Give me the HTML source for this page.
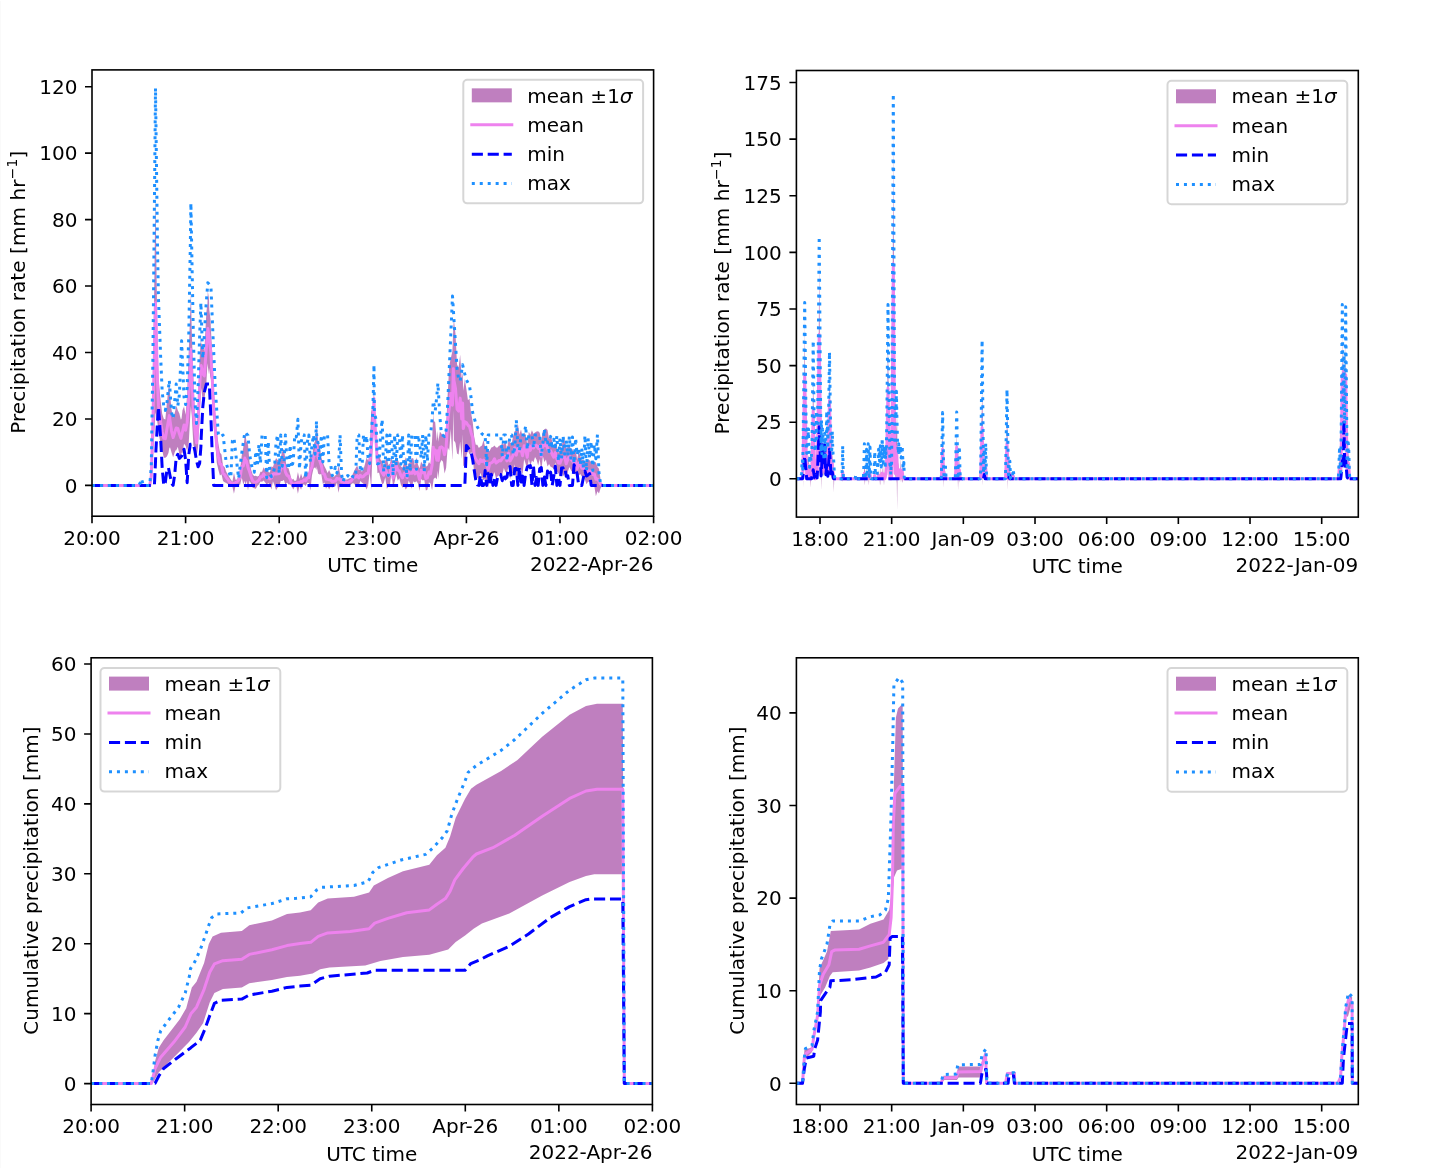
<!DOCTYPE html>
<html lang="en"><head><meta charset="utf-8"><title>Precipitation ensemble statistics</title>
<style>html,body{margin:0;padding:0;background:#fff}svg{display:block;will-change:transform}</style></head>
<body>
<svg width="1430" height="1168" viewBox="0 0 1430 1168" font-family="'DejaVu Sans','Liberation Sans',sans-serif" font-size="20" fill="#000">
<rect width="1430" height="1168" fill="#fff"/>
<rect x="0" y="1" width="1" height="1167" fill="#fafafa"/>
<clipPath id="c1"><rect x="92" y="69.9" width="561.6" height="446.3"/></clipPath>
<g clip-path="url(#c1)" fill="none" stroke-linejoin="round">
<polygon points="92,485.4 93.56,485.4 95.12,485.4 96.68,485.4 98.24,485.4 99.8,485.4 101.36,485.4 102.92,485.4 104.48,485.4 106.04,485.4 107.6,485.4 109.16,485.4 110.72,485.4 112.28,485.4 113.84,485.4 115.4,485.4 116.96,485.4 118.52,485.4 120.08,485.4 121.64,485.4 123.2,485.4 124.76,485.4 126.32,485.4 127.88,485.4 129.44,485.4 131,485.4 132.56,485.4 134.12,485.4 135.68,485.4 137.24,485.4 138.8,485.4 140.36,485.4 141.5,485.4 141.92,485.4 143.48,485.4 145.04,485.4 146.6,485.4 148.16,485.4 149.72,485.4 151.28,470.52 152.84,387.59 154.4,274.89 155.5,193.02 155.96,231.74 157.52,340.01 158.5,379.08 159.08,384.86 160.64,400.41 162.2,413.63 163.76,418.82 165.32,419.56 166.88,402.68 168.44,388.22 169.3,383.01 170,393.5 171.56,409.73 173.12,417.81 174.68,412.91 176.2,406.83 176.24,405.19 177.8,410.14 179.36,413.62 180.92,419.85 181.6,418.34 182.48,410.27 184.04,406.43 185.6,414.69 187.16,394.54 188.72,351.8 190.28,310.65 190.9,292.01 191.84,332.84 193.4,379.23 194.96,412.48 196.52,428.84 198.08,402.02 199.64,358.45 200.9,338.11 201.2,343.31 202.76,345.82 204.32,351.46 205.88,321.6 206.3,312.65 207.44,303.42 207.8,290.92 209,298.87 209.3,310.03 210.56,319.43 210.9,328.38 212.12,351.54 213.68,385.5 215.24,412.84 216.8,431.36 218.36,443.43 219.92,452.41 221.48,454.55 223.04,465.66 224.6,466.95 226.16,471.61 227.72,474.56 229.28,477.02 230.84,479.48 232.4,481.83 233.96,472.85 235.52,479.63 237.08,479.42 238.64,475 240.2,469.03 241.76,455.21 243.32,447.5 244.88,435.21 245.2,432.72 246.44,441.22 248,444.58 249.56,462.54 251.12,469.78 252.68,474.38 254.24,475.92 255.8,475.82 257.36,476.58 258.92,475.69 260.48,471.73 262.04,471.87 263.6,467.3 265.16,470.01 266.72,470.72 268.28,472.07 269.84,472.51 271.4,466.55 272.96,467.02 274.52,462 276.08,457.97 277.64,459.94 279.2,460.52 280.76,456.98 282.32,451.27 283.88,448.67 285.44,459.44 287,468.1 288.56,468.31 290.12,473.74 291.68,480.05 293.24,478.67 294.8,480.9 296.36,480.33 297.92,471.92 299.48,478.95 301.04,473.47 302.6,478.2 304.16,474.86 305.72,475.5 307.28,472.46 308.84,472.39 310.4,450.05 311.96,458.69 313.52,445.1 315.08,441.1 316.5,428.59 316.64,423.52 318.2,441.58 319.76,446.84 321.32,457.09 322.88,462.48 324.44,466.24 326,469.19 327.56,472.89 329.12,470.03 330.68,473.4 332.24,476.03 333.8,477.06 335.36,475.34 336.92,474.15 338.48,465.47 340.04,473.17 341.6,478.22 343.16,478.43 344.72,479.81 346.28,479.54 347.84,479.31 349.4,478.37 350.96,477.86 352.52,474.42 354.08,470.93 355.64,468.03 357.2,465.59 358.76,469.99 360.32,469.56 361.88,471.63 363.44,469.38 365,463.96 366.56,457.62 368.12,460.65 369.68,454.89 371.24,407.98 372.8,416.4 374,385.17 374.36,403.39 375.92,430.29 377.48,454.89 379.04,453.91 380.6,459.75 382.16,461.31 383.72,467.23 385.28,460.14 386.84,457.78 388.4,465.23 389.96,463.62 391.52,456.77 393.08,468.76 394.64,462.42 396.2,456.63 397.76,459.5 399.32,463.54 400.88,466.14 402.44,467.85 404,462.63 405.56,457.1 407.12,467.27 408.68,463.05 410.24,462.61 411.8,457.89 413.36,458.61 414.92,465.41 416.48,457.33 418.04,464.77 419.6,468.49 421.16,461.51 422.72,464.8 424.28,462.55 425.84,466.55 427.4,466.08 428.96,461.91 430.52,464.25 432.08,439.99 433.3,413.08 433.64,420.77 435.2,422.34 436.76,441.09 437.9,430.64 438.32,441.77 439.88,431.5 441.44,433.66 443,434.54 444.56,435.71 446.12,427.33 447.68,394.39 449.24,365.85 450.8,358.25 452.36,351.22 452.5,348.55 453.3,327.29 453.92,320.27 455.48,333.8 457.04,364.46 458.6,367.7 460.16,354.74 461.72,379.1 462.6,371.8 463.28,390.87 464.84,378.98 466.4,389.22 467.96,400.33 469.52,398.57 471.08,413.02 472.64,421.13 474.2,436.88 475.76,444.83 477.32,444.83 478.88,448.1 480.44,446.56 482,445.44 483.56,439.9 485.12,447.04 486.68,445.15 488.24,451.8 489.8,450.5 491.36,447.41 492.92,446.89 494.48,445.48 496.04,447.5 497.6,447.46 499.16,445.48 500.72,445.97 502.28,442.42 503.84,444.85 505.4,440.59 506.96,448.77 508.52,440.22 510.08,442.59 511.64,443.57 513.2,435.9 514.76,431.05 516.32,430.71 517.88,423.6 519.44,434.53 521,429.62 522.56,437.12 524.12,432.44 525.68,434.9 527.24,444.02 528.8,431.78 530.36,434.63 531.92,430.2 533.48,433.71 535.04,432.56 536.6,431.44 538.16,431.29 539.72,432.72 541.28,440.7 542.84,431.11 544.4,429.35 545.96,428.47 547.52,429.93 549.08,439.13 550.64,434.74 552.2,441.45 553.76,445.89 555.32,442.72 556.88,446.89 558.44,452.84 560,449.4 561.56,447.52 563.12,438.03 564.68,440.28 566.24,449.01 567.8,446.69 569.36,445.39 570.92,448.76 572.48,449.18 574.04,452.84 575.6,448.56 577.16,459.41 578.72,451.6 580.28,455.72 581.84,459.97 583.4,459.87 584.96,462.32 586.52,460.82 588.08,459.5 589.64,460.32 591.2,462.14 592.76,464.57 594.32,462.04 595.88,462.18 597.44,466.79 599,468.86 600.56,479.53 602.12,485.4 603.68,485.4 605.24,485.4 606.8,485.4 608.36,485.4 609.92,485.4 611.48,485.4 613.04,485.4 614.6,485.4 616.16,485.4 617.72,485.4 619.28,485.4 620.84,485.4 622.4,485.4 623.96,485.4 625.52,485.4 627.08,485.4 628.64,485.4 630.2,485.4 631.76,485.4 633.32,485.4 634.88,485.4 636.44,485.4 638,485.4 639.56,485.4 641.12,485.4 642.68,485.4 644.24,485.4 645.8,485.4 647.36,485.4 648.92,485.4 650.48,485.4 652.04,485.4 653.6,485.4 653.6,485.4 652.04,485.4 650.48,485.4 648.92,485.4 647.36,485.4 645.8,485.4 644.24,485.4 642.68,485.4 641.12,485.4 639.56,485.4 638,485.4 636.44,485.4 634.88,485.4 633.32,485.4 631.76,485.4 630.2,485.4 628.64,485.4 627.08,485.4 625.52,485.4 623.96,485.4 622.4,485.4 620.84,485.4 619.28,485.4 617.72,485.4 616.16,485.4 614.6,485.4 613.04,485.4 611.48,485.4 609.92,485.4 608.36,485.4 606.8,485.4 605.24,485.4 603.68,485.4 602.12,485.4 600.56,488.27 599,493.61 597.44,491.2 595.88,496.29 594.32,485.99 592.76,484.5 591.2,481.49 589.64,482.1 588.08,481.84 586.52,484.23 584.96,479.67 583.4,475.94 581.84,476.41 580.28,473.92 578.72,475.56 577.16,478.43 575.6,473.6 574.04,474.36 572.48,472.61 570.92,470.2 569.36,467.01 567.8,472.09 566.24,478.67 564.68,473.71 563.12,476.16 561.56,469.83 560,477.04 558.44,473.31 556.88,471.2 555.32,462.46 553.76,468.6 552.2,467.41 550.64,466.69 549.08,464.01 547.52,466.49 545.96,459.39 544.4,462.05 542.84,456.03 541.28,471.68 539.72,459.11 538.16,465.4 536.6,459.86 535.04,456.93 533.48,462.36 531.92,460.44 530.36,466.1 528.8,459.03 527.24,470.53 525.68,464.04 524.12,458.92 522.56,474.55 521,469.68 519.44,467.34 517.88,470.13 516.32,479.59 514.76,464.26 513.2,473.66 511.64,472.97 510.08,479.2 508.52,466.27 506.96,473.01 505.4,472.08 503.84,468.08 502.28,474.43 500.72,475.76 499.16,475.3 497.6,476.28 496.04,478.65 494.48,471.95 492.92,476.48 491.36,478.29 489.8,476.39 488.24,487.24 486.68,484.56 485.12,478.62 483.56,480.22 482,477.58 480.44,472.74 478.88,479.41 477.32,477.96 475.76,473.3 474.2,474.6 472.64,453.74 471.08,452.3 469.52,454.48 467.96,450.15 466.4,455.88 464.84,464.48 463.28,466.31 462.6,434.2 461.72,459.01 460.16,441.53 458.6,454.45 457.04,453.54 455.48,442.83 453.92,440.41 453.3,410.38 452.5,459 452.36,459.08 450.8,428.88 449.24,450.58 447.68,447.21 446.12,468.1 444.56,473.6 443,461.79 441.44,460.08 439.88,463.15 438.32,479.1 437.9,470.64 436.76,479.19 435.2,477.44 433.64,479.01 433.3,481.51 432.08,490.2 430.52,483.43 428.96,482.15 427.4,489.73 425.84,490.38 424.28,480.07 422.72,480.62 421.16,478.97 419.6,490.92 418.04,483.52 416.48,481.31 414.92,482.4 413.36,481.15 411.8,488.72 410.24,484.09 408.68,480.53 407.12,487.83 405.56,489.39 404,484.93 402.44,487.86 400.88,484.8 399.32,478.31 397.76,480.69 396.2,474.22 394.64,481.91 393.08,487.48 391.52,471.93 389.96,484.89 388.4,486.83 386.84,488.72 385.28,477.13 383.72,483.32 382.16,484.25 380.6,478.93 379.04,472.4 377.48,473.14 375.92,448.68 374.36,421.81 374,411.69 372.8,441.18 371.24,489.72 369.68,472.32 368.12,485.82 366.56,489.39 365,485.74 363.44,483.84 361.88,482.41 360.32,480.99 358.76,486.01 357.2,485.76 355.64,486.07 354.08,483.41 352.52,483.34 350.96,484.46 349.4,484.67 347.84,486.43 346.28,484.7 344.72,486.15 343.16,485.86 341.6,485.29 340.04,484.5 338.48,492.71 336.92,482.39 335.36,486.54 333.8,485.51 332.24,487.74 330.68,486.52 329.12,489.39 327.56,485.91 326,488.72 324.44,482.41 322.88,483.92 321.32,474.11 319.76,474.55 318.2,473.63 316.64,466.37 316.5,469.94 315.08,467.18 313.52,468.43 311.96,475.6 310.4,490.38 308.84,482.94 307.28,482.69 305.72,486.04 304.16,484.54 302.6,484.6 301.04,489.72 299.48,485.95 297.92,493.71 296.36,486.04 294.8,486.38 293.24,489.39 291.68,486.3 290.12,484.57 288.56,484.39 287,482.43 285.44,484.65 283.88,479.99 282.32,481.12 280.76,481.12 279.2,486.42 277.64,487.54 276.08,490.14 274.52,485.51 272.96,481.32 271.4,489.39 269.84,485.03 268.28,483.12 266.72,484.75 265.16,482.61 263.6,480.49 262.04,481.64 260.48,481.53 258.92,484.6 257.36,485.99 255.8,488.72 254.24,488.18 252.68,487.67 251.12,483.8 249.56,480.87 248,490.38 246.44,480.87 245.2,486.16 244.88,480.87 243.32,484.46 241.76,477.48 240.2,484.58 238.64,484.98 237.08,484.39 235.52,485.7 233.96,493.71 232.4,486.51 230.84,485.99 229.28,486.43 227.72,483.89 226.16,483.11 224.6,482.18 223.04,480.93 221.48,474.23 219.92,475.48 218.36,469.66 216.8,463.02 215.24,441.8 213.68,427.79 212.12,400.99 210.9,376.62 210.56,379.85 209.3,368.04 209,374.15 207.8,366.23 207.44,363.3 206.3,384.38 205.88,386.75 204.32,400.43 202.76,401.81 201.2,387.74 200.9,393.93 199.64,412.95 198.08,446.42 196.52,456.97 194.96,447.92 193.4,445.58 191.84,416.62 190.9,406.35 190.28,415.17 188.72,443.13 187.16,451.07 185.6,445.8 184.04,443.74 182.48,453.19 181.6,452.62 180.92,456.9 179.36,454.08 177.8,446.65 176.24,450.7 176.2,449.31 174.68,452.62 173.12,457.36 171.56,452.44 170,447.33 169.3,448.25 168.44,452.97 166.88,456.54 165.32,457.69 163.76,457.78 162.2,450.02 160.64,444.09 159.08,435.45 158.5,432.24 157.52,423.56 155.96,414.34 155.5,412.3 154.4,432.77 152.84,460.95 151.28,481.68 149.72,485.4 148.16,485.4 146.6,485.4 145.04,485.4 143.48,485.4 141.92,485.4 141.5,485.4 140.36,485.4 138.8,485.4 137.24,485.4 135.68,485.4 134.12,485.4 132.56,485.4 131,485.4 129.44,485.4 127.88,485.4 126.32,485.4 124.76,485.4 123.2,485.4 121.64,485.4 120.08,485.4 118.52,485.4 116.96,485.4 115.4,485.4 113.84,485.4 112.28,485.4 110.72,485.4 109.16,485.4 107.6,485.4 106.04,485.4 104.48,485.4 102.92,485.4 101.36,485.4 99.8,485.4 98.24,485.4 96.68,485.4 95.12,485.4 93.56,485.4 92,485.4" fill="#800080" fill-opacity="0.5" stroke="none"/>
<polyline points="92,485.4 93.56,485.4 95.12,485.4 96.68,485.4 98.24,485.4 99.8,485.4 101.36,485.4 102.92,485.4 104.48,485.4 106.04,485.4 107.6,485.4 109.16,485.4 110.72,485.4 112.28,485.4 113.84,485.4 115.4,485.4 116.96,485.4 118.52,485.4 120.08,485.4 121.64,485.4 123.2,485.4 124.76,485.4 126.32,485.4 127.88,485.4 129.44,485.4 131,485.4 132.56,485.4 134.12,485.4 135.68,485.4 137.24,485.4 138.8,485.4 140.36,485.4 141.5,485.4 141.92,485.4 143.48,485.4 145.04,485.4 146.6,485.4 148.16,485.4 149.72,485.4 151.28,476.1 152.84,424.27 154.4,353.83 155.5,302.66 155.96,323.04 157.52,381.78 158.5,405.66 159.08,410.16 160.64,422.25 162.2,431.82 163.76,438.3 165.32,438.62 166.88,429.61 168.44,420.6 169.3,415.63 170,420.42 171.56,431.09 173.12,437.59 174.68,432.77 176.2,428.07 176.24,427.94 177.8,428.39 179.36,433.85 180.92,438.37 181.6,435.48 182.48,431.73 184.04,425.08 185.6,430.25 187.16,422.8 188.72,397.46 190.28,362.91 190.9,349.18 191.84,374.73 193.4,412.4 194.96,430.2 196.52,442.91 198.08,424.22 199.64,385.7 200.9,366.02 201.2,365.52 202.76,373.82 204.32,375.94 205.88,354.17 206.3,348.51 207.44,333.36 207.8,328.58 209,336.51 209.3,339.03 210.56,349.64 210.9,352.5 212.12,376.26 213.68,406.65 215.24,427.32 216.8,447.19 218.36,456.54 219.92,463.94 221.48,464.39 223.04,473.3 224.6,474.56 226.16,477.36 227.72,479.22 229.28,481.72 230.84,482.74 232.4,484.17 233.96,483.28 235.52,482.67 237.08,481.9 238.64,479.99 240.2,476.8 241.76,466.35 243.32,465.98 244.88,458.04 245.2,459.44 246.44,461.04 248,467.48 249.56,471.71 251.12,476.79 252.68,481.03 254.24,482.05 255.8,482.27 257.36,481.29 258.92,480.14 260.48,476.63 262.04,476.75 263.6,473.89 265.16,476.31 266.72,477.74 268.28,477.6 269.84,478.77 271.4,477.97 272.96,474.17 274.52,473.76 276.08,474.06 277.64,473.74 279.2,473.47 280.76,469.05 282.32,466.19 283.88,464.33 285.44,472.05 287,475.26 288.56,476.35 290.12,479.16 291.68,483.17 293.24,484.03 294.8,483.64 296.36,483.18 297.92,482.81 299.48,482.45 301.04,481.6 302.6,481.4 304.16,479.7 305.72,480.77 307.28,477.57 308.84,477.67 310.4,470.22 311.96,467.14 313.52,456.76 315.08,454.14 316.5,449.26 316.64,444.95 318.2,457.6 319.76,460.69 321.32,465.6 322.88,473.2 324.44,474.32 326,478.96 327.56,479.4 329.12,479.71 330.68,479.96 332.24,481.89 333.8,481.29 335.36,480.94 336.92,478.27 338.48,479.09 340.04,478.83 341.6,481.75 343.16,482.15 344.72,482.98 346.28,482.12 347.84,482.87 349.4,481.52 350.96,481.16 352.52,478.88 354.08,477.17 355.64,477.05 357.2,475.68 358.76,478 360.32,475.27 361.88,477.02 363.44,476.61 365,474.85 366.56,473.5 368.12,473.23 369.68,463.6 371.24,448.85 372.8,428.79 374,398.43 374.36,412.6 375.92,439.48 377.48,464.01 379.04,463.15 380.6,469.34 382.16,472.78 383.72,475.27 385.28,468.63 386.84,473.25 388.4,476.03 389.96,474.25 391.52,464.35 393.08,478.12 394.64,472.17 396.2,465.43 397.76,470.1 399.32,470.93 400.88,475.47 402.44,477.86 404,473.78 405.56,473.25 407.12,477.55 408.68,471.79 410.24,473.35 411.8,473.31 413.36,469.88 414.92,473.9 416.48,469.32 418.04,474.15 419.6,479.71 421.16,470.24 422.72,472.71 424.28,471.31 425.84,478.47 427.4,477.9 428.96,472.03 430.52,473.84 432.08,465.09 433.3,447.29 433.64,449.89 435.2,449.89 436.76,460.14 437.9,450.64 438.32,460.43 439.88,447.32 441.44,446.87 443,448.17 444.56,454.66 446.12,447.72 447.68,420.8 449.24,408.22 450.8,393.57 452.36,405.15 452.5,403.78 453.3,368.83 453.92,380.34 455.48,388.31 457.04,409 458.6,411.08 460.16,398.13 461.72,419.05 462.6,403 463.28,428.59 464.84,421.73 466.4,422.55 467.96,425.24 469.52,426.53 471.08,432.66 472.64,437.43 474.2,455.74 475.76,459.07 477.32,461.4 478.88,463.76 480.44,459.65 482,461.51 483.56,460.06 485.12,462.83 486.68,464.85 488.24,469.52 489.8,463.44 491.36,462.85 492.92,461.69 494.48,458.71 496.04,463.07 497.6,461.87 499.16,460.39 500.72,460.87 502.28,458.43 503.84,456.47 505.4,456.34 506.96,460.89 508.52,453.25 510.08,460.9 511.64,458.27 513.2,454.78 514.76,447.65 516.32,455.15 517.88,446.86 519.44,450.94 521,449.65 522.56,455.83 524.12,445.68 525.68,449.47 527.24,457.27 528.8,445.4 530.36,450.37 531.92,445.32 533.48,448.03 535.04,444.75 536.6,445.65 538.16,448.35 539.72,445.91 541.28,456.19 542.84,443.57 544.4,445.7 545.96,443.93 547.52,448.21 549.08,451.57 550.64,450.71 552.2,454.43 553.76,457.25 555.32,452.59 556.88,459.05 558.44,463.08 560,463.22 561.56,458.68 563.12,457.09 564.68,456.99 566.24,463.84 567.8,459.39 569.36,456.2 570.92,459.48 572.48,460.89 574.04,463.6 575.6,461.08 577.16,468.92 578.72,463.58 580.28,464.82 581.84,468.19 583.4,467.91 584.96,471 586.52,472.53 588.08,470.67 589.64,471.21 591.2,471.81 592.76,474.53 594.32,474.02 595.88,479.23 597.44,479 599,481.23 600.56,483.9 602.12,485.4 603.68,485.4 605.24,485.4 606.8,485.4 608.36,485.4 609.92,485.4 611.48,485.4 613.04,485.4 614.6,485.4 616.16,485.4 617.72,485.4 619.28,485.4 620.84,485.4 622.4,485.4 623.96,485.4 625.52,485.4 627.08,485.4 628.64,485.4 630.2,485.4 631.76,485.4 633.32,485.4 634.88,485.4 636.44,485.4 638,485.4 639.56,485.4 641.12,485.4 642.68,485.4 644.24,485.4 645.8,485.4 647.36,485.4 648.92,485.4 650.48,485.4 652.04,485.4 653.6,485.4" stroke="#ee82ee" stroke-width="3" stroke-linecap="square"/>
<polyline points="92,485.4 93.56,485.4 95.12,485.4 96.68,485.4 98.24,485.4 99.8,485.4 101.36,485.4 102.92,485.4 104.48,485.4 106.04,485.4 107.6,485.4 109.16,485.4 110.72,485.4 112.28,485.4 113.84,485.4 115.4,485.4 116.96,485.4 118.52,485.4 120.08,485.4 121.64,485.4 123.2,485.4 124.76,485.4 126.32,485.4 127.88,485.4 129.44,485.4 131,485.4 132.56,485.4 134.12,485.4 135.68,485.4 137.24,485.4 138.8,485.4 140.36,485.4 141.5,485.4 141.92,485.4 143.48,485.4 145.04,485.4 146.6,485.4 148.16,485.4 149.72,485.4 151.28,485.4 152.84,485.4 154.4,485.4 155.5,461.79 155.96,449.73 157.52,420.99 158.5,406.99 159.08,415.28 160.64,438.25 162.2,468.15 163.76,485.4 165.32,482.56 166.88,470.43 168.44,467.66 169.3,471.94 170,475.43 171.56,483.21 173.12,485.4 174.68,474.86 176.2,457.49 176.24,457.23 177.8,454.3 179.36,458.45 180.92,456.93 181.6,456.03 182.48,454.02 184.04,449.22 185.6,459.84 187.16,482.74 188.72,455.17 190.28,444.2 190.9,444.2 191.84,444.2 193.4,444.2 194.96,451.22 196.52,460.81 198.08,466.79 199.64,463.33 200.9,446.74 201.2,437.68 202.76,407.34 204.32,392.29 205.88,385.81 206.3,384.06 207.44,384.06 207.8,384.06 209,384.06 209.3,384.06 210.56,409.92 210.9,416.9 212.12,450.85 213.68,485.4 215.24,485.4 216.8,485.4 218.36,485.4 219.92,485.4 221.48,485.4 223.04,485.4 224.6,485.4 226.16,485.4 227.72,485.4 229.28,485.4 230.84,485.4 232.4,485.4 233.96,485.4 235.52,485.4 237.08,485.4 238.64,485.4 240.2,485.4 241.76,485.4 243.32,485.4 244.88,485.4 245.2,485.4 246.44,485.4 248,485.4 249.56,485.4 251.12,485.4 252.68,485.4 254.24,485.4 255.8,485.4 257.36,485.4 258.92,485.4 260.48,485.4 262.04,485.4 263.6,485.4 265.16,485.4 266.72,485.4 268.28,485.4 269.84,485.4 271.4,485.4 272.96,485.4 274.52,485.4 276.08,485.4 277.64,485.4 279.2,485.4 280.76,485.4 282.32,485.4 283.88,485.4 285.44,485.4 287,485.4 288.56,485.4 290.12,485.4 291.68,485.4 293.24,485.4 294.8,485.4 296.36,485.4 297.92,485.4 299.48,485.4 301.04,485.4 302.6,485.4 304.16,485.4 305.72,485.4 307.28,485.4 308.84,485.4 310.4,485.4 311.96,485.4 313.52,485.4 315.08,485.4 316.5,485.4 316.64,485.4 318.2,485.4 319.76,485.4 321.32,485.4 322.88,485.4 324.44,485.4 326,485.4 327.56,485.4 329.12,485.4 330.68,485.4 332.24,485.4 333.8,485.4 335.36,485.4 336.92,485.4 338.48,485.4 340.04,485.4 341.6,485.4 343.16,485.4 344.72,485.4 346.28,485.4 347.84,485.4 349.4,485.4 350.96,485.4 352.52,485.4 354.08,485.4 355.64,485.4 357.2,485.4 358.76,485.4 360.32,485.4 361.88,485.4 363.44,485.4 365,485.4 366.56,485.4 368.12,485.4 369.68,485.4 371.24,485.4 372.8,485.4 374,485.4 374.36,485.4 375.92,485.4 377.48,485.4 379.04,485.4 380.6,485.4 382.16,485.4 383.72,485.4 385.28,485.4 386.84,485.4 388.4,485.4 389.96,485.4 391.52,485.4 393.08,485.4 394.64,485.4 396.2,485.4 397.76,485.4 399.32,485.4 400.88,485.4 402.44,485.4 404,485.4 405.56,485.4 407.12,485.4 408.68,485.4 410.24,485.4 411.8,485.4 413.36,485.4 414.92,485.4 416.48,485.4 418.04,485.4 419.6,485.4 421.16,485.4 422.72,485.4 424.28,485.4 425.84,485.4 427.4,485.4 428.96,485.4 430.52,485.4 432.08,485.4 433.3,485.4 433.64,485.4 435.2,485.4 436.76,485.4 437.9,485.4 438.32,485.4 439.88,485.4 441.44,485.4 443,485.4 444.56,485.4 446.12,485.4 447.68,485.4 449.24,485.4 450.8,485.4 452.36,485.4 452.5,485.4 453.3,485.4 453.92,485.4 455.48,485.4 457.04,485.4 458.6,485.4 460.16,485.4 461.72,485.4 462.6,485.4 463.28,485.4 464.84,485.4 466.4,445.53 467.96,447.52 469.52,449.72 471.08,452.31 472.64,459.34 474.2,470.06 475.76,480 477.32,484.84 478.88,485.4 480.44,475.36 482,485.4 483.56,485.4 485.12,470.59 486.68,485.4 488.24,473.5 489.8,485.4 491.36,474.25 492.92,485.4 494.48,478.1 496.04,485.4 497.6,477.32 499.16,474.35 500.72,474.56 502.28,480.75 503.84,474.01 505.4,478.84 506.96,477.14 508.52,467.57 510.08,466.65 511.64,485.4 513.2,485.4 514.76,468.52 516.32,468.43 517.88,485.4 519.44,467.3 521,485.4 522.56,475.94 524.12,485.4 525.68,472.99 527.24,467.21 528.8,466.02 530.36,465.62 531.92,485.4 533.48,465.92 535.04,485.4 536.6,477.44 538.16,485.4 539.72,468.71 541.28,467.49 542.84,485.4 544.4,476.92 545.96,485.4 547.52,471.02 549.08,476.42 550.64,472.13 552.2,485.4 553.76,476.45 555.32,466.27 556.88,485.4 558.44,477.61 560,485.4 561.56,467.89 563.12,467.94 564.68,466.69 566.24,476.25 567.8,475.71 569.36,485.4 570.92,485.4 572.48,485.4 574.04,464.87 575.6,469.3 577.16,474.01 578.72,485.4 580.28,485.4 581.84,485.4 583.4,477.73 584.96,471.02 586.52,476.04 588.08,475 589.64,473.55 591.2,485.4 592.76,485.4 594.32,485.4 595.88,485.4 597.44,485.4 599,485.4 600.56,485.4 602.12,485.4 603.68,485.4 605.24,485.4 606.8,485.4 608.36,485.4 609.92,485.4 611.48,485.4 613.04,485.4 614.6,485.4 616.16,485.4 617.72,485.4 619.28,485.4 620.84,485.4 622.4,485.4 623.96,485.4 625.52,485.4 627.08,485.4 628.64,485.4 630.2,485.4 631.76,485.4 633.32,485.4 634.88,485.4 636.44,485.4 638,485.4 639.56,485.4 641.12,485.4 642.68,485.4 644.24,485.4 645.8,485.4 647.36,485.4 648.92,485.4 650.48,485.4 652.04,485.4 653.6,485.4" stroke="#0000ff" stroke-width="3" stroke-dasharray="11.1 4.8"/>
<polyline points="92,485.4 93.56,485.4 95.12,485.4 96.68,485.4 98.24,485.4 99.8,485.4 101.36,485.4 102.92,485.4 104.48,485.4 106.04,485.4 107.6,485.4 109.16,485.4 110.72,485.4 112.28,485.4 113.84,485.4 115.4,485.4 116.96,485.4 118.52,485.4 120.08,485.4 121.64,485.4 123.2,485.4 124.76,485.4 126.32,485.4 127.88,485.4 129.44,485.4 131,485.4 132.56,485.4 134.12,485.4 135.68,485.4 137.24,485.4 138.8,485.4 140.36,482.54 141.5,478.75 141.92,480.4 143.48,485.4 145.04,485.4 146.6,485.4 148.16,485.4 149.72,485.4 151.28,466.79 152.84,363.13 154.4,204.4 155.5,88.03 155.96,124.46 157.52,248.03 158.5,299.43 159.08,314.96 160.64,356.71 162.2,391.66 163.76,406.1 165.32,410.42 166.88,403.71 168.44,388.48 169.3,380.08 170,390.03 171.56,412.22 173.12,418.64 174.68,401.13 176.2,384.06 176.24,384.61 177.8,406.02 179.36,394.89 180.92,357.27 181.6,340.87 182.48,361.15 184.04,397.1 185.6,404.5 187.16,387.29 188.72,337.71 190.28,248.05 190.9,202.99 191.84,255.04 193.4,335.89 194.96,400.68 196.52,423.55 198.08,388.26 199.64,335.71 200.9,302.66 201.2,311.68 202.76,358.58 204.32,335.09 205.88,307.79 206.3,302.31 207.44,287.43 207.8,282.73 209,284.01 209.3,284.34 210.56,285.69 210.9,286.05 212.12,315 213.68,351.25 215.24,386.5 216.8,411.46 218.36,434.36 219.92,437.03 221.48,436.02 223.04,435 224.6,448.1 226.16,462.82 227.72,468.35 229.28,472.98 230.84,477.62 232.4,440.57 233.96,437.89 235.52,451.39 237.08,465.25 238.64,478.42 240.2,465.47 241.76,453.44 243.32,442.39 244.88,432 245.2,432.36 246.44,433.78 248,435.56 249.56,453.7 251.12,463.47 252.68,469.95 254.24,472.19 255.8,451.11 257.36,466.5 258.92,444.38 260.48,463.38 262.04,434.9 263.6,434.9 265.16,434.9 266.72,477.74 268.28,441.49 269.84,473.49 271.4,476.58 272.96,474.17 274.52,468.08 276.08,441.96 277.64,434.9 279.2,473.47 280.76,434.9 282.32,466.19 283.88,464.33 285.44,434.9 287,462.67 288.56,469.49 290.12,445.05 291.68,467.88 293.24,461.27 294.8,434.9 296.36,436.84 297.92,419.28 299.48,469.11 301.04,443.16 302.6,434.9 304.16,434.9 305.72,478.01 307.28,442.38 308.84,434.9 310.4,461.97 311.96,445.44 313.52,434.9 315.08,454.14 316.5,420.94 316.64,434.9 318.2,443.98 319.76,460.69 321.32,434.9 322.88,461.98 324.44,434.9 326,434.9 327.56,434.9 329.12,463.34 330.68,464.16 332.24,475.6 333.8,473.54 335.36,467.17 336.92,473.11 338.48,466.88 340.04,434.9 341.6,474.85 343.16,481.86 344.72,475.48 346.28,476.52 347.84,475.6 349.4,476.64 350.96,479.03 352.52,476.46 354.08,477.17 355.64,477.05 357.2,434.9 358.76,434.9 360.32,469.15 361.88,472.11 363.44,434.9 365,443.29 366.56,435.56 368.12,458.31 369.68,463.6 371.24,434.9 372.8,412.3 374,364.79 374.36,412.6 375.92,418.95 377.48,464.01 379.04,463.15 380.6,434.9 382.16,419.28 383.72,471.71 385.28,461.29 386.84,434.9 388.4,475.38 389.96,434.9 391.52,437.07 393.08,475.6 394.64,434.9 396.2,465.43 397.76,434.9 399.32,434.9 400.88,464.13 402.44,434.9 404,469.06 405.56,462.17 407.12,477.52 408.68,434.9 410.24,471.22 411.8,434.9 413.36,434.9 414.92,434.9 416.48,469.32 418.04,434.9 419.6,443.49 421.16,458.07 422.72,434.9 424.28,471.31 425.84,434.9 427.4,461.33 428.96,434.9 430.52,434.9 432.08,419.34 433.3,401.01 433.64,402.75 435.2,410.76 436.76,396.96 437.9,383.07 438.32,390.24 439.88,416.9 441.44,434.22 443,435.35 444.56,436.47 446.12,430.44 447.68,403.89 449.24,369.33 450.8,334.43 452.36,299.18 452.5,296.02 453.3,308.78 453.92,318.66 455.48,343.54 457.04,368.42 458.6,378.68 460.16,381.32 461.72,370.75 462.6,364.79 463.28,367.65 464.84,374.21 466.4,379.82 467.96,382.71 469.52,385.61 471.08,397.73 472.64,412.53 474.2,417.95 475.76,423.37 477.32,426.98 478.88,429.32 480.44,431.66 482,434 483.56,434.9 485.12,434.9 486.68,464.85 488.24,434.9 489.8,434.9 491.36,434.9 492.92,434.9 494.48,434.9 496.04,434.9 497.6,434.9 499.16,434.9 500.72,434.9 502.28,456.24 503.84,434.9 505.4,434.9 506.96,460.89 508.52,447.5 510.08,434.9 511.64,434.9 513.2,454.78 514.76,447.65 516.32,419.95 517.88,446.86 519.44,450.94 521,434.9 522.56,434.9 524.12,434.9 525.68,425.59 527.24,449.74 528.8,434.9 530.36,434.9 531.92,434.9 533.48,448.03 535.04,434.9 536.6,434.9 538.16,434.9 539.72,434.9 541.28,456.19 542.84,443.57 544.4,428.92 545.96,443.93 547.52,441.91 549.08,451.57 550.64,436.37 552.2,448.8 553.76,439.2 555.32,446.78 556.88,436.08 558.44,461.15 560,438.38 561.56,458.68 563.12,435.74 564.68,454 566.24,440.05 567.8,455.9 569.36,436.05 570.92,459.48 572.48,437.05 574.04,463.6 575.6,438.18 577.16,454.91 578.72,448.09 580.28,464.82 581.84,448.31 583.4,467.91 584.96,435.48 586.52,470.56 588.08,438.41 589.64,458.08 591.2,441.43 592.76,470.42 594.32,444.41 595.88,458.82 597.44,434.57 599,473.11 600.56,483.9 602.12,485.4 603.68,485.4 605.24,485.4 606.8,485.4 608.36,485.4 609.92,485.4 611.48,485.4 613.04,485.4 614.6,485.4 616.16,485.4 617.72,485.4 619.28,485.4 620.84,485.4 622.4,485.4 623.96,485.4 625.52,485.4 627.08,485.4 628.64,485.4 630.2,485.4 631.76,485.4 633.32,485.4 634.88,485.4 636.44,485.4 638,485.4 639.56,485.4 641.12,485.4 642.68,485.4 644.24,485.4 645.8,485.4 647.36,485.4 648.92,485.4 650.48,485.4 652.04,485.4 653.6,485.4" stroke="#1e90ff" stroke-width="3" stroke-dasharray="3 4.95"/>
</g>
<path d="M92 516.2v7M185.6 516.2v7M279.2 516.2v7M372.8 516.2v7M466.4 516.2v7M560 516.2v7M653.6 516.2v7M92 485.4h-7M92 418.95h-7M92 352.5h-7M92 286.05h-7M92 219.6h-7M92 153.15h-7M92 86.7h-7" stroke="#000" stroke-width="1.6" fill="none"/>
<rect x="92" y="69.9" width="561.6" height="446.3" fill="none" stroke="#000" stroke-width="1.6"/>
<text x="92" y="544.8" text-anchor="middle">20:00</text>
<text x="185.6" y="544.8" text-anchor="middle">21:00</text>
<text x="279.2" y="544.8" text-anchor="middle">22:00</text>
<text x="372.8" y="544.8" text-anchor="middle">23:00</text>
<text x="466.4" y="544.8" text-anchor="middle">Apr-26</text>
<text x="560" y="544.8" text-anchor="middle">01:00</text>
<text x="653.6" y="544.8" text-anchor="middle">02:00</text>
<text x="77.4" y="492.7" text-anchor="end">0</text>
<text x="77.4" y="426.25" text-anchor="end">20</text>
<text x="77.4" y="359.8" text-anchor="end">40</text>
<text x="77.4" y="293.35" text-anchor="end">60</text>
<text x="77.4" y="226.9" text-anchor="end">80</text>
<text x="77.4" y="160.45" text-anchor="end">100</text>
<text x="77.4" y="94" text-anchor="end">120</text>
<text x="372.8" y="572.3" text-anchor="middle">UTC time</text>
<text x="653.6" y="570.6" text-anchor="end">2022-Apr-26</text>
<text transform="translate(24.95 292.25) rotate(-90)" text-anchor="middle" letter-spacing="0.085">Precipitation rate [mm hr<tspan font-size="14" dy="-7.6">−1</tspan><tspan dy="7.6">]</tspan></text>
<rect x="463.3" y="79.75" width="179.8" height="123.6" rx="4" ry="4" fill="#fff" fill-opacity="0.8" stroke="#ccc" stroke-opacity="0.8" stroke-width="2"/>
<rect x="471.8" y="88.35" width="40" height="14" fill="#800080" fill-opacity="0.5"/>
<line x1="471.8" x2="511.8" y1="124.75" y2="124.75" stroke="#ee82ee" stroke-width="3" stroke-linecap="square"/>
<line x1="471.8" x2="511.8" y1="154.15" y2="154.15" stroke="#0000ff" stroke-width="3" stroke-dasharray="11.1 4.8"/>
<line x1="471.8" x2="511.8" y1="183.55" y2="183.55" stroke="#1e90ff" stroke-width="3" stroke-dasharray="3 4.95"/>
<text x="527.3" y="102.5">mean ±1<tspan font-style="italic">σ</tspan></text>
<text x="527.3" y="131.63">mean</text>
<text x="527.3" y="160.76">min</text>
<text x="527.3" y="189.89">max</text>
<clipPath id="c2"><rect x="796.4" y="70.5" width="561.9" height="446.6"/></clipPath>
<g clip-path="url(#c2)" fill="none" stroke-linejoin="round">
<polygon points="796.4,478.8 796.8,478.8 797.2,478.8 797.59,478.8 797.99,478.8 798.39,478.8 798.79,478.8 799.19,478.8 799.59,478.8 799.98,478.8 800.38,478.8 800.78,478.8 801.18,478.8 801.58,478.8 801.97,478.8 802.37,478.8 802.77,474.08 803.17,442.2 803.57,379.11 803.97,388.64 804.36,362.81 804.7,316.78 804.76,339 805.16,374.79 805.56,387.05 805.96,426.84 806.35,453.33 806.75,478.8 807.15,478.8 807.55,473.9 807.95,465.98 808.34,456.19 808.5,456.12 808.74,455.06 809.14,467.65 809.54,475.75 809.94,478.8 810.34,469.74 810.73,478.8 811.13,478.8 811.53,478.8 811.93,457.16 812.33,438.22 812.72,408.53 813.12,379.22 813.2,386.85 813.52,393 813.92,424.57 814.32,449.34 814.72,473.37 815.11,478.8 815.51,470.87 815.91,460.28 816.3,445.08 816.31,450.62 816.71,460.19 817.1,472.74 817.5,447.29 817.9,402.3 818.3,376.96 818.7,342.63 819.1,283.58 819.2,260.67 819.49,292.82 819.89,338.95 820.29,384.06 820.69,427.23 821.09,451.61 821.48,469.43 821.88,457.97 822.28,446.56 822.6,441.9 822.68,442.42 823.08,452.24 823.48,461.29 823.87,464.56 824.27,452.03 824.6,444.77 824.67,443.71 825.07,459.05 825.47,469.69 825.86,465.28 826.26,453.18 826.66,431.02 826.7,437.38 827.06,447.71 827.46,460.43 827.86,469.43 828.25,445.23 828.65,419.52 829.05,398.67 829.45,378.68 829.5,370.08 829.85,386.36 830.24,416.2 830.64,437.61 831.04,463.94 831.44,471.06 831.84,458.88 832.24,455.63 832.3,446.74 832.63,461.22 833.03,466.61 833.43,477.21 833.83,465.21 834.23,478.8 834.62,478.8 835.02,478.8 835.42,478.8 835.82,478.8 836.22,478.8 836.61,478.8 837.01,478.8 837.41,478.8 837.81,478.8 838.21,478.8 838.61,478.8 839,478.8 839.4,478.8 839.8,478.8 840.2,478.8 840.6,478.8 840.99,478.8 841.39,478.8 841.79,478.8 842.19,475 842.59,465 842.7,461.9 842.99,470.82 843.38,478.44 843.78,478.8 844.18,478.8 844.58,478.8 844.98,478.8 845.37,478.8 845.77,478.8 846.17,478.8 846.57,478.8 846.97,478.8 847.37,478.8 847.76,478.8 848.16,478.8 848.56,478.8 848.96,478.8 849.36,478.8 849.75,478.8 850.15,478.8 850.55,478.8 850.95,478.8 851.35,478.8 851.75,478.8 852.14,478.8 852.54,478.8 852.94,478.8 853.34,478.8 853.74,478.8 854.13,478.8 854.53,478.8 854.93,478.8 855.33,478.17 855.73,476.97 856.12,477.05 856.52,478.28 856.92,478.8 857.32,478.8 857.72,478.8 858.12,478.8 858.51,478.8 858.91,478.8 859.31,478.8 859.71,478.8 860.11,478.8 860.5,478.8 860.9,478.8 861.3,478.8 861.7,478.8 862.1,478.8 862.5,478.8 862.89,478.8 863.29,478.8 863.69,475.9 864.09,469.65 864.4,466.82 864.49,466.3 864.88,466.72 865.28,478.55 865.68,478.8 866.08,475.44 866.48,468.15 866.6,469.04 866.88,471.65 867.27,477.32 867.67,473.48 868.07,466 868.2,467.47 868.47,471.12 868.87,470.17 869.26,478.06 869.66,473.66 870,467.6 870.06,470.32 870.46,475.05 870.86,478.8 871.26,478.8 871.65,478.8 872.05,478.8 872.45,478.8 872.85,478.8 873.25,478.8 873.64,478.8 874.04,477.29 874.44,473.82 874.7,471.13 874.84,473.01 875.24,475.67 875.64,478.8 876.03,478.8 876.43,478.8 876.83,478.8 877.23,478.8 877.63,478.8 878.02,475.63 878.42,471.97 878.6,469.82 878.82,472.69 879.22,475.82 879.62,478.55 880.02,468.44 880.4,467.41 880.41,471.18 880.81,474.41 881.21,478.8 881.61,474.68 882.01,469.39 882.2,467.28 882.4,468.29 882.8,475.08 883.2,478.8 883.6,473.39 884,462.95 884.39,473.13 884.79,478.64 885.19,475.42 885.59,468.51 885.8,468.82 885.99,470.02 886.39,462.58 886.78,433.19 887.18,393.91 887.58,367.75 887.98,329.42 888,348.02 888.38,368.32 888.77,398.91 889.17,432.26 889.57,461.04 889.97,478.8 890.37,478.8 890.77,478.8 891.16,478.8 891.56,478.8 891.96,427.15 892.36,349.41 892.76,260.45 893.15,189.97 893.3,119.17 893.55,200.6 893.95,260.51 894.35,369.65 894.75,443.5 895.15,469.89 895.54,451.37 895.94,441.76 896.34,425.41 896.4,410.61 896.74,430.31 897.14,414.97 897.53,465.96 897.93,473.25 898.33,464.7 898.6,463.11 898.73,463.37 899.13,470.97 899.53,478.28 899.92,471.32 900.32,460.52 900.4,456.94 900.72,467.29 901.12,475.66 901.52,474.46 901.91,465.32 902.2,458.93 902.31,461.19 902.71,470.18 903.11,478.8 903.51,478.8 903.9,478.8 904.3,478.8 904.7,478.8 905.1,478.8 905.5,478.8 905.9,478.8 906.29,478.8 906.69,478.8 907.09,478.8 907.49,478.8 907.89,478.8 908.28,478.8 908.68,478.8 909.08,478.8 909.48,478.8 909.88,478.8 910.28,478.8 910.67,478.8 911.07,478.8 911.47,478.8 911.87,478.8 912.27,478.8 912.66,478.8 913.06,478.8 913.46,478.8 913.86,478.8 914.26,478.8 914.66,478.8 915.05,478.8 915.45,478.8 915.85,478.8 916.25,478.8 916.65,478.8 917.04,478.8 917.44,478.8 917.84,478.8 918.24,478.8 918.64,478.8 919.04,478.8 919.43,478.8 919.83,478.8 920.23,478.8 920.63,478.8 921.03,478.8 921.42,478.8 921.82,478.8 922.22,478.8 922.62,478.8 923.02,478.8 923.42,478.8 923.81,478.8 924.21,478.8 924.61,478.8 925.01,478.8 925.41,478.8 925.8,478.8 926.2,478.8 926.6,478.8 927,478.8 927.4,478.8 927.8,478.8 928.19,478.8 928.59,478.8 928.99,478.8 929.39,478.8 929.79,478.8 930.18,478.8 930.58,478.8 930.98,478.8 931.38,478.8 931.78,478.8 932.17,478.8 932.57,478.8 932.97,478.8 933.37,478.8 933.77,478.8 934.17,478.8 934.56,478.8 934.96,478.8 935.36,478.8 935.76,478.8 936.16,478.8 936.55,478.8 936.95,478.8 937.35,478.8 937.75,478.8 938.15,478.8 938.55,478.8 938.94,478.8 939.34,478.8 939.74,478.8 940.14,478.8 940.54,478.8 940.93,478.8 941.33,477.63 941.73,463.89 942.13,445.89 942.53,429.17 942.6,432.65 942.93,445.01 943.32,443.47 943.72,472.92 944.12,478.8 944.52,477.53 944.92,472.05 945.31,471.05 945.71,475.65 946.11,478.8 946.51,478.8 946.91,478.8 947.31,478.8 947.7,478.8 948.1,478.8 948.5,478.8 948.9,478.8 949.3,478.8 949.69,478.8 950.09,478.8 950.49,478.8 950.89,478.8 951.29,478.8 951.68,478.8 952.08,478.8 952.48,478.8 952.88,478.8 953.28,478.8 953.68,478.8 954.07,478.8 954.47,478.8 954.87,478.8 955.27,478.8 955.67,467.57 956.06,455.98 956.46,440.24 956.7,434.23 956.86,440.68 957.26,451.7 957.66,465.81 958.06,467.48 958.45,477.59 958.85,470.22 959.25,458.3 959.3,456.84 959.65,466.67 960.05,475.29 960.44,478.8 960.84,478.8 961.24,478.8 961.64,478.8 962.04,478.8 962.44,478.8 962.83,478.8 963.23,478.8 963.63,478.8 964.03,478.8 964.43,478.8 964.82,478.8 965.22,478.8 965.62,478.8 966.02,478.8 966.42,478.8 966.82,478.8 967.21,478.8 967.61,478.8 968.01,478.8 968.41,478.8 968.81,478.8 969.2,478.8 969.6,478.8 970,478.8 970.4,478.8 970.8,478.8 971.2,478.8 971.59,478.8 971.99,478.8 972.39,478.8 972.79,478.8 973.19,478.8 973.58,478.8 973.98,478.8 974.38,478.8 974.78,478.8 975.18,478.8 975.58,478.8 975.97,478.8 976.37,478.8 976.77,478.8 977.17,478.8 977.57,478.8 977.96,478.8 978.36,478.8 978.76,478.8 979.16,478.8 979.56,478.8 979.95,478.8 980.35,478.8 980.75,469.79 981.15,445.07 981.55,417.1 981.95,404.59 982.1,390.05 982.34,398.93 982.74,413.58 983.14,454.85 983.54,475.63 983.94,467.63 984.33,459.96 984.73,469.86 985.13,471.83 985.53,461.45 985.7,455.47 985.93,463.38 986.33,474.97 986.72,478.8 987.12,478.8 987.52,478.8 987.92,478.8 988.32,478.8 988.71,478.8 989.11,478.8 989.51,478.8 989.91,478.8 990.31,478.8 990.71,478.8 991.1,478.8 991.5,478.8 991.9,478.8 992.3,478.8 992.7,478.8 993.09,478.8 993.49,478.8 993.89,478.8 994.29,478.8 994.69,478.8 995.09,478.8 995.48,478.8 995.88,478.8 996.28,478.8 996.68,478.8 997.08,478.8 997.47,478.8 997.87,478.8 998.27,478.8 998.67,478.8 999.07,478.8 999.46,478.8 999.86,478.8 1000.26,478.8 1000.66,478.8 1001.06,478.8 1001.46,478.8 1001.85,478.8 1002.25,478.8 1002.65,478.8 1003.05,478.8 1003.45,478.8 1003.84,478.8 1004.24,478.8 1004.64,478.8 1005.04,478.8 1005.44,478.8 1005.84,464.18 1006.23,451.07 1006.63,431.11 1007,417.57 1007.03,419.75 1007.43,416.75 1007.83,454.71 1008.22,467.57 1008.62,478.56 1009.02,473.02 1009.42,467.06 1009.82,466.33 1010.22,473.89 1010.61,478.8 1011.01,478.8 1011.41,478.8 1011.81,478.8 1012.21,478.8 1012.6,477.25 1013,474.19 1013.4,473.89 1013.8,476.93 1014.2,478.8 1014.6,478.8 1014.99,478.8 1015.39,478.8 1015.79,478.8 1016.19,478.8 1016.59,478.8 1016.98,478.8 1017.38,478.8 1017.78,478.8 1018.18,478.8 1018.58,478.8 1018.98,478.8 1019.37,478.8 1019.77,478.8 1020.17,478.8 1020.57,478.8 1020.97,478.8 1021.36,478.8 1021.76,478.8 1022.16,478.8 1022.56,478.8 1022.96,478.8 1023.36,478.8 1023.75,478.8 1024.15,478.8 1024.55,478.8 1024.95,478.8 1025.35,478.8 1025.74,478.8 1026.14,478.8 1026.54,478.8 1026.94,478.8 1027.34,478.8 1027.73,478.8 1028.13,478.8 1028.53,478.8 1028.93,478.8 1029.33,478.8 1029.73,478.8 1030.12,478.8 1030.52,478.8 1030.92,478.8 1031.32,478.8 1031.72,478.8 1032.11,478.8 1032.51,478.8 1032.91,478.8 1033.31,478.8 1033.71,478.8 1034.11,478.8 1034.5,478.8 1034.9,478.8 1035.3,478.8 1035.7,478.8 1036.1,478.8 1036.49,478.8 1036.89,478.8 1037.29,478.8 1037.69,478.8 1038.09,478.8 1038.49,478.8 1038.88,478.8 1039.28,478.8 1039.68,478.8 1040.08,478.8 1040.48,478.8 1040.87,478.8 1041.27,478.8 1041.67,478.8 1042.07,478.8 1042.47,478.8 1042.87,478.8 1043.26,478.8 1043.66,478.8 1044.06,478.8 1044.46,478.8 1044.86,478.8 1045.25,478.8 1045.65,478.8 1046.05,478.8 1046.45,478.8 1046.85,478.8 1047.24,478.8 1047.64,478.8 1048.04,478.8 1048.44,478.8 1048.84,478.8 1049.24,478.8 1049.63,478.8 1050.03,478.8 1050.43,478.8 1050.83,478.8 1051.23,478.8 1051.62,478.8 1052.02,478.8 1052.42,478.8 1052.82,478.8 1053.22,478.8 1053.62,478.8 1054.01,478.8 1054.41,478.8 1054.81,478.8 1055.21,478.8 1055.61,478.8 1056,478.8 1056.4,478.8 1056.8,478.8 1057.2,478.8 1057.6,478.8 1058,478.8 1058.39,478.8 1058.79,478.8 1059.19,478.8 1059.59,478.8 1059.99,478.8 1060.38,478.8 1060.78,478.8 1061.18,478.8 1061.58,478.8 1061.98,478.8 1062.38,478.8 1062.77,478.8 1063.17,478.8 1063.57,478.8 1063.97,478.8 1064.37,478.8 1064.76,478.8 1065.16,478.8 1065.56,478.8 1065.96,478.8 1066.36,478.8 1066.76,478.8 1067.15,478.8 1067.55,478.8 1067.95,478.8 1068.35,478.8 1068.75,478.8 1069.14,478.8 1069.54,478.8 1069.94,478.8 1070.34,478.8 1070.74,478.8 1071.14,478.8 1071.53,478.8 1071.93,478.8 1072.33,478.8 1072.73,478.8 1073.13,478.8 1073.52,478.8 1073.92,478.8 1074.32,478.8 1074.72,478.8 1075.12,478.8 1075.51,478.8 1075.91,478.8 1076.31,478.8 1076.71,478.8 1077.11,478.8 1077.51,478.8 1077.9,478.8 1078.3,478.8 1078.7,478.8 1079.1,478.8 1079.5,478.8 1079.89,478.8 1080.29,478.8 1080.69,478.8 1081.09,478.8 1081.49,478.8 1081.89,478.8 1082.28,478.8 1082.68,478.8 1083.08,478.8 1083.48,478.8 1083.88,478.8 1084.27,478.8 1084.67,478.8 1085.07,478.8 1085.47,478.8 1085.87,478.8 1086.27,478.8 1086.66,478.8 1087.06,478.8 1087.46,478.8 1087.86,478.8 1088.26,478.8 1088.65,478.8 1089.05,478.8 1089.45,478.8 1089.85,478.8 1090.25,478.8 1090.65,478.8 1091.04,478.8 1091.44,478.8 1091.84,478.8 1092.24,478.8 1092.64,478.8 1093.03,478.8 1093.43,478.8 1093.83,478.8 1094.23,478.8 1094.63,478.8 1095.03,478.8 1095.42,478.8 1095.82,478.8 1096.22,478.8 1096.62,478.8 1097.02,478.8 1097.41,478.8 1097.81,478.8 1098.21,478.8 1098.61,478.8 1099.01,478.8 1099.4,478.8 1099.8,478.8 1100.2,478.8 1100.6,478.8 1101,478.8 1101.4,478.8 1101.79,478.8 1102.19,478.8 1102.59,478.8 1102.99,478.8 1103.39,478.8 1103.78,478.8 1104.18,478.8 1104.58,478.8 1104.98,478.8 1105.38,478.8 1105.78,478.8 1106.17,478.8 1106.57,478.8 1106.97,478.8 1107.37,478.8 1107.77,478.8 1108.16,478.8 1108.56,478.8 1108.96,478.8 1109.36,478.8 1109.76,478.8 1110.16,478.8 1110.55,478.8 1110.95,478.8 1111.35,478.8 1111.75,478.8 1112.15,478.8 1112.54,478.8 1112.94,478.8 1113.34,478.8 1113.74,478.8 1114.14,478.8 1114.54,478.8 1114.93,478.8 1115.33,478.8 1115.73,478.8 1116.13,478.8 1116.53,478.8 1116.92,478.8 1117.32,478.8 1117.72,478.8 1118.12,478.8 1118.52,478.8 1118.92,478.8 1119.31,478.8 1119.71,478.8 1120.11,478.8 1120.51,478.8 1120.91,478.8 1121.3,478.8 1121.7,478.8 1122.1,478.8 1122.5,478.8 1122.9,478.8 1123.29,478.8 1123.69,478.8 1124.09,478.8 1124.49,478.8 1124.89,478.8 1125.29,478.8 1125.68,478.8 1126.08,478.8 1126.48,478.8 1126.88,478.8 1127.28,478.8 1127.67,478.8 1128.07,478.8 1128.47,478.8 1128.87,478.8 1129.27,478.8 1129.67,478.8 1130.06,478.8 1130.46,478.8 1130.86,478.8 1131.26,478.8 1131.66,478.8 1132.05,478.8 1132.45,478.8 1132.85,478.8 1133.25,478.8 1133.65,478.8 1134.05,478.8 1134.44,478.8 1134.84,478.8 1135.24,478.8 1135.64,478.8 1136.04,478.8 1136.43,478.8 1136.83,478.8 1137.23,478.8 1137.63,478.8 1138.03,478.8 1138.43,478.8 1138.82,478.8 1139.22,478.8 1139.62,478.8 1140.02,478.8 1140.42,478.8 1140.81,478.8 1141.21,478.8 1141.61,478.8 1142.01,478.8 1142.41,478.8 1142.8,478.8 1143.2,478.8 1143.6,478.8 1144,478.8 1144.4,478.8 1144.8,478.8 1145.19,478.8 1145.59,478.8 1145.99,478.8 1146.39,478.8 1146.79,478.8 1147.18,478.8 1147.58,478.8 1147.98,478.8 1148.38,478.8 1148.78,478.8 1149.18,478.8 1149.57,478.8 1149.97,478.8 1150.37,478.8 1150.77,478.8 1151.17,478.8 1151.56,478.8 1151.96,478.8 1152.36,478.8 1152.76,478.8 1153.16,478.8 1153.56,478.8 1153.95,478.8 1154.35,478.8 1154.75,478.8 1155.15,478.8 1155.55,478.8 1155.94,478.8 1156.34,478.8 1156.74,478.8 1157.14,478.8 1157.54,478.8 1157.94,478.8 1158.33,478.8 1158.73,478.8 1159.13,478.8 1159.53,478.8 1159.93,478.8 1160.32,478.8 1160.72,478.8 1161.12,478.8 1161.52,478.8 1161.92,478.8 1162.32,478.8 1162.71,478.8 1163.11,478.8 1163.51,478.8 1163.91,478.8 1164.31,478.8 1164.7,478.8 1165.1,478.8 1165.5,478.8 1165.9,478.8 1166.3,478.8 1166.7,478.8 1167.09,478.8 1167.49,478.8 1167.89,478.8 1168.29,478.8 1168.69,478.8 1169.08,478.8 1169.48,478.8 1169.88,478.8 1170.28,478.8 1170.68,478.8 1171.07,478.8 1171.47,478.8 1171.87,478.8 1172.27,478.8 1172.67,478.8 1173.07,478.8 1173.46,478.8 1173.86,478.8 1174.26,478.8 1174.66,478.8 1175.06,478.8 1175.45,478.8 1175.85,478.8 1176.25,478.8 1176.65,478.8 1177.05,478.8 1177.45,478.8 1177.84,478.8 1178.24,478.8 1178.64,478.8 1179.04,478.8 1179.44,478.8 1179.83,478.8 1180.23,478.8 1180.63,478.8 1181.03,478.8 1181.43,478.8 1181.83,478.8 1182.22,478.8 1182.62,478.8 1183.02,478.8 1183.42,478.8 1183.82,478.8 1184.21,478.8 1184.61,478.8 1185.01,478.8 1185.41,478.8 1185.81,478.8 1186.21,478.8 1186.6,478.8 1187,478.8 1187.4,478.8 1187.8,478.8 1188.2,478.8 1188.59,478.8 1188.99,478.8 1189.39,478.8 1189.79,478.8 1190.19,478.8 1190.58,478.8 1190.98,478.8 1191.38,478.8 1191.78,478.8 1192.18,478.8 1192.58,478.8 1192.97,478.8 1193.37,478.8 1193.77,478.8 1194.17,478.8 1194.57,478.8 1194.96,478.8 1195.36,478.8 1195.76,478.8 1196.16,478.8 1196.56,478.8 1196.96,478.8 1197.35,478.8 1197.75,478.8 1198.15,478.8 1198.55,478.8 1198.95,478.8 1199.34,478.8 1199.74,478.8 1200.14,478.8 1200.54,478.8 1200.94,478.8 1201.34,478.8 1201.73,478.8 1202.13,478.8 1202.53,478.8 1202.93,478.8 1203.33,478.8 1203.72,478.8 1204.12,478.8 1204.52,478.8 1204.92,478.8 1205.32,478.8 1205.72,478.8 1206.11,478.8 1206.51,478.8 1206.91,478.8 1207.31,478.8 1207.71,478.8 1208.1,478.8 1208.5,478.8 1208.9,478.8 1209.3,478.8 1209.7,478.8 1210.1,478.8 1210.49,478.8 1210.89,478.8 1211.29,478.8 1211.69,478.8 1212.09,478.8 1212.48,478.8 1212.88,478.8 1213.28,478.8 1213.68,478.8 1214.08,478.8 1214.47,478.8 1214.87,478.8 1215.27,478.8 1215.67,478.8 1216.07,478.8 1216.47,478.8 1216.86,478.8 1217.26,478.8 1217.66,478.8 1218.06,478.8 1218.46,478.8 1218.85,478.8 1219.25,478.8 1219.65,478.8 1220.05,478.8 1220.45,478.8 1220.85,478.8 1221.24,478.8 1221.64,478.8 1222.04,478.8 1222.44,478.8 1222.84,478.8 1223.23,478.8 1223.63,478.8 1224.03,478.8 1224.43,478.8 1224.83,478.8 1225.23,478.8 1225.62,478.8 1226.02,478.8 1226.42,478.8 1226.82,478.8 1227.22,478.8 1227.61,478.8 1228.01,478.8 1228.41,478.8 1228.81,478.8 1229.21,478.8 1229.61,478.8 1230,478.8 1230.4,478.8 1230.8,478.8 1231.2,478.8 1231.6,478.8 1231.99,478.8 1232.39,478.8 1232.79,478.8 1233.19,478.8 1233.59,478.8 1233.99,478.8 1234.38,478.8 1234.78,478.8 1235.18,478.8 1235.58,478.8 1235.98,478.8 1236.37,478.8 1236.77,478.8 1237.17,478.8 1237.57,478.8 1237.97,478.8 1238.36,478.8 1238.76,478.8 1239.16,478.8 1239.56,478.8 1239.96,478.8 1240.36,478.8 1240.75,478.8 1241.15,478.8 1241.55,478.8 1241.95,478.8 1242.35,478.8 1242.74,478.8 1243.14,478.8 1243.54,478.8 1243.94,478.8 1244.34,478.8 1244.74,478.8 1245.13,478.8 1245.53,478.8 1245.93,478.8 1246.33,478.8 1246.73,478.8 1247.12,478.8 1247.52,478.8 1247.92,478.8 1248.32,478.8 1248.72,478.8 1249.12,478.8 1249.51,478.8 1249.91,478.8 1250.31,478.8 1250.71,478.8 1251.11,478.8 1251.5,478.8 1251.9,478.8 1252.3,478.8 1252.7,478.8 1253.1,478.8 1253.5,478.8 1253.89,478.8 1254.29,478.8 1254.69,478.8 1255.09,478.8 1255.49,478.8 1255.88,478.8 1256.28,478.8 1256.68,478.8 1257.08,478.8 1257.48,478.8 1257.88,478.8 1258.27,478.8 1258.67,478.8 1259.07,478.8 1259.47,478.8 1259.87,478.8 1260.26,478.8 1260.66,478.8 1261.06,478.8 1261.46,478.8 1261.86,478.8 1262.26,478.8 1262.65,478.8 1263.05,478.8 1263.45,478.8 1263.85,478.8 1264.25,478.8 1264.64,478.8 1265.04,478.8 1265.44,478.8 1265.84,478.8 1266.24,478.8 1266.63,478.8 1267.03,478.8 1267.43,478.8 1267.83,478.8 1268.23,478.8 1268.63,478.8 1269.02,478.8 1269.42,478.8 1269.82,478.8 1270.22,478.8 1270.62,478.8 1271.01,478.8 1271.41,478.8 1271.81,478.8 1272.21,478.8 1272.61,478.8 1273.01,478.8 1273.4,478.8 1273.8,478.8 1274.2,478.8 1274.6,478.8 1275,478.8 1275.39,478.8 1275.79,478.8 1276.19,478.8 1276.59,478.8 1276.99,478.8 1277.39,478.8 1277.78,478.8 1278.18,478.8 1278.58,478.8 1278.98,478.8 1279.38,478.8 1279.77,478.8 1280.17,478.8 1280.57,478.8 1280.97,478.8 1281.37,478.8 1281.77,478.8 1282.16,478.8 1282.56,478.8 1282.96,478.8 1283.36,478.8 1283.76,478.8 1284.15,478.8 1284.55,478.8 1284.95,478.8 1285.35,478.8 1285.75,478.8 1286.14,478.8 1286.54,478.8 1286.94,478.8 1287.34,478.8 1287.74,478.8 1288.14,478.8 1288.53,478.8 1288.93,478.8 1289.33,478.8 1289.73,478.8 1290.13,478.8 1290.52,478.8 1290.92,478.8 1291.32,478.8 1291.72,478.8 1292.12,478.8 1292.52,478.8 1292.91,478.8 1293.31,478.8 1293.71,478.8 1294.11,478.8 1294.51,478.8 1294.9,478.8 1295.3,478.8 1295.7,478.8 1296.1,478.8 1296.5,478.8 1296.9,478.8 1297.29,478.8 1297.69,478.8 1298.09,478.8 1298.49,478.8 1298.89,478.8 1299.28,478.8 1299.68,478.8 1300.08,478.8 1300.48,478.8 1300.88,478.8 1301.28,478.8 1301.67,478.8 1302.07,478.8 1302.47,478.8 1302.87,478.8 1303.27,478.8 1303.66,478.8 1304.06,478.8 1304.46,478.8 1304.86,478.8 1305.26,478.8 1305.66,478.8 1306.05,478.8 1306.45,478.8 1306.85,478.8 1307.25,478.8 1307.65,478.8 1308.04,478.8 1308.44,478.8 1308.84,478.8 1309.24,478.8 1309.64,478.8 1310.03,478.8 1310.43,478.8 1310.83,478.8 1311.23,478.8 1311.63,478.8 1312.03,478.8 1312.42,478.8 1312.82,478.8 1313.22,478.8 1313.62,478.8 1314.02,478.8 1314.41,478.8 1314.81,478.8 1315.21,478.8 1315.61,478.8 1316.01,478.8 1316.41,478.8 1316.8,478.8 1317.2,478.8 1317.6,478.8 1318,478.8 1318.4,478.8 1318.79,478.8 1319.19,478.8 1319.59,478.8 1319.99,478.8 1320.39,478.8 1320.79,478.8 1321.18,478.8 1321.58,478.8 1321.98,478.8 1322.38,478.8 1322.78,478.8 1323.17,478.8 1323.57,478.8 1323.97,478.8 1324.37,478.8 1324.77,478.8 1325.17,478.8 1325.56,478.8 1325.96,478.8 1326.36,478.8 1326.76,478.8 1327.16,478.8 1327.55,478.8 1327.95,478.8 1328.35,478.8 1328.75,478.8 1329.15,478.8 1329.55,478.8 1329.94,478.8 1330.34,478.8 1330.74,478.8 1331.14,478.8 1331.54,478.8 1331.93,478.8 1332.33,478.8 1332.73,478.8 1333.13,478.8 1333.53,478.8 1333.92,478.8 1334.32,478.8 1334.72,478.8 1335.12,478.8 1335.52,478.8 1335.92,478.8 1336.31,478.8 1336.71,478.8 1337.11,478.8 1337.51,478.8 1337.91,478.8 1338.3,478.8 1338.7,473.76 1339.1,464.48 1339.5,456.9 1339.9,462 1340.3,467.59 1340.69,476.34 1341.09,451.28 1341.49,412.91 1341.89,368.8 1342.29,338.67 1342.3,332.81 1342.68,373.72 1343.08,413.35 1343.48,397.85 1343.88,344.88 1343.9,354.13 1344.28,400.46 1344.68,436.59 1345.07,402.54 1345.47,367.06 1345.7,349.79 1345.87,345.79 1346.27,394.33 1346.67,429.74 1347.06,465.19 1347.46,473.1 1347.86,463.94 1348.26,449.92 1348.66,455.32 1349.06,466.35 1349.45,474.7 1349.85,478.8 1350.25,478.8 1350.65,478.8 1351.05,478.8 1351.44,478.8 1351.84,478.8 1352.24,478.8 1352.64,478.8 1353.04,478.8 1353.44,478.8 1353.83,478.8 1354.23,478.8 1354.63,478.8 1355.03,478.8 1355.43,478.8 1355.82,478.8 1356.22,478.8 1356.62,478.8 1357.02,478.8 1357.42,478.8 1357.82,478.8 1358.21,478.8 1358.3,478.8 1358.3,478.8 1358.21,478.8 1357.82,478.8 1357.42,478.8 1357.02,478.8 1356.62,478.8 1356.22,478.8 1355.82,478.8 1355.43,478.8 1355.03,478.8 1354.63,478.8 1354.23,478.8 1353.83,478.8 1353.44,478.8 1353.04,478.8 1352.64,478.8 1352.24,478.8 1351.84,478.8 1351.44,478.8 1351.05,478.8 1350.65,478.8 1350.25,478.8 1349.85,478.8 1349.45,478.37 1349.06,474.94 1348.66,473.9 1348.26,475.68 1347.86,473.74 1347.46,476.65 1347.06,472.97 1346.67,454.24 1346.27,434.1 1345.87,427.08 1345.7,399.47 1345.47,414.14 1345.07,434.22 1344.68,454.34 1344.28,422.35 1343.9,386.07 1343.88,399.66 1343.48,433.65 1343.08,444.25 1342.68,428.32 1342.3,416.45 1342.29,411.98 1341.89,437.41 1341.49,448.85 1341.09,466.04 1340.69,478.76 1340.3,478.69 1339.9,475.22 1339.5,475.79 1339.1,477.26 1338.7,477.04 1338.3,478.8 1337.91,478.8 1337.51,478.8 1337.11,478.8 1336.71,478.8 1336.31,478.8 1335.92,478.8 1335.52,478.8 1335.12,478.8 1334.72,478.8 1334.32,478.8 1333.92,478.8 1333.53,478.8 1333.13,478.8 1332.73,478.8 1332.33,478.8 1331.93,478.8 1331.54,478.8 1331.14,478.8 1330.74,478.8 1330.34,478.8 1329.94,478.8 1329.55,478.8 1329.15,478.8 1328.75,478.8 1328.35,478.8 1327.95,478.8 1327.55,478.8 1327.16,478.8 1326.76,478.8 1326.36,478.8 1325.96,478.8 1325.56,478.8 1325.17,478.8 1324.77,478.8 1324.37,478.8 1323.97,478.8 1323.57,478.8 1323.17,478.8 1322.78,478.8 1322.38,478.8 1321.98,478.8 1321.58,478.8 1321.18,478.8 1320.79,478.8 1320.39,478.8 1319.99,478.8 1319.59,478.8 1319.19,478.8 1318.79,478.8 1318.4,478.8 1318,478.8 1317.6,478.8 1317.2,478.8 1316.8,478.8 1316.41,478.8 1316.01,478.8 1315.61,478.8 1315.21,478.8 1314.81,478.8 1314.41,478.8 1314.02,478.8 1313.62,478.8 1313.22,478.8 1312.82,478.8 1312.42,478.8 1312.03,478.8 1311.63,478.8 1311.23,478.8 1310.83,478.8 1310.43,478.8 1310.03,478.8 1309.64,478.8 1309.24,478.8 1308.84,478.8 1308.44,478.8 1308.04,478.8 1307.65,478.8 1307.25,478.8 1306.85,478.8 1306.45,478.8 1306.05,478.8 1305.66,478.8 1305.26,478.8 1304.86,478.8 1304.46,478.8 1304.06,478.8 1303.66,478.8 1303.27,478.8 1302.87,478.8 1302.47,478.8 1302.07,478.8 1301.67,478.8 1301.28,478.8 1300.88,478.8 1300.48,478.8 1300.08,478.8 1299.68,478.8 1299.28,478.8 1298.89,478.8 1298.49,478.8 1298.09,478.8 1297.69,478.8 1297.29,478.8 1296.9,478.8 1296.5,478.8 1296.1,478.8 1295.7,478.8 1295.3,478.8 1294.9,478.8 1294.51,478.8 1294.11,478.8 1293.71,478.8 1293.31,478.8 1292.91,478.8 1292.52,478.8 1292.12,478.8 1291.72,478.8 1291.32,478.8 1290.92,478.8 1290.52,478.8 1290.13,478.8 1289.73,478.8 1289.33,478.8 1288.93,478.8 1288.53,478.8 1288.14,478.8 1287.74,478.8 1287.34,478.8 1286.94,478.8 1286.54,478.8 1286.14,478.8 1285.75,478.8 1285.35,478.8 1284.95,478.8 1284.55,478.8 1284.15,478.8 1283.76,478.8 1283.36,478.8 1282.96,478.8 1282.56,478.8 1282.16,478.8 1281.77,478.8 1281.37,478.8 1280.97,478.8 1280.57,478.8 1280.17,478.8 1279.77,478.8 1279.38,478.8 1278.98,478.8 1278.58,478.8 1278.18,478.8 1277.78,478.8 1277.39,478.8 1276.99,478.8 1276.59,478.8 1276.19,478.8 1275.79,478.8 1275.39,478.8 1275,478.8 1274.6,478.8 1274.2,478.8 1273.8,478.8 1273.4,478.8 1273.01,478.8 1272.61,478.8 1272.21,478.8 1271.81,478.8 1271.41,478.8 1271.01,478.8 1270.62,478.8 1270.22,478.8 1269.82,478.8 1269.42,478.8 1269.02,478.8 1268.63,478.8 1268.23,478.8 1267.83,478.8 1267.43,478.8 1267.03,478.8 1266.63,478.8 1266.24,478.8 1265.84,478.8 1265.44,478.8 1265.04,478.8 1264.64,478.8 1264.25,478.8 1263.85,478.8 1263.45,478.8 1263.05,478.8 1262.65,478.8 1262.26,478.8 1261.86,478.8 1261.46,478.8 1261.06,478.8 1260.66,478.8 1260.26,478.8 1259.87,478.8 1259.47,478.8 1259.07,478.8 1258.67,478.8 1258.27,478.8 1257.88,478.8 1257.48,478.8 1257.08,478.8 1256.68,478.8 1256.28,478.8 1255.88,478.8 1255.49,478.8 1255.09,478.8 1254.69,478.8 1254.29,478.8 1253.89,478.8 1253.5,478.8 1253.1,478.8 1252.7,478.8 1252.3,478.8 1251.9,478.8 1251.5,478.8 1251.11,478.8 1250.71,478.8 1250.31,478.8 1249.91,478.8 1249.51,478.8 1249.12,478.8 1248.72,478.8 1248.32,478.8 1247.92,478.8 1247.52,478.8 1247.12,478.8 1246.73,478.8 1246.33,478.8 1245.93,478.8 1245.53,478.8 1245.13,478.8 1244.74,478.8 1244.34,478.8 1243.94,478.8 1243.54,478.8 1243.14,478.8 1242.74,478.8 1242.35,478.8 1241.95,478.8 1241.55,478.8 1241.15,478.8 1240.75,478.8 1240.36,478.8 1239.96,478.8 1239.56,478.8 1239.16,478.8 1238.76,478.8 1238.36,478.8 1237.97,478.8 1237.57,478.8 1237.17,478.8 1236.77,478.8 1236.37,478.8 1235.98,478.8 1235.58,478.8 1235.18,478.8 1234.78,478.8 1234.38,478.8 1233.99,478.8 1233.59,478.8 1233.19,478.8 1232.79,478.8 1232.39,478.8 1231.99,478.8 1231.6,478.8 1231.2,478.8 1230.8,478.8 1230.4,478.8 1230,478.8 1229.61,478.8 1229.21,478.8 1228.81,478.8 1228.41,478.8 1228.01,478.8 1227.61,478.8 1227.22,478.8 1226.82,478.8 1226.42,478.8 1226.02,478.8 1225.62,478.8 1225.23,478.8 1224.83,478.8 1224.43,478.8 1224.03,478.8 1223.63,478.8 1223.23,478.8 1222.84,478.8 1222.44,478.8 1222.04,478.8 1221.64,478.8 1221.24,478.8 1220.85,478.8 1220.45,478.8 1220.05,478.8 1219.65,478.8 1219.25,478.8 1218.85,478.8 1218.46,478.8 1218.06,478.8 1217.66,478.8 1217.26,478.8 1216.86,478.8 1216.47,478.8 1216.07,478.8 1215.67,478.8 1215.27,478.8 1214.87,478.8 1214.47,478.8 1214.08,478.8 1213.68,478.8 1213.28,478.8 1212.88,478.8 1212.48,478.8 1212.09,478.8 1211.69,478.8 1211.29,478.8 1210.89,478.8 1210.49,478.8 1210.1,478.8 1209.7,478.8 1209.3,478.8 1208.9,478.8 1208.5,478.8 1208.1,478.8 1207.71,478.8 1207.31,478.8 1206.91,478.8 1206.51,478.8 1206.11,478.8 1205.72,478.8 1205.32,478.8 1204.92,478.8 1204.52,478.8 1204.12,478.8 1203.72,478.8 1203.33,478.8 1202.93,478.8 1202.53,478.8 1202.13,478.8 1201.73,478.8 1201.34,478.8 1200.94,478.8 1200.54,478.8 1200.14,478.8 1199.74,478.8 1199.34,478.8 1198.95,478.8 1198.55,478.8 1198.15,478.8 1197.75,478.8 1197.35,478.8 1196.96,478.8 1196.56,478.8 1196.16,478.8 1195.76,478.8 1195.36,478.8 1194.96,478.8 1194.57,478.8 1194.17,478.8 1193.77,478.8 1193.37,478.8 1192.97,478.8 1192.58,478.8 1192.18,478.8 1191.78,478.8 1191.38,478.8 1190.98,478.8 1190.58,478.8 1190.19,478.8 1189.79,478.8 1189.39,478.8 1188.99,478.8 1188.59,478.8 1188.2,478.8 1187.8,478.8 1187.4,478.8 1187,478.8 1186.6,478.8 1186.21,478.8 1185.81,478.8 1185.41,478.8 1185.01,478.8 1184.61,478.8 1184.21,478.8 1183.82,478.8 1183.42,478.8 1183.02,478.8 1182.62,478.8 1182.22,478.8 1181.83,478.8 1181.43,478.8 1181.03,478.8 1180.63,478.8 1180.23,478.8 1179.83,478.8 1179.44,478.8 1179.04,478.8 1178.64,478.8 1178.24,478.8 1177.84,478.8 1177.45,478.8 1177.05,478.8 1176.65,478.8 1176.25,478.8 1175.85,478.8 1175.45,478.8 1175.06,478.8 1174.66,478.8 1174.26,478.8 1173.86,478.8 1173.46,478.8 1173.07,478.8 1172.67,478.8 1172.27,478.8 1171.87,478.8 1171.47,478.8 1171.07,478.8 1170.68,478.8 1170.28,478.8 1169.88,478.8 1169.48,478.8 1169.08,478.8 1168.69,478.8 1168.29,478.8 1167.89,478.8 1167.49,478.8 1167.09,478.8 1166.7,478.8 1166.3,478.8 1165.9,478.8 1165.5,478.8 1165.1,478.8 1164.7,478.8 1164.31,478.8 1163.91,478.8 1163.51,478.8 1163.11,478.8 1162.71,478.8 1162.32,478.8 1161.92,478.8 1161.52,478.8 1161.12,478.8 1160.72,478.8 1160.32,478.8 1159.93,478.8 1159.53,478.8 1159.13,478.8 1158.73,478.8 1158.33,478.8 1157.94,478.8 1157.54,478.8 1157.14,478.8 1156.74,478.8 1156.34,478.8 1155.94,478.8 1155.55,478.8 1155.15,478.8 1154.75,478.8 1154.35,478.8 1153.95,478.8 1153.56,478.8 1153.16,478.8 1152.76,478.8 1152.36,478.8 1151.96,478.8 1151.56,478.8 1151.17,478.8 1150.77,478.8 1150.37,478.8 1149.97,478.8 1149.57,478.8 1149.18,478.8 1148.78,478.8 1148.38,478.8 1147.98,478.8 1147.58,478.8 1147.18,478.8 1146.79,478.8 1146.39,478.8 1145.99,478.8 1145.59,478.8 1145.19,478.8 1144.8,478.8 1144.4,478.8 1144,478.8 1143.6,478.8 1143.2,478.8 1142.8,478.8 1142.41,478.8 1142.01,478.8 1141.61,478.8 1141.21,478.8 1140.81,478.8 1140.42,478.8 1140.02,478.8 1139.62,478.8 1139.22,478.8 1138.82,478.8 1138.43,478.8 1138.03,478.8 1137.63,478.8 1137.23,478.8 1136.83,478.8 1136.43,478.8 1136.04,478.8 1135.64,478.8 1135.24,478.8 1134.84,478.8 1134.44,478.8 1134.05,478.8 1133.65,478.8 1133.25,478.8 1132.85,478.8 1132.45,478.8 1132.05,478.8 1131.66,478.8 1131.26,478.8 1130.86,478.8 1130.46,478.8 1130.06,478.8 1129.67,478.8 1129.27,478.8 1128.87,478.8 1128.47,478.8 1128.07,478.8 1127.67,478.8 1127.28,478.8 1126.88,478.8 1126.48,478.8 1126.08,478.8 1125.68,478.8 1125.29,478.8 1124.89,478.8 1124.49,478.8 1124.09,478.8 1123.69,478.8 1123.29,478.8 1122.9,478.8 1122.5,478.8 1122.1,478.8 1121.7,478.8 1121.3,478.8 1120.91,478.8 1120.51,478.8 1120.11,478.8 1119.71,478.8 1119.31,478.8 1118.92,478.8 1118.52,478.8 1118.12,478.8 1117.72,478.8 1117.32,478.8 1116.92,478.8 1116.53,478.8 1116.13,478.8 1115.73,478.8 1115.33,478.8 1114.93,478.8 1114.54,478.8 1114.14,478.8 1113.74,478.8 1113.34,478.8 1112.94,478.8 1112.54,478.8 1112.15,478.8 1111.75,478.8 1111.35,478.8 1110.95,478.8 1110.55,478.8 1110.16,478.8 1109.76,478.8 1109.36,478.8 1108.96,478.8 1108.56,478.8 1108.16,478.8 1107.77,478.8 1107.37,478.8 1106.97,478.8 1106.57,478.8 1106.17,478.8 1105.78,478.8 1105.38,478.8 1104.98,478.8 1104.58,478.8 1104.18,478.8 1103.78,478.8 1103.39,478.8 1102.99,478.8 1102.59,478.8 1102.19,478.8 1101.79,478.8 1101.4,478.8 1101,478.8 1100.6,478.8 1100.2,478.8 1099.8,478.8 1099.4,478.8 1099.01,478.8 1098.61,478.8 1098.21,478.8 1097.81,478.8 1097.41,478.8 1097.02,478.8 1096.62,478.8 1096.22,478.8 1095.82,478.8 1095.42,478.8 1095.03,478.8 1094.63,478.8 1094.23,478.8 1093.83,478.8 1093.43,478.8 1093.03,478.8 1092.64,478.8 1092.24,478.8 1091.84,478.8 1091.44,478.8 1091.04,478.8 1090.65,478.8 1090.25,478.8 1089.85,478.8 1089.45,478.8 1089.05,478.8 1088.65,478.8 1088.26,478.8 1087.86,478.8 1087.46,478.8 1087.06,478.8 1086.66,478.8 1086.27,478.8 1085.87,478.8 1085.47,478.8 1085.07,478.8 1084.67,478.8 1084.27,478.8 1083.88,478.8 1083.48,478.8 1083.08,478.8 1082.68,478.8 1082.28,478.8 1081.89,478.8 1081.49,478.8 1081.09,478.8 1080.69,478.8 1080.29,478.8 1079.89,478.8 1079.5,478.8 1079.1,478.8 1078.7,478.8 1078.3,478.8 1077.9,478.8 1077.51,478.8 1077.11,478.8 1076.71,478.8 1076.31,478.8 1075.91,478.8 1075.51,478.8 1075.12,478.8 1074.72,478.8 1074.32,478.8 1073.92,478.8 1073.52,478.8 1073.13,478.8 1072.73,478.8 1072.33,478.8 1071.93,478.8 1071.53,478.8 1071.14,478.8 1070.74,478.8 1070.34,478.8 1069.94,478.8 1069.54,478.8 1069.14,478.8 1068.75,478.8 1068.35,478.8 1067.95,478.8 1067.55,478.8 1067.15,478.8 1066.76,478.8 1066.36,478.8 1065.96,478.8 1065.56,478.8 1065.16,478.8 1064.76,478.8 1064.37,478.8 1063.97,478.8 1063.57,478.8 1063.17,478.8 1062.77,478.8 1062.38,478.8 1061.98,478.8 1061.58,478.8 1061.18,478.8 1060.78,478.8 1060.38,478.8 1059.99,478.8 1059.59,478.8 1059.19,478.8 1058.79,478.8 1058.39,478.8 1058,478.8 1057.6,478.8 1057.2,478.8 1056.8,478.8 1056.4,478.8 1056,478.8 1055.61,478.8 1055.21,478.8 1054.81,478.8 1054.41,478.8 1054.01,478.8 1053.62,478.8 1053.22,478.8 1052.82,478.8 1052.42,478.8 1052.02,478.8 1051.62,478.8 1051.23,478.8 1050.83,478.8 1050.43,478.8 1050.03,478.8 1049.63,478.8 1049.24,478.8 1048.84,478.8 1048.44,478.8 1048.04,478.8 1047.64,478.8 1047.24,478.8 1046.85,478.8 1046.45,478.8 1046.05,478.8 1045.65,478.8 1045.25,478.8 1044.86,478.8 1044.46,478.8 1044.06,478.8 1043.66,478.8 1043.26,478.8 1042.87,478.8 1042.47,478.8 1042.07,478.8 1041.67,478.8 1041.27,478.8 1040.87,478.8 1040.48,478.8 1040.08,478.8 1039.68,478.8 1039.28,478.8 1038.88,478.8 1038.49,478.8 1038.09,478.8 1037.69,478.8 1037.29,478.8 1036.89,478.8 1036.49,478.8 1036.1,478.8 1035.7,478.8 1035.3,478.8 1034.9,478.8 1034.5,478.8 1034.11,478.8 1033.71,478.8 1033.31,478.8 1032.91,478.8 1032.51,478.8 1032.11,478.8 1031.72,478.8 1031.32,478.8 1030.92,478.8 1030.52,478.8 1030.12,478.8 1029.73,478.8 1029.33,478.8 1028.93,478.8 1028.53,478.8 1028.13,478.8 1027.73,478.8 1027.34,478.8 1026.94,478.8 1026.54,478.8 1026.14,478.8 1025.74,478.8 1025.35,478.8 1024.95,478.8 1024.55,478.8 1024.15,478.8 1023.75,478.8 1023.36,478.8 1022.96,478.8 1022.56,478.8 1022.16,478.8 1021.76,478.8 1021.36,478.8 1020.97,478.8 1020.57,478.8 1020.17,478.8 1019.77,478.8 1019.37,478.8 1018.98,478.8 1018.58,478.8 1018.18,478.8 1017.78,478.8 1017.38,478.8 1016.98,478.8 1016.59,478.8 1016.19,478.8 1015.79,478.8 1015.39,478.8 1014.99,478.8 1014.6,478.8 1014.2,478.8 1013.8,478.97 1013.4,478.61 1013,478.31 1012.6,478.65 1012.21,478.8 1011.81,478.8 1011.41,478.8 1011.01,478.8 1010.61,478.8 1010.22,478.55 1009.82,480.67 1009.42,479.4 1009.02,478.87 1008.62,478.77 1008.22,476.75 1007.83,471.13 1007.43,490.12 1007.03,468.16 1007,468.92 1006.63,472.92 1006.23,471.93 1005.84,477.3 1005.44,478.8 1005.04,478.8 1004.64,478.8 1004.24,478.8 1003.84,478.8 1003.45,478.8 1003.05,478.8 1002.65,478.8 1002.25,478.8 1001.85,478.8 1001.46,478.8 1001.06,478.8 1000.66,478.8 1000.26,478.8 999.86,478.8 999.46,478.8 999.07,478.8 998.67,478.8 998.27,478.8 997.87,478.8 997.47,478.8 997.08,478.8 996.68,478.8 996.28,478.8 995.88,478.8 995.48,478.8 995.09,478.8 994.69,478.8 994.29,478.8 993.89,478.8 993.49,478.8 993.09,478.8 992.7,478.8 992.3,478.8 991.9,478.8 991.5,478.8 991.1,478.8 990.71,478.8 990.31,478.8 989.91,478.8 989.51,478.8 989.11,478.8 988.71,478.8 988.32,478.8 987.92,478.8 987.52,478.8 987.12,478.8 986.72,478.8 986.33,477.82 985.93,478.09 985.7,479.49 985.53,478.31 985.13,479.26 984.73,477.27 984.33,475.84 983.94,477.51 983.54,477.9 983.14,471.5 982.74,485.59 982.34,473.07 982.1,465.64 981.95,461.3 981.55,475.96 981.15,475.16 980.75,477.62 980.35,478.8 979.95,478.8 979.56,478.8 979.16,478.8 978.76,478.8 978.36,478.8 977.96,478.8 977.57,478.8 977.17,478.8 976.77,478.8 976.37,478.8 975.97,478.8 975.58,478.8 975.18,478.8 974.78,478.8 974.38,478.8 973.98,478.8 973.58,478.8 973.19,478.8 972.79,478.8 972.39,478.8 971.99,478.8 971.59,478.8 971.2,478.8 970.8,478.8 970.4,478.8 970,478.8 969.6,478.8 969.2,478.8 968.81,478.8 968.41,478.8 968.01,478.8 967.61,478.8 967.21,478.8 966.82,478.8 966.42,478.8 966.02,478.8 965.62,478.8 965.22,478.8 964.82,478.8 964.43,478.8 964.03,478.8 963.63,478.8 963.23,478.8 962.83,478.8 962.44,478.8 962.04,478.8 961.64,478.8 961.24,478.8 960.84,478.8 960.44,478.8 960.05,479.29 959.65,479.86 959.3,482.65 959.25,482.19 958.85,478.32 958.45,479 958.06,490.12 957.66,475.21 957.26,469.81 956.86,461.31 956.7,459.97 956.46,465.66 956.06,469.43 955.67,476.86 955.27,478.8 954.87,478.8 954.47,478.8 954.07,478.8 953.68,478.8 953.28,478.8 952.88,478.8 952.48,478.8 952.08,478.8 951.68,478.8 951.29,478.8 950.89,478.8 950.49,478.8 950.09,478.8 949.69,478.8 949.3,478.8 948.9,478.8 948.5,478.8 948.1,478.8 947.7,478.8 947.31,478.8 946.91,478.8 946.51,478.8 946.11,478.8 945.71,478.66 945.31,478.74 944.92,479.67 944.52,478.71 944.12,478.8 943.72,476.53 943.32,487.86 942.93,468.66 942.6,466.07 942.53,472.72 942.13,474.11 941.73,474.24 941.33,478.61 940.93,478.8 940.54,478.8 940.14,478.8 939.74,478.8 939.34,478.8 938.94,478.8 938.55,478.8 938.15,478.8 937.75,478.8 937.35,478.8 936.95,478.8 936.55,478.8 936.16,478.8 935.76,478.8 935.36,478.8 934.96,478.8 934.56,478.8 934.17,478.8 933.77,478.8 933.37,478.8 932.97,478.8 932.57,478.8 932.17,478.8 931.78,478.8 931.38,478.8 930.98,478.8 930.58,478.8 930.18,478.8 929.79,478.8 929.39,478.8 928.99,478.8 928.59,478.8 928.19,478.8 927.8,478.8 927.4,478.8 927,478.8 926.6,478.8 926.2,478.8 925.8,478.8 925.41,478.8 925.01,478.8 924.61,478.8 924.21,478.8 923.81,478.8 923.42,478.8 923.02,478.8 922.62,478.8 922.22,478.8 921.82,478.8 921.42,478.8 921.03,478.8 920.63,478.8 920.23,478.8 919.83,478.8 919.43,478.8 919.04,478.8 918.64,478.8 918.24,478.8 917.84,478.8 917.44,478.8 917.04,478.8 916.65,478.8 916.25,478.8 915.85,478.8 915.45,478.8 915.05,478.8 914.66,478.8 914.26,478.8 913.86,478.8 913.46,478.8 913.06,478.8 912.66,478.8 912.27,478.8 911.87,478.8 911.47,478.8 911.07,478.8 910.67,478.8 910.28,478.8 909.88,478.8 909.48,478.8 909.08,478.8 908.68,478.8 908.28,478.8 907.89,478.8 907.49,478.8 907.09,478.8 906.69,478.8 906.29,478.8 905.9,478.8 905.5,478.8 905.1,478.8 904.7,478.8 904.3,478.8 903.9,478.8 903.51,478.8 903.11,478.8 902.71,480.55 902.31,482.5 902.2,482.82 901.91,481.53 901.52,479.26 901.12,478.32 900.72,478.64 900.4,482.54 900.32,480.58 899.92,477.83 899.53,478.72 899.13,479.18 898.73,478.73 898.6,476.37 898.33,480.22 897.93,479.72 897.53,476 897.14,510.5 896.74,478.25 896.4,483.58 896.34,471.32 895.94,471.88 895.54,479.18 895.15,477.14 894.75,473.76 894.35,440.04 893.95,441.62 893.55,393.96 893.3,408.15 893.15,377.7 892.76,412.09 892.36,430.7 891.96,460.53 891.56,478.8 891.16,478.8 890.77,478.8 890.37,478.8 889.97,478.8 889.57,473.41 889.17,461.93 888.77,455.02 888.38,446.36 888,428.41 887.98,449.02 887.58,450.95 887.18,465.05 886.78,466.04 886.39,475.9 885.99,478.64 885.8,477.46 885.59,480.41 885.19,478.53 884.79,478.84 884.39,479.82 884,485.59 883.6,479.68 883.2,478.8 882.8,479.68 882.4,480.82 882.2,478.99 882.01,479.58 881.61,479.95 881.21,478.8 880.81,479.88 880.41,479.71 880.4,483.4 880.02,485.59 879.62,478.88 879.22,479.67 878.82,479.78 878.6,480.99 878.42,480.2 878.02,479.56 877.63,478.8 877.23,478.8 876.83,478.8 876.43,478.8 876.03,478.8 875.64,478.8 875.24,479.72 874.84,478.99 874.7,479.68 874.44,479.19 874.04,479.12 873.64,478.8 873.25,478.8 872.85,478.8 872.45,478.8 872.05,478.8 871.65,478.8 871.26,478.8 870.86,478.8 870.46,478.7 870.06,478.9 870,480.94 869.66,478.74 869.26,478.86 868.87,485.59 868.47,478.98 868.2,478.81 868.07,482.12 867.67,480.3 867.27,478.81 866.88,480.06 866.6,479.5 866.48,481.75 866.08,478.99 865.68,478.8 865.28,478.8 864.88,485.59 864.49,481.11 864.4,479.46 864.09,480.53 863.69,479.31 863.29,478.8 862.89,478.8 862.5,478.8 862.1,478.8 861.7,478.8 861.3,478.8 860.9,478.8 860.5,478.8 860.11,478.8 859.71,478.8 859.31,478.8 858.91,478.8 858.51,478.8 858.12,478.8 857.72,478.8 857.32,478.8 856.92,478.8 856.52,478.81 856.12,478.91 855.73,478.84 855.33,478.78 854.93,478.8 854.53,478.8 854.13,478.8 853.74,478.8 853.34,478.8 852.94,478.8 852.54,478.8 852.14,478.8 851.75,478.8 851.35,478.8 850.95,478.8 850.55,478.8 850.15,478.8 849.75,478.8 849.36,478.8 848.96,478.8 848.56,478.8 848.16,478.8 847.76,478.8 847.37,478.8 846.97,478.8 846.57,478.8 846.17,478.8 845.77,478.8 845.37,478.8 844.98,478.8 844.58,478.8 844.18,478.8 843.78,478.8 843.38,478.77 842.99,478.82 842.7,482.11 842.59,481.15 842.19,478.92 841.79,478.8 841.39,478.8 840.99,478.8 840.6,478.8 840.2,478.8 839.8,478.8 839.4,478.8 839,478.8 838.61,478.8 838.21,478.8 837.81,478.8 837.41,478.8 837.01,478.8 836.61,478.8 836.22,478.8 835.82,478.8 835.42,478.8 835.02,478.8 834.62,478.8 834.23,478.8 833.83,492.39 833.43,478.54 833.03,478.58 832.63,473.4 832.3,479.16 832.24,471.85 831.84,479.17 831.44,477.55 831.04,471.02 830.64,462.53 830.24,449.11 829.85,445.01 829.5,430.81 829.45,426.56 829.05,441.4 828.65,455.37 828.25,464.49 827.86,474.24 827.46,477.24 827.06,471.85 826.7,465.87 826.66,474.04 826.26,470 825.86,476.02 825.47,475.45 825.07,470.99 824.67,471.24 824.6,467.54 824.27,472.74 823.87,475.3 823.48,476.13 823.08,469.65 822.68,463.93 822.6,461.35 822.28,469.11 821.88,473.23 821.48,477.3 821.09,490.12 820.69,456.8 820.29,442.26 819.89,429.68 819.49,418.11 819.2,408.42 819.1,399.93 818.7,398.59 818.3,421.96 817.9,454.32 817.5,467.03 817.1,477.62 816.71,476.03 816.31,471.1 816.3,476.29 815.91,475.22 815.51,479.12 815.11,478.8 814.72,477.43 814.32,467.5 813.92,458.3 813.52,455.9 813.2,434.87 813.12,449.29 812.72,453.96 812.33,457.38 811.93,472.41 811.53,478.8 811.13,478.8 810.73,478.8 810.34,487.86 809.94,478.8 809.54,478.22 809.14,477.27 808.74,480.8 808.5,474.31 808.34,477.85 807.95,476.9 807.55,478.03 807.15,478.8 806.75,478.8 806.35,467.81 805.96,453.67 805.56,451.8 805.16,422.39 804.76,416.51 804.7,432.48 804.36,421.87 803.97,436.66 803.57,487.86 803.17,466.43 802.77,476.23 802.37,478.8 801.97,478.8 801.58,478.8 801.18,478.8 800.78,478.8 800.38,478.8 799.98,478.8 799.59,478.8 799.19,478.8 798.79,478.8 798.39,478.8 797.99,478.8 797.59,478.8 797.2,478.8 796.8,478.8 796.4,478.8" fill="#800080" fill-opacity="0.5" stroke="none"/>
<polyline points="796.4,478.8 796.8,478.8 797.2,478.8 797.59,478.8 797.99,478.8 798.39,478.8 798.79,478.8 799.19,478.8 799.59,478.8 799.98,478.8 800.38,478.8 800.78,478.8 801.18,478.8 801.58,478.8 801.97,478.8 802.37,478.8 802.77,475.15 803.17,454.32 803.57,433.49 803.97,412.65 804.36,392.34 804.7,374.63 804.76,377.75 805.16,398.59 805.56,419.42 805.96,440.26 806.35,460.57 806.75,478.8 807.15,478.8 807.55,475.97 807.95,471.44 808.34,467.02 808.5,465.21 808.74,467.93 809.14,472.46 809.54,476.99 809.94,478.8 810.34,478.8 810.73,478.8 811.13,478.8 811.53,478.8 811.93,464.79 812.33,447.8 812.72,431.24 813.12,414.26 813.2,410.86 813.52,424.45 813.92,441.43 814.32,458.42 814.72,475.4 815.11,478.8 815.51,475 815.91,467.75 816.3,460.68 816.31,460.86 816.71,468.11 817.1,475.18 817.5,457.16 817.9,428.31 818.3,399.46 818.7,370.61 819.1,341.76 819.2,334.54 819.49,355.46 819.89,384.31 820.29,413.16 820.69,442.01 821.09,470.87 821.48,473.36 821.88,465.6 822.28,457.84 822.6,451.62 822.68,453.18 823.08,460.94 823.48,468.71 823.87,469.93 824.27,462.38 824.6,456.15 824.67,457.48 825.07,465.02 825.47,472.57 825.86,470.65 826.26,461.59 826.66,452.53 826.7,451.62 827.06,459.78 827.46,468.84 827.86,471.84 828.25,454.86 828.65,437.45 829.05,420.03 829.45,402.62 829.5,400.44 829.85,415.68 830.24,432.66 830.64,450.07 831.04,467.48 831.44,474.31 831.84,469.02 832.24,463.74 832.3,462.95 832.63,467.31 833.03,472.59 833.43,477.88 833.83,478.8 834.23,478.8 834.62,478.8 835.02,478.8 835.42,478.8 835.82,478.8 836.22,478.8 836.61,478.8 837.01,478.8 837.41,478.8 837.81,478.8 838.21,478.8 838.61,478.8 839,478.8 839.4,478.8 839.8,478.8 840.2,478.8 840.6,478.8 840.99,478.8 841.39,478.8 841.79,478.8 842.19,476.96 842.59,473.07 842.7,472.01 842.99,474.82 843.38,478.61 843.78,478.8 844.18,478.8 844.58,478.8 844.98,478.8 845.37,478.8 845.77,478.8 846.17,478.8 846.57,478.8 846.97,478.8 847.37,478.8 847.76,478.8 848.16,478.8 848.56,478.8 848.96,478.8 849.36,478.8 849.75,478.8 850.15,478.8 850.55,478.8 850.95,478.8 851.35,478.8 851.75,478.8 852.14,478.8 852.54,478.8 852.94,478.8 853.34,478.8 853.74,478.8 854.13,478.8 854.53,478.8 854.93,478.8 855.33,478.47 855.73,477.91 856.12,477.98 856.52,478.55 856.92,478.8 857.32,478.8 857.72,478.8 858.12,478.8 858.51,478.8 858.91,478.8 859.31,478.8 859.71,478.8 860.11,478.8 860.5,478.8 860.9,478.8 861.3,478.8 861.7,478.8 862.1,478.8 862.5,478.8 862.89,478.8 863.29,478.8 863.69,477.6 864.09,475.09 864.4,473.14 864.49,473.7 864.88,476.16 865.28,478.67 865.68,478.8 866.08,477.21 866.48,474.95 866.6,474.27 866.88,475.86 867.27,478.06 867.67,476.89 868.07,474.06 868.2,473.14 868.47,475.05 868.87,477.88 869.26,478.46 869.66,476.2 870,474.27 870.06,474.61 870.46,476.88 870.86,478.8 871.26,478.8 871.65,478.8 872.05,478.8 872.45,478.8 872.85,478.8 873.25,478.8 873.64,478.8 874.04,478.21 874.44,476.51 874.7,475.4 874.84,476 875.24,477.7 875.64,478.8 876.03,478.8 876.43,478.8 876.83,478.8 877.23,478.8 877.63,478.8 878.02,477.59 878.42,476.08 878.6,475.4 878.82,476.23 879.22,477.74 879.62,478.72 880.02,477.02 880.4,475.4 880.41,475.45 880.81,477.14 881.21,478.8 881.61,477.31 882.01,474.48 882.2,473.14 882.4,474.55 882.8,477.38 883.2,478.8 883.6,476.54 884,474.27 884.39,476.48 884.79,478.74 885.19,476.98 885.59,474.46 885.8,473.14 885.99,474.33 886.39,469.24 886.78,449.61 887.18,429.48 887.58,409.35 887.98,389.22 888,388.22 888.38,407.34 888.77,426.97 889.17,447.1 889.57,467.23 889.97,478.8 890.37,478.8 890.77,478.8 891.16,478.8 891.56,478.8 891.96,443.84 892.36,390.06 892.76,336.27 893.15,283.83 893.3,263.66 893.55,297.28 893.95,351.06 894.35,404.85 894.75,458.63 895.15,473.52 895.54,465.27 895.94,456.82 896.34,448.36 896.4,447.1 896.74,454.28 897.14,462.74 897.53,470.98 897.93,476.49 898.33,472.46 898.6,469.74 898.73,471.05 899.13,475.08 899.53,478.5 899.92,474.57 900.32,470.55 900.4,469.74 900.72,472.96 901.12,476.99 901.52,476.86 901.91,473.43 902.2,470.87 902.31,471.84 902.71,475.37 903.11,478.8 903.51,478.8 903.9,478.8 904.3,478.8 904.7,478.8 905.1,478.8 905.5,478.8 905.9,478.8 906.29,478.8 906.69,478.8 907.09,478.8 907.49,478.8 907.89,478.8 908.28,478.8 908.68,478.8 909.08,478.8 909.48,478.8 909.88,478.8 910.28,478.8 910.67,478.8 911.07,478.8 911.47,478.8 911.87,478.8 912.27,478.8 912.66,478.8 913.06,478.8 913.46,478.8 913.86,478.8 914.26,478.8 914.66,478.8 915.05,478.8 915.45,478.8 915.85,478.8 916.25,478.8 916.65,478.8 917.04,478.8 917.44,478.8 917.84,478.8 918.24,478.8 918.64,478.8 919.04,478.8 919.43,478.8 919.83,478.8 920.23,478.8 920.63,478.8 921.03,478.8 921.42,478.8 921.82,478.8 922.22,478.8 922.62,478.8 923.02,478.8 923.42,478.8 923.81,478.8 924.21,478.8 924.61,478.8 925.01,478.8 925.41,478.8 925.8,478.8 926.2,478.8 926.6,478.8 927,478.8 927.4,478.8 927.8,478.8 928.19,478.8 928.59,478.8 928.99,478.8 929.39,478.8 929.79,478.8 930.18,478.8 930.58,478.8 930.98,478.8 931.38,478.8 931.78,478.8 932.17,478.8 932.57,478.8 932.97,478.8 933.37,478.8 933.77,478.8 934.17,478.8 934.56,478.8 934.96,478.8 935.36,478.8 935.76,478.8 936.16,478.8 936.55,478.8 936.95,478.8 937.35,478.8 937.75,478.8 938.15,478.8 938.55,478.8 938.94,478.8 939.34,478.8 939.74,478.8 940.14,478.8 940.54,478.8 940.93,478.8 941.33,478.12 941.73,469.06 942.13,460 942.53,450.95 942.6,449.36 942.93,456.83 943.32,465.67 943.72,474.72 944.12,478.8 944.52,478.12 944.92,475.86 945.31,474.89 945.71,477.16 946.11,478.8 946.51,478.8 946.91,478.8 947.31,478.8 947.7,478.8 948.1,478.8 948.5,478.8 948.9,478.8 949.3,478.8 949.69,478.8 950.09,478.8 950.49,478.8 950.89,478.8 951.29,478.8 951.68,478.8 952.08,478.8 952.48,478.8 952.88,478.8 953.28,478.8 953.68,478.8 954.07,478.8 954.47,478.8 954.87,478.8 955.27,478.8 955.67,472.22 956.06,462.7 956.46,452.95 956.7,447.1 956.86,451 957.26,460.75 957.66,470.51 958.06,478.8 958.45,478.3 958.85,474.27 959.25,470.24 959.3,469.74 959.65,473.26 960.05,477.29 960.44,478.8 960.84,478.8 961.24,478.8 961.64,478.8 962.04,478.8 962.44,478.8 962.83,478.8 963.23,478.8 963.63,478.8 964.03,478.8 964.43,478.8 964.82,478.8 965.22,478.8 965.62,478.8 966.02,478.8 966.42,478.8 966.82,478.8 967.21,478.8 967.61,478.8 968.01,478.8 968.41,478.8 968.81,478.8 969.2,478.8 969.6,478.8 970,478.8 970.4,478.8 970.8,478.8 971.2,478.8 971.59,478.8 971.99,478.8 972.39,478.8 972.79,478.8 973.19,478.8 973.58,478.8 973.98,478.8 974.38,478.8 974.78,478.8 975.18,478.8 975.58,478.8 975.97,478.8 976.37,478.8 976.77,478.8 977.17,478.8 977.57,478.8 977.96,478.8 978.36,478.8 978.76,478.8 979.16,478.8 979.56,478.8 979.95,478.8 980.35,478.8 980.75,473.7 981.15,460.12 981.55,446.53 981.95,432.94 982.1,427.85 982.34,436 982.74,449.59 983.14,463.17 983.54,476.76 983.94,472.57 984.33,467.9 984.73,473.56 985.13,475.54 985.53,469.88 985.7,467.48 985.93,470.73 986.33,476.39 986.72,478.8 987.12,478.8 987.52,478.8 987.92,478.8 988.32,478.8 988.71,478.8 989.11,478.8 989.51,478.8 989.91,478.8 990.31,478.8 990.71,478.8 991.1,478.8 991.5,478.8 991.9,478.8 992.3,478.8 992.7,478.8 993.09,478.8 993.49,478.8 993.89,478.8 994.29,478.8 994.69,478.8 995.09,478.8 995.48,478.8 995.88,478.8 996.28,478.8 996.68,478.8 997.08,478.8 997.47,478.8 997.87,478.8 998.27,478.8 998.67,478.8 999.07,478.8 999.46,478.8 999.86,478.8 1000.26,478.8 1000.66,478.8 1001.06,478.8 1001.46,478.8 1001.85,478.8 1002.25,478.8 1002.65,478.8 1003.05,478.8 1003.45,478.8 1003.84,478.8 1004.24,478.8 1004.64,478.8 1005.04,478.8 1005.44,478.8 1005.84,470.74 1006.23,461.5 1006.63,452.02 1007,443.25 1007.03,443.96 1007.43,453.44 1007.83,462.92 1008.22,472.16 1008.62,478.66 1009.02,475.95 1009.42,473.23 1009.82,473.5 1010.22,476.22 1010.61,478.8 1011.01,478.8 1011.41,478.8 1011.81,478.8 1012.21,478.8 1012.6,477.95 1013,476.25 1013.4,476.25 1013.8,477.95 1014.2,478.8 1014.6,478.8 1014.99,478.8 1015.39,478.8 1015.79,478.8 1016.19,478.8 1016.59,478.8 1016.98,478.8 1017.38,478.8 1017.78,478.8 1018.18,478.8 1018.58,478.8 1018.98,478.8 1019.37,478.8 1019.77,478.8 1020.17,478.8 1020.57,478.8 1020.97,478.8 1021.36,478.8 1021.76,478.8 1022.16,478.8 1022.56,478.8 1022.96,478.8 1023.36,478.8 1023.75,478.8 1024.15,478.8 1024.55,478.8 1024.95,478.8 1025.35,478.8 1025.74,478.8 1026.14,478.8 1026.54,478.8 1026.94,478.8 1027.34,478.8 1027.73,478.8 1028.13,478.8 1028.53,478.8 1028.93,478.8 1029.33,478.8 1029.73,478.8 1030.12,478.8 1030.52,478.8 1030.92,478.8 1031.32,478.8 1031.72,478.8 1032.11,478.8 1032.51,478.8 1032.91,478.8 1033.31,478.8 1033.71,478.8 1034.11,478.8 1034.5,478.8 1034.9,478.8 1035.3,478.8 1035.7,478.8 1036.1,478.8 1036.49,478.8 1036.89,478.8 1037.29,478.8 1037.69,478.8 1038.09,478.8 1038.49,478.8 1038.88,478.8 1039.28,478.8 1039.68,478.8 1040.08,478.8 1040.48,478.8 1040.87,478.8 1041.27,478.8 1041.67,478.8 1042.07,478.8 1042.47,478.8 1042.87,478.8 1043.26,478.8 1043.66,478.8 1044.06,478.8 1044.46,478.8 1044.86,478.8 1045.25,478.8 1045.65,478.8 1046.05,478.8 1046.45,478.8 1046.85,478.8 1047.24,478.8 1047.64,478.8 1048.04,478.8 1048.44,478.8 1048.84,478.8 1049.24,478.8 1049.63,478.8 1050.03,478.8 1050.43,478.8 1050.83,478.8 1051.23,478.8 1051.62,478.8 1052.02,478.8 1052.42,478.8 1052.82,478.8 1053.22,478.8 1053.62,478.8 1054.01,478.8 1054.41,478.8 1054.81,478.8 1055.21,478.8 1055.61,478.8 1056,478.8 1056.4,478.8 1056.8,478.8 1057.2,478.8 1057.6,478.8 1058,478.8 1058.39,478.8 1058.79,478.8 1059.19,478.8 1059.59,478.8 1059.99,478.8 1060.38,478.8 1060.78,478.8 1061.18,478.8 1061.58,478.8 1061.98,478.8 1062.38,478.8 1062.77,478.8 1063.17,478.8 1063.57,478.8 1063.97,478.8 1064.37,478.8 1064.76,478.8 1065.16,478.8 1065.56,478.8 1065.96,478.8 1066.36,478.8 1066.76,478.8 1067.15,478.8 1067.55,478.8 1067.95,478.8 1068.35,478.8 1068.75,478.8 1069.14,478.8 1069.54,478.8 1069.94,478.8 1070.34,478.8 1070.74,478.8 1071.14,478.8 1071.53,478.8 1071.93,478.8 1072.33,478.8 1072.73,478.8 1073.13,478.8 1073.52,478.8 1073.92,478.8 1074.32,478.8 1074.72,478.8 1075.12,478.8 1075.51,478.8 1075.91,478.8 1076.31,478.8 1076.71,478.8 1077.11,478.8 1077.51,478.8 1077.9,478.8 1078.3,478.8 1078.7,478.8 1079.1,478.8 1079.5,478.8 1079.89,478.8 1080.29,478.8 1080.69,478.8 1081.09,478.8 1081.49,478.8 1081.89,478.8 1082.28,478.8 1082.68,478.8 1083.08,478.8 1083.48,478.8 1083.88,478.8 1084.27,478.8 1084.67,478.8 1085.07,478.8 1085.47,478.8 1085.87,478.8 1086.27,478.8 1086.66,478.8 1087.06,478.8 1087.46,478.8 1087.86,478.8 1088.26,478.8 1088.65,478.8 1089.05,478.8 1089.45,478.8 1089.85,478.8 1090.25,478.8 1090.65,478.8 1091.04,478.8 1091.44,478.8 1091.84,478.8 1092.24,478.8 1092.64,478.8 1093.03,478.8 1093.43,478.8 1093.83,478.8 1094.23,478.8 1094.63,478.8 1095.03,478.8 1095.42,478.8 1095.82,478.8 1096.22,478.8 1096.62,478.8 1097.02,478.8 1097.41,478.8 1097.81,478.8 1098.21,478.8 1098.61,478.8 1099.01,478.8 1099.4,478.8 1099.8,478.8 1100.2,478.8 1100.6,478.8 1101,478.8 1101.4,478.8 1101.79,478.8 1102.19,478.8 1102.59,478.8 1102.99,478.8 1103.39,478.8 1103.78,478.8 1104.18,478.8 1104.58,478.8 1104.98,478.8 1105.38,478.8 1105.78,478.8 1106.17,478.8 1106.57,478.8 1106.97,478.8 1107.37,478.8 1107.77,478.8 1108.16,478.8 1108.56,478.8 1108.96,478.8 1109.36,478.8 1109.76,478.8 1110.16,478.8 1110.55,478.8 1110.95,478.8 1111.35,478.8 1111.75,478.8 1112.15,478.8 1112.54,478.8 1112.94,478.8 1113.34,478.8 1113.74,478.8 1114.14,478.8 1114.54,478.8 1114.93,478.8 1115.33,478.8 1115.73,478.8 1116.13,478.8 1116.53,478.8 1116.92,478.8 1117.32,478.8 1117.72,478.8 1118.12,478.8 1118.52,478.8 1118.92,478.8 1119.31,478.8 1119.71,478.8 1120.11,478.8 1120.51,478.8 1120.91,478.8 1121.3,478.8 1121.7,478.8 1122.1,478.8 1122.5,478.8 1122.9,478.8 1123.29,478.8 1123.69,478.8 1124.09,478.8 1124.49,478.8 1124.89,478.8 1125.29,478.8 1125.68,478.8 1126.08,478.8 1126.48,478.8 1126.88,478.8 1127.28,478.8 1127.67,478.8 1128.07,478.8 1128.47,478.8 1128.87,478.8 1129.27,478.8 1129.67,478.8 1130.06,478.8 1130.46,478.8 1130.86,478.8 1131.26,478.8 1131.66,478.8 1132.05,478.8 1132.45,478.8 1132.85,478.8 1133.25,478.8 1133.65,478.8 1134.05,478.8 1134.44,478.8 1134.84,478.8 1135.24,478.8 1135.64,478.8 1136.04,478.8 1136.43,478.8 1136.83,478.8 1137.23,478.8 1137.63,478.8 1138.03,478.8 1138.43,478.8 1138.82,478.8 1139.22,478.8 1139.62,478.8 1140.02,478.8 1140.42,478.8 1140.81,478.8 1141.21,478.8 1141.61,478.8 1142.01,478.8 1142.41,478.8 1142.8,478.8 1143.2,478.8 1143.6,478.8 1144,478.8 1144.4,478.8 1144.8,478.8 1145.19,478.8 1145.59,478.8 1145.99,478.8 1146.39,478.8 1146.79,478.8 1147.18,478.8 1147.58,478.8 1147.98,478.8 1148.38,478.8 1148.78,478.8 1149.18,478.8 1149.57,478.8 1149.97,478.8 1150.37,478.8 1150.77,478.8 1151.17,478.8 1151.56,478.8 1151.96,478.8 1152.36,478.8 1152.76,478.8 1153.16,478.8 1153.56,478.8 1153.95,478.8 1154.35,478.8 1154.75,478.8 1155.15,478.8 1155.55,478.8 1155.94,478.8 1156.34,478.8 1156.74,478.8 1157.14,478.8 1157.54,478.8 1157.94,478.8 1158.33,478.8 1158.73,478.8 1159.13,478.8 1159.53,478.8 1159.93,478.8 1160.32,478.8 1160.72,478.8 1161.12,478.8 1161.52,478.8 1161.92,478.8 1162.32,478.8 1162.71,478.8 1163.11,478.8 1163.51,478.8 1163.91,478.8 1164.31,478.8 1164.7,478.8 1165.1,478.8 1165.5,478.8 1165.9,478.8 1166.3,478.8 1166.7,478.8 1167.09,478.8 1167.49,478.8 1167.89,478.8 1168.29,478.8 1168.69,478.8 1169.08,478.8 1169.48,478.8 1169.88,478.8 1170.28,478.8 1170.68,478.8 1171.07,478.8 1171.47,478.8 1171.87,478.8 1172.27,478.8 1172.67,478.8 1173.07,478.8 1173.46,478.8 1173.86,478.8 1174.26,478.8 1174.66,478.8 1175.06,478.8 1175.45,478.8 1175.85,478.8 1176.25,478.8 1176.65,478.8 1177.05,478.8 1177.45,478.8 1177.84,478.8 1178.24,478.8 1178.64,478.8 1179.04,478.8 1179.44,478.8 1179.83,478.8 1180.23,478.8 1180.63,478.8 1181.03,478.8 1181.43,478.8 1181.83,478.8 1182.22,478.8 1182.62,478.8 1183.02,478.8 1183.42,478.8 1183.82,478.8 1184.21,478.8 1184.61,478.8 1185.01,478.8 1185.41,478.8 1185.81,478.8 1186.21,478.8 1186.6,478.8 1187,478.8 1187.4,478.8 1187.8,478.8 1188.2,478.8 1188.59,478.8 1188.99,478.8 1189.39,478.8 1189.79,478.8 1190.19,478.8 1190.58,478.8 1190.98,478.8 1191.38,478.8 1191.78,478.8 1192.18,478.8 1192.58,478.8 1192.97,478.8 1193.37,478.8 1193.77,478.8 1194.17,478.8 1194.57,478.8 1194.96,478.8 1195.36,478.8 1195.76,478.8 1196.16,478.8 1196.56,478.8 1196.96,478.8 1197.35,478.8 1197.75,478.8 1198.15,478.8 1198.55,478.8 1198.95,478.8 1199.34,478.8 1199.74,478.8 1200.14,478.8 1200.54,478.8 1200.94,478.8 1201.34,478.8 1201.73,478.8 1202.13,478.8 1202.53,478.8 1202.93,478.8 1203.33,478.8 1203.72,478.8 1204.12,478.8 1204.52,478.8 1204.92,478.8 1205.32,478.8 1205.72,478.8 1206.11,478.8 1206.51,478.8 1206.91,478.8 1207.31,478.8 1207.71,478.8 1208.1,478.8 1208.5,478.8 1208.9,478.8 1209.3,478.8 1209.7,478.8 1210.1,478.8 1210.49,478.8 1210.89,478.8 1211.29,478.8 1211.69,478.8 1212.09,478.8 1212.48,478.8 1212.88,478.8 1213.28,478.8 1213.68,478.8 1214.08,478.8 1214.47,478.8 1214.87,478.8 1215.27,478.8 1215.67,478.8 1216.07,478.8 1216.47,478.8 1216.86,478.8 1217.26,478.8 1217.66,478.8 1218.06,478.8 1218.46,478.8 1218.85,478.8 1219.25,478.8 1219.65,478.8 1220.05,478.8 1220.45,478.8 1220.85,478.8 1221.24,478.8 1221.64,478.8 1222.04,478.8 1222.44,478.8 1222.84,478.8 1223.23,478.8 1223.63,478.8 1224.03,478.8 1224.43,478.8 1224.83,478.8 1225.23,478.8 1225.62,478.8 1226.02,478.8 1226.42,478.8 1226.82,478.8 1227.22,478.8 1227.61,478.8 1228.01,478.8 1228.41,478.8 1228.81,478.8 1229.21,478.8 1229.61,478.8 1230,478.8 1230.4,478.8 1230.8,478.8 1231.2,478.8 1231.6,478.8 1231.99,478.8 1232.39,478.8 1232.79,478.8 1233.19,478.8 1233.59,478.8 1233.99,478.8 1234.38,478.8 1234.78,478.8 1235.18,478.8 1235.58,478.8 1235.98,478.8 1236.37,478.8 1236.77,478.8 1237.17,478.8 1237.57,478.8 1237.97,478.8 1238.36,478.8 1238.76,478.8 1239.16,478.8 1239.56,478.8 1239.96,478.8 1240.36,478.8 1240.75,478.8 1241.15,478.8 1241.55,478.8 1241.95,478.8 1242.35,478.8 1242.74,478.8 1243.14,478.8 1243.54,478.8 1243.94,478.8 1244.34,478.8 1244.74,478.8 1245.13,478.8 1245.53,478.8 1245.93,478.8 1246.33,478.8 1246.73,478.8 1247.12,478.8 1247.52,478.8 1247.92,478.8 1248.32,478.8 1248.72,478.8 1249.12,478.8 1249.51,478.8 1249.91,478.8 1250.31,478.8 1250.71,478.8 1251.11,478.8 1251.5,478.8 1251.9,478.8 1252.3,478.8 1252.7,478.8 1253.1,478.8 1253.5,478.8 1253.89,478.8 1254.29,478.8 1254.69,478.8 1255.09,478.8 1255.49,478.8 1255.88,478.8 1256.28,478.8 1256.68,478.8 1257.08,478.8 1257.48,478.8 1257.88,478.8 1258.27,478.8 1258.67,478.8 1259.07,478.8 1259.47,478.8 1259.87,478.8 1260.26,478.8 1260.66,478.8 1261.06,478.8 1261.46,478.8 1261.86,478.8 1262.26,478.8 1262.65,478.8 1263.05,478.8 1263.45,478.8 1263.85,478.8 1264.25,478.8 1264.64,478.8 1265.04,478.8 1265.44,478.8 1265.84,478.8 1266.24,478.8 1266.63,478.8 1267.03,478.8 1267.43,478.8 1267.83,478.8 1268.23,478.8 1268.63,478.8 1269.02,478.8 1269.42,478.8 1269.82,478.8 1270.22,478.8 1270.62,478.8 1271.01,478.8 1271.41,478.8 1271.81,478.8 1272.21,478.8 1272.61,478.8 1273.01,478.8 1273.4,478.8 1273.8,478.8 1274.2,478.8 1274.6,478.8 1275,478.8 1275.39,478.8 1275.79,478.8 1276.19,478.8 1276.59,478.8 1276.99,478.8 1277.39,478.8 1277.78,478.8 1278.18,478.8 1278.58,478.8 1278.98,478.8 1279.38,478.8 1279.77,478.8 1280.17,478.8 1280.57,478.8 1280.97,478.8 1281.37,478.8 1281.77,478.8 1282.16,478.8 1282.56,478.8 1282.96,478.8 1283.36,478.8 1283.76,478.8 1284.15,478.8 1284.55,478.8 1284.95,478.8 1285.35,478.8 1285.75,478.8 1286.14,478.8 1286.54,478.8 1286.94,478.8 1287.34,478.8 1287.74,478.8 1288.14,478.8 1288.53,478.8 1288.93,478.8 1289.33,478.8 1289.73,478.8 1290.13,478.8 1290.52,478.8 1290.92,478.8 1291.32,478.8 1291.72,478.8 1292.12,478.8 1292.52,478.8 1292.91,478.8 1293.31,478.8 1293.71,478.8 1294.11,478.8 1294.51,478.8 1294.9,478.8 1295.3,478.8 1295.7,478.8 1296.1,478.8 1296.5,478.8 1296.9,478.8 1297.29,478.8 1297.69,478.8 1298.09,478.8 1298.49,478.8 1298.89,478.8 1299.28,478.8 1299.68,478.8 1300.08,478.8 1300.48,478.8 1300.88,478.8 1301.28,478.8 1301.67,478.8 1302.07,478.8 1302.47,478.8 1302.87,478.8 1303.27,478.8 1303.66,478.8 1304.06,478.8 1304.46,478.8 1304.86,478.8 1305.26,478.8 1305.66,478.8 1306.05,478.8 1306.45,478.8 1306.85,478.8 1307.25,478.8 1307.65,478.8 1308.04,478.8 1308.44,478.8 1308.84,478.8 1309.24,478.8 1309.64,478.8 1310.03,478.8 1310.43,478.8 1310.83,478.8 1311.23,478.8 1311.63,478.8 1312.03,478.8 1312.42,478.8 1312.82,478.8 1313.22,478.8 1313.62,478.8 1314.02,478.8 1314.41,478.8 1314.81,478.8 1315.21,478.8 1315.61,478.8 1316.01,478.8 1316.41,478.8 1316.8,478.8 1317.2,478.8 1317.6,478.8 1318,478.8 1318.4,478.8 1318.79,478.8 1319.19,478.8 1319.59,478.8 1319.99,478.8 1320.39,478.8 1320.79,478.8 1321.18,478.8 1321.58,478.8 1321.98,478.8 1322.38,478.8 1322.78,478.8 1323.17,478.8 1323.57,478.8 1323.97,478.8 1324.37,478.8 1324.77,478.8 1325.17,478.8 1325.56,478.8 1325.96,478.8 1326.36,478.8 1326.76,478.8 1327.16,478.8 1327.55,478.8 1327.95,478.8 1328.35,478.8 1328.75,478.8 1329.15,478.8 1329.55,478.8 1329.94,478.8 1330.34,478.8 1330.74,478.8 1331.14,478.8 1331.54,478.8 1331.93,478.8 1332.33,478.8 1332.73,478.8 1333.13,478.8 1333.53,478.8 1333.92,478.8 1334.32,478.8 1334.72,478.8 1335.12,478.8 1335.52,478.8 1335.92,478.8 1336.31,478.8 1336.71,478.8 1337.11,478.8 1337.51,478.8 1337.91,478.8 1338.3,478.8 1338.7,475.4 1339.1,470.87 1339.5,466.34 1339.9,468.61 1340.3,473.14 1340.69,477.55 1341.09,458.66 1341.49,430.88 1341.89,403.1 1342.29,375.32 1342.3,374.63 1342.68,401.02 1343.08,428.8 1343.48,415.75 1343.88,372.27 1343.9,370.1 1344.28,411.41 1344.68,445.47 1345.07,418.38 1345.47,390.6 1345.7,374.63 1345.87,386.43 1346.27,414.21 1346.67,441.99 1347.06,469.08 1347.46,474.87 1347.86,468.84 1348.26,462.8 1348.66,464.61 1349.06,470.65 1349.45,476.54 1349.85,478.8 1350.25,478.8 1350.65,478.8 1351.05,478.8 1351.44,478.8 1351.84,478.8 1352.24,478.8 1352.64,478.8 1353.04,478.8 1353.44,478.8 1353.83,478.8 1354.23,478.8 1354.63,478.8 1355.03,478.8 1355.43,478.8 1355.82,478.8 1356.22,478.8 1356.62,478.8 1357.02,478.8 1357.42,478.8 1357.82,478.8 1358.21,478.8 1358.3,478.8" stroke="#ee82ee" stroke-width="3" stroke-linecap="square"/>
<polyline points="796.4,478.8 796.8,478.8 797.2,478.8 797.59,478.8 797.99,478.8 798.39,478.8 798.79,478.8 799.19,478.8 799.59,478.8 799.98,478.8 800.38,478.8 800.78,478.8 801.18,478.8 801.58,478.8 801.97,478.8 802.37,478.8 802.77,478.01 803.17,473.48 803.57,468.95 803.97,464.42 804.36,460 804.7,456.15 804.76,456.83 805.16,461.36 805.56,465.89 805.96,470.42 806.35,474.84 806.75,478.8 807.15,478.8 807.55,478.8 807.95,478.8 808.34,478.8 808.5,478.8 808.74,478.8 809.14,478.8 809.54,478.8 809.94,478.8 810.34,478.8 810.73,478.8 811.13,478.8 811.53,478.8 811.93,476.93 812.33,474.67 812.72,472.46 813.12,470.19 813.2,469.74 813.52,471.55 813.92,473.82 814.32,476.08 814.72,478.35 815.11,478.8 815.51,477.85 815.91,476.04 816.3,474.27 816.31,474.32 816.71,476.13 817.1,477.89 817.5,470.99 817.9,460.57 818.3,450.15 818.7,439.74 819.1,429.32 819.2,426.71 819.49,434.27 819.89,444.68 820.29,455.1 820.69,465.52 821.09,475.94 821.48,472.01 821.88,462.3 822.28,452.6 822.6,444.83 822.68,446.77 823.08,456.48 823.48,466.18 823.87,465.5 824.27,454.17 824.6,444.83 824.67,446.81 825.07,458.14 825.47,469.46 825.86,474.72 826.26,470.19 826.66,465.67 826.7,465.21 827.06,469.29 827.46,473.82 827.86,476.18 828.25,469.8 828.65,463.26 829.05,456.72 829.45,450.18 829.5,449.36 829.85,455.08 830.24,461.46 830.64,468.01 831.04,474.55 831.44,476.88 831.84,474.61 832.24,472.35 832.3,472.01 832.63,473.87 833.03,476.14 833.43,478.4 833.83,478.8 834.23,478.8 834.62,478.8 835.02,478.8 835.42,478.8 835.82,478.8 836.22,478.8 836.61,478.8 837.01,478.8 837.41,478.8 837.81,478.8 838.21,478.8 838.61,478.8 839,478.8 839.4,478.8 839.8,478.8 840.2,478.8 840.6,478.8 840.99,478.8 841.39,478.8 841.79,478.8 842.19,478.8 842.59,478.8 842.7,478.8 842.99,478.8 843.38,478.8 843.78,478.8 844.18,478.8 844.58,478.8 844.98,478.8 845.37,478.8 845.77,478.8 846.17,478.8 846.57,478.8 846.97,478.8 847.37,478.8 847.76,478.8 848.16,478.8 848.56,478.8 848.96,478.8 849.36,478.8 849.75,478.8 850.15,478.8 850.55,478.8 850.95,478.8 851.35,478.8 851.75,478.8 852.14,478.8 852.54,478.8 852.94,478.8 853.34,478.8 853.74,478.8 854.13,478.8 854.53,478.8 854.93,478.8 855.33,478.8 855.73,478.8 856.12,478.8 856.52,478.8 856.92,478.8 857.32,478.8 857.72,478.8 858.12,478.8 858.51,478.8 858.91,478.8 859.31,478.8 859.71,478.8 860.11,478.8 860.5,478.8 860.9,478.8 861.3,478.8 861.7,478.8 862.1,478.8 862.5,478.8 862.89,478.8 863.29,478.8 863.69,478.8 864.09,478.8 864.4,478.8 864.49,478.8 864.88,478.8 865.28,478.8 865.68,478.8 866.08,478.8 866.48,478.8 866.6,478.8 866.88,478.8 867.27,478.8 867.67,478.8 868.07,478.8 868.2,478.8 868.47,478.8 868.87,478.8 869.26,478.8 869.66,478.8 870,478.8 870.06,478.8 870.46,478.8 870.86,478.8 871.26,478.8 871.65,478.8 872.05,478.8 872.45,478.8 872.85,478.8 873.25,478.8 873.64,478.8 874.04,478.8 874.44,478.8 874.7,478.8 874.84,478.8 875.24,478.8 875.64,478.8 876.03,478.8 876.43,478.8 876.83,478.8 877.23,478.8 877.63,478.8 878.02,478.8 878.42,478.8 878.6,478.8 878.82,478.8 879.22,478.8 879.62,478.8 880.02,478.8 880.4,478.8 880.41,478.8 880.81,478.8 881.21,478.8 881.61,478.8 882.01,478.8 882.2,478.8 882.4,478.8 882.8,478.8 883.2,478.8 883.6,478.8 884,478.8 884.39,478.8 884.79,478.8 885.19,478.8 885.59,478.8 885.8,478.8 885.99,478.8 886.39,478.8 886.78,478.8 887.18,478.8 887.58,478.8 887.98,478.8 888,478.8 888.38,478.8 888.77,478.8 889.17,478.8 889.57,478.8 889.97,478.8 890.37,478.8 890.77,478.8 891.16,478.8 891.56,478.8 891.96,478.8 892.36,478.8 892.76,478.8 893.15,478.8 893.3,478.8 893.55,478.8 893.95,478.8 894.35,478.8 894.75,478.8 895.15,478.8 895.54,478.8 895.94,478.8 896.34,478.8 896.4,478.8 896.74,478.8 897.14,478.8 897.53,478.8 897.93,478.8 898.33,478.8 898.6,478.8 898.73,478.8 899.13,478.8 899.53,478.8 899.92,478.8 900.32,478.8 900.4,478.8 900.72,478.8 901.12,478.8 901.52,478.8 901.91,478.8 902.2,478.8 902.31,478.8 902.71,478.8 903.11,478.8 903.51,478.8 903.9,478.8 904.3,478.8 904.7,478.8 905.1,478.8 905.5,478.8 905.9,478.8 906.29,478.8 906.69,478.8 907.09,478.8 907.49,478.8 907.89,478.8 908.28,478.8 908.68,478.8 909.08,478.8 909.48,478.8 909.88,478.8 910.28,478.8 910.67,478.8 911.07,478.8 911.47,478.8 911.87,478.8 912.27,478.8 912.66,478.8 913.06,478.8 913.46,478.8 913.86,478.8 914.26,478.8 914.66,478.8 915.05,478.8 915.45,478.8 915.85,478.8 916.25,478.8 916.65,478.8 917.04,478.8 917.44,478.8 917.84,478.8 918.24,478.8 918.64,478.8 919.04,478.8 919.43,478.8 919.83,478.8 920.23,478.8 920.63,478.8 921.03,478.8 921.42,478.8 921.82,478.8 922.22,478.8 922.62,478.8 923.02,478.8 923.42,478.8 923.81,478.8 924.21,478.8 924.61,478.8 925.01,478.8 925.41,478.8 925.8,478.8 926.2,478.8 926.6,478.8 927,478.8 927.4,478.8 927.8,478.8 928.19,478.8 928.59,478.8 928.99,478.8 929.39,478.8 929.79,478.8 930.18,478.8 930.58,478.8 930.98,478.8 931.38,478.8 931.78,478.8 932.17,478.8 932.57,478.8 932.97,478.8 933.37,478.8 933.77,478.8 934.17,478.8 934.56,478.8 934.96,478.8 935.36,478.8 935.76,478.8 936.16,478.8 936.55,478.8 936.95,478.8 937.35,478.8 937.75,478.8 938.15,478.8 938.55,478.8 938.94,478.8 939.34,478.8 939.74,478.8 940.14,478.8 940.54,478.8 940.93,478.8 941.33,478.8 941.73,478.8 942.13,478.8 942.53,478.8 942.6,478.8 942.93,478.8 943.32,478.8 943.72,478.8 944.12,478.8 944.52,478.8 944.92,478.8 945.31,478.8 945.71,478.8 946.11,478.8 946.51,478.8 946.91,478.8 947.31,478.8 947.7,478.8 948.1,478.8 948.5,478.8 948.9,478.8 949.3,478.8 949.69,478.8 950.09,478.8 950.49,478.8 950.89,478.8 951.29,478.8 951.68,478.8 952.08,478.8 952.48,478.8 952.88,478.8 953.28,478.8 953.68,478.8 954.07,478.8 954.47,478.8 954.87,478.8 955.27,478.8 955.67,478.8 956.06,478.8 956.46,478.8 956.7,478.8 956.86,478.8 957.26,478.8 957.66,478.8 958.06,478.8 958.45,478.8 958.85,478.8 959.25,478.8 959.3,478.8 959.65,478.8 960.05,478.8 960.44,478.8 960.84,478.8 961.24,478.8 961.64,478.8 962.04,478.8 962.44,478.8 962.83,478.8 963.23,478.8 963.63,478.8 964.03,478.8 964.43,478.8 964.82,478.8 965.22,478.8 965.62,478.8 966.02,478.8 966.42,478.8 966.82,478.8 967.21,478.8 967.61,478.8 968.01,478.8 968.41,478.8 968.81,478.8 969.2,478.8 969.6,478.8 970,478.8 970.4,478.8 970.8,478.8 971.2,478.8 971.59,478.8 971.99,478.8 972.39,478.8 972.79,478.8 973.19,478.8 973.58,478.8 973.98,478.8 974.38,478.8 974.78,478.8 975.18,478.8 975.58,478.8 975.97,478.8 976.37,478.8 976.77,478.8 977.17,478.8 977.57,478.8 977.96,478.8 978.36,478.8 978.76,478.8 979.16,478.8 979.56,478.8 979.95,478.8 980.35,478.8 980.75,478.8 981.15,478.8 981.55,478.8 981.95,478.8 982.1,478.8 982.34,478.8 982.74,478.8 983.14,478.8 983.54,478.57 983.94,476.31 984.33,474.44 984.73,476.71 985.13,478.8 985.53,478.8 985.7,478.8 985.93,478.8 986.33,478.8 986.72,478.8 987.12,478.8 987.52,478.8 987.92,478.8 988.32,478.8 988.71,478.8 989.11,478.8 989.51,478.8 989.91,478.8 990.31,478.8 990.71,478.8 991.1,478.8 991.5,478.8 991.9,478.8 992.3,478.8 992.7,478.8 993.09,478.8 993.49,478.8 993.89,478.8 994.29,478.8 994.69,478.8 995.09,478.8 995.48,478.8 995.88,478.8 996.28,478.8 996.68,478.8 997.08,478.8 997.47,478.8 997.87,478.8 998.27,478.8 998.67,478.8 999.07,478.8 999.46,478.8 999.86,478.8 1000.26,478.8 1000.66,478.8 1001.06,478.8 1001.46,478.8 1001.85,478.8 1002.25,478.8 1002.65,478.8 1003.05,478.8 1003.45,478.8 1003.84,478.8 1004.24,478.8 1004.64,478.8 1005.04,478.8 1005.44,478.8 1005.84,478.8 1006.23,478.8 1006.63,478.8 1007,478.8 1007.03,478.8 1007.43,478.8 1007.83,478.8 1008.22,478.8 1008.62,478.71 1009.02,476.9 1009.42,475.09 1009.82,475.27 1010.22,477.08 1010.61,478.8 1011.01,478.8 1011.41,478.8 1011.81,478.8 1012.21,478.8 1012.6,478.8 1013,478.8 1013.4,478.8 1013.8,478.8 1014.2,478.8 1014.6,478.8 1014.99,478.8 1015.39,478.8 1015.79,478.8 1016.19,478.8 1016.59,478.8 1016.98,478.8 1017.38,478.8 1017.78,478.8 1018.18,478.8 1018.58,478.8 1018.98,478.8 1019.37,478.8 1019.77,478.8 1020.17,478.8 1020.57,478.8 1020.97,478.8 1021.36,478.8 1021.76,478.8 1022.16,478.8 1022.56,478.8 1022.96,478.8 1023.36,478.8 1023.75,478.8 1024.15,478.8 1024.55,478.8 1024.95,478.8 1025.35,478.8 1025.74,478.8 1026.14,478.8 1026.54,478.8 1026.94,478.8 1027.34,478.8 1027.73,478.8 1028.13,478.8 1028.53,478.8 1028.93,478.8 1029.33,478.8 1029.73,478.8 1030.12,478.8 1030.52,478.8 1030.92,478.8 1031.32,478.8 1031.72,478.8 1032.11,478.8 1032.51,478.8 1032.91,478.8 1033.31,478.8 1033.71,478.8 1034.11,478.8 1034.5,478.8 1034.9,478.8 1035.3,478.8 1035.7,478.8 1036.1,478.8 1036.49,478.8 1036.89,478.8 1037.29,478.8 1037.69,478.8 1038.09,478.8 1038.49,478.8 1038.88,478.8 1039.28,478.8 1039.68,478.8 1040.08,478.8 1040.48,478.8 1040.87,478.8 1041.27,478.8 1041.67,478.8 1042.07,478.8 1042.47,478.8 1042.87,478.8 1043.26,478.8 1043.66,478.8 1044.06,478.8 1044.46,478.8 1044.86,478.8 1045.25,478.8 1045.65,478.8 1046.05,478.8 1046.45,478.8 1046.85,478.8 1047.24,478.8 1047.64,478.8 1048.04,478.8 1048.44,478.8 1048.84,478.8 1049.24,478.8 1049.63,478.8 1050.03,478.8 1050.43,478.8 1050.83,478.8 1051.23,478.8 1051.62,478.8 1052.02,478.8 1052.42,478.8 1052.82,478.8 1053.22,478.8 1053.62,478.8 1054.01,478.8 1054.41,478.8 1054.81,478.8 1055.21,478.8 1055.61,478.8 1056,478.8 1056.4,478.8 1056.8,478.8 1057.2,478.8 1057.6,478.8 1058,478.8 1058.39,478.8 1058.79,478.8 1059.19,478.8 1059.59,478.8 1059.99,478.8 1060.38,478.8 1060.78,478.8 1061.18,478.8 1061.58,478.8 1061.98,478.8 1062.38,478.8 1062.77,478.8 1063.17,478.8 1063.57,478.8 1063.97,478.8 1064.37,478.8 1064.76,478.8 1065.16,478.8 1065.56,478.8 1065.96,478.8 1066.36,478.8 1066.76,478.8 1067.15,478.8 1067.55,478.8 1067.95,478.8 1068.35,478.8 1068.75,478.8 1069.14,478.8 1069.54,478.8 1069.94,478.8 1070.34,478.8 1070.74,478.8 1071.14,478.8 1071.53,478.8 1071.93,478.8 1072.33,478.8 1072.73,478.8 1073.13,478.8 1073.52,478.8 1073.92,478.8 1074.32,478.8 1074.72,478.8 1075.12,478.8 1075.51,478.8 1075.91,478.8 1076.31,478.8 1076.71,478.8 1077.11,478.8 1077.51,478.8 1077.9,478.8 1078.3,478.8 1078.7,478.8 1079.1,478.8 1079.5,478.8 1079.89,478.8 1080.29,478.8 1080.69,478.8 1081.09,478.8 1081.49,478.8 1081.89,478.8 1082.28,478.8 1082.68,478.8 1083.08,478.8 1083.48,478.8 1083.88,478.8 1084.27,478.8 1084.67,478.8 1085.07,478.8 1085.47,478.8 1085.87,478.8 1086.27,478.8 1086.66,478.8 1087.06,478.8 1087.46,478.8 1087.86,478.8 1088.26,478.8 1088.65,478.8 1089.05,478.8 1089.45,478.8 1089.85,478.8 1090.25,478.8 1090.65,478.8 1091.04,478.8 1091.44,478.8 1091.84,478.8 1092.24,478.8 1092.64,478.8 1093.03,478.8 1093.43,478.8 1093.83,478.8 1094.23,478.8 1094.63,478.8 1095.03,478.8 1095.42,478.8 1095.82,478.8 1096.22,478.8 1096.62,478.8 1097.02,478.8 1097.41,478.8 1097.81,478.8 1098.21,478.8 1098.61,478.8 1099.01,478.8 1099.4,478.8 1099.8,478.8 1100.2,478.8 1100.6,478.8 1101,478.8 1101.4,478.8 1101.79,478.8 1102.19,478.8 1102.59,478.8 1102.99,478.8 1103.39,478.8 1103.78,478.8 1104.18,478.8 1104.58,478.8 1104.98,478.8 1105.38,478.8 1105.78,478.8 1106.17,478.8 1106.57,478.8 1106.97,478.8 1107.37,478.8 1107.77,478.8 1108.16,478.8 1108.56,478.8 1108.96,478.8 1109.36,478.8 1109.76,478.8 1110.16,478.8 1110.55,478.8 1110.95,478.8 1111.35,478.8 1111.75,478.8 1112.15,478.8 1112.54,478.8 1112.94,478.8 1113.34,478.8 1113.74,478.8 1114.14,478.8 1114.54,478.8 1114.93,478.8 1115.33,478.8 1115.73,478.8 1116.13,478.8 1116.53,478.8 1116.92,478.8 1117.32,478.8 1117.72,478.8 1118.12,478.8 1118.52,478.8 1118.92,478.8 1119.31,478.8 1119.71,478.8 1120.11,478.8 1120.51,478.8 1120.91,478.8 1121.3,478.8 1121.7,478.8 1122.1,478.8 1122.5,478.8 1122.9,478.8 1123.29,478.8 1123.69,478.8 1124.09,478.8 1124.49,478.8 1124.89,478.8 1125.29,478.8 1125.68,478.8 1126.08,478.8 1126.48,478.8 1126.88,478.8 1127.28,478.8 1127.67,478.8 1128.07,478.8 1128.47,478.8 1128.87,478.8 1129.27,478.8 1129.67,478.8 1130.06,478.8 1130.46,478.8 1130.86,478.8 1131.26,478.8 1131.66,478.8 1132.05,478.8 1132.45,478.8 1132.85,478.8 1133.25,478.8 1133.65,478.8 1134.05,478.8 1134.44,478.8 1134.84,478.8 1135.24,478.8 1135.64,478.8 1136.04,478.8 1136.43,478.8 1136.83,478.8 1137.23,478.8 1137.63,478.8 1138.03,478.8 1138.43,478.8 1138.82,478.8 1139.22,478.8 1139.62,478.8 1140.02,478.8 1140.42,478.8 1140.81,478.8 1141.21,478.8 1141.61,478.8 1142.01,478.8 1142.41,478.8 1142.8,478.8 1143.2,478.8 1143.6,478.8 1144,478.8 1144.4,478.8 1144.8,478.8 1145.19,478.8 1145.59,478.8 1145.99,478.8 1146.39,478.8 1146.79,478.8 1147.18,478.8 1147.58,478.8 1147.98,478.8 1148.38,478.8 1148.78,478.8 1149.18,478.8 1149.57,478.8 1149.97,478.8 1150.37,478.8 1150.77,478.8 1151.17,478.8 1151.56,478.8 1151.96,478.8 1152.36,478.8 1152.76,478.8 1153.16,478.8 1153.56,478.8 1153.95,478.8 1154.35,478.8 1154.75,478.8 1155.15,478.8 1155.55,478.8 1155.94,478.8 1156.34,478.8 1156.74,478.8 1157.14,478.8 1157.54,478.8 1157.94,478.8 1158.33,478.8 1158.73,478.8 1159.13,478.8 1159.53,478.8 1159.93,478.8 1160.32,478.8 1160.72,478.8 1161.12,478.8 1161.52,478.8 1161.92,478.8 1162.32,478.8 1162.71,478.8 1163.11,478.8 1163.51,478.8 1163.91,478.8 1164.31,478.8 1164.7,478.8 1165.1,478.8 1165.5,478.8 1165.9,478.8 1166.3,478.8 1166.7,478.8 1167.09,478.8 1167.49,478.8 1167.89,478.8 1168.29,478.8 1168.69,478.8 1169.08,478.8 1169.48,478.8 1169.88,478.8 1170.28,478.8 1170.68,478.8 1171.07,478.8 1171.47,478.8 1171.87,478.8 1172.27,478.8 1172.67,478.8 1173.07,478.8 1173.46,478.8 1173.86,478.8 1174.26,478.8 1174.66,478.8 1175.06,478.8 1175.45,478.8 1175.85,478.8 1176.25,478.8 1176.65,478.8 1177.05,478.8 1177.45,478.8 1177.84,478.8 1178.24,478.8 1178.64,478.8 1179.04,478.8 1179.44,478.8 1179.83,478.8 1180.23,478.8 1180.63,478.8 1181.03,478.8 1181.43,478.8 1181.83,478.8 1182.22,478.8 1182.62,478.8 1183.02,478.8 1183.42,478.8 1183.82,478.8 1184.21,478.8 1184.61,478.8 1185.01,478.8 1185.41,478.8 1185.81,478.8 1186.21,478.8 1186.6,478.8 1187,478.8 1187.4,478.8 1187.8,478.8 1188.2,478.8 1188.59,478.8 1188.99,478.8 1189.39,478.8 1189.79,478.8 1190.19,478.8 1190.58,478.8 1190.98,478.8 1191.38,478.8 1191.78,478.8 1192.18,478.8 1192.58,478.8 1192.97,478.8 1193.37,478.8 1193.77,478.8 1194.17,478.8 1194.57,478.8 1194.96,478.8 1195.36,478.8 1195.76,478.8 1196.16,478.8 1196.56,478.8 1196.96,478.8 1197.35,478.8 1197.75,478.8 1198.15,478.8 1198.55,478.8 1198.95,478.8 1199.34,478.8 1199.74,478.8 1200.14,478.8 1200.54,478.8 1200.94,478.8 1201.34,478.8 1201.73,478.8 1202.13,478.8 1202.53,478.8 1202.93,478.8 1203.33,478.8 1203.72,478.8 1204.12,478.8 1204.52,478.8 1204.92,478.8 1205.32,478.8 1205.72,478.8 1206.11,478.8 1206.51,478.8 1206.91,478.8 1207.31,478.8 1207.71,478.8 1208.1,478.8 1208.5,478.8 1208.9,478.8 1209.3,478.8 1209.7,478.8 1210.1,478.8 1210.49,478.8 1210.89,478.8 1211.29,478.8 1211.69,478.8 1212.09,478.8 1212.48,478.8 1212.88,478.8 1213.28,478.8 1213.68,478.8 1214.08,478.8 1214.47,478.8 1214.87,478.8 1215.27,478.8 1215.67,478.8 1216.07,478.8 1216.47,478.8 1216.86,478.8 1217.26,478.8 1217.66,478.8 1218.06,478.8 1218.46,478.8 1218.85,478.8 1219.25,478.8 1219.65,478.8 1220.05,478.8 1220.45,478.8 1220.85,478.8 1221.24,478.8 1221.64,478.8 1222.04,478.8 1222.44,478.8 1222.84,478.8 1223.23,478.8 1223.63,478.8 1224.03,478.8 1224.43,478.8 1224.83,478.8 1225.23,478.8 1225.62,478.8 1226.02,478.8 1226.42,478.8 1226.82,478.8 1227.22,478.8 1227.61,478.8 1228.01,478.8 1228.41,478.8 1228.81,478.8 1229.21,478.8 1229.61,478.8 1230,478.8 1230.4,478.8 1230.8,478.8 1231.2,478.8 1231.6,478.8 1231.99,478.8 1232.39,478.8 1232.79,478.8 1233.19,478.8 1233.59,478.8 1233.99,478.8 1234.38,478.8 1234.78,478.8 1235.18,478.8 1235.58,478.8 1235.98,478.8 1236.37,478.8 1236.77,478.8 1237.17,478.8 1237.57,478.8 1237.97,478.8 1238.36,478.8 1238.76,478.8 1239.16,478.8 1239.56,478.8 1239.96,478.8 1240.36,478.8 1240.75,478.8 1241.15,478.8 1241.55,478.8 1241.95,478.8 1242.35,478.8 1242.74,478.8 1243.14,478.8 1243.54,478.8 1243.94,478.8 1244.34,478.8 1244.74,478.8 1245.13,478.8 1245.53,478.8 1245.93,478.8 1246.33,478.8 1246.73,478.8 1247.12,478.8 1247.52,478.8 1247.92,478.8 1248.32,478.8 1248.72,478.8 1249.12,478.8 1249.51,478.8 1249.91,478.8 1250.31,478.8 1250.71,478.8 1251.11,478.8 1251.5,478.8 1251.9,478.8 1252.3,478.8 1252.7,478.8 1253.1,478.8 1253.5,478.8 1253.89,478.8 1254.29,478.8 1254.69,478.8 1255.09,478.8 1255.49,478.8 1255.88,478.8 1256.28,478.8 1256.68,478.8 1257.08,478.8 1257.48,478.8 1257.88,478.8 1258.27,478.8 1258.67,478.8 1259.07,478.8 1259.47,478.8 1259.87,478.8 1260.26,478.8 1260.66,478.8 1261.06,478.8 1261.46,478.8 1261.86,478.8 1262.26,478.8 1262.65,478.8 1263.05,478.8 1263.45,478.8 1263.85,478.8 1264.25,478.8 1264.64,478.8 1265.04,478.8 1265.44,478.8 1265.84,478.8 1266.24,478.8 1266.63,478.8 1267.03,478.8 1267.43,478.8 1267.83,478.8 1268.23,478.8 1268.63,478.8 1269.02,478.8 1269.42,478.8 1269.82,478.8 1270.22,478.8 1270.62,478.8 1271.01,478.8 1271.41,478.8 1271.81,478.8 1272.21,478.8 1272.61,478.8 1273.01,478.8 1273.4,478.8 1273.8,478.8 1274.2,478.8 1274.6,478.8 1275,478.8 1275.39,478.8 1275.79,478.8 1276.19,478.8 1276.59,478.8 1276.99,478.8 1277.39,478.8 1277.78,478.8 1278.18,478.8 1278.58,478.8 1278.98,478.8 1279.38,478.8 1279.77,478.8 1280.17,478.8 1280.57,478.8 1280.97,478.8 1281.37,478.8 1281.77,478.8 1282.16,478.8 1282.56,478.8 1282.96,478.8 1283.36,478.8 1283.76,478.8 1284.15,478.8 1284.55,478.8 1284.95,478.8 1285.35,478.8 1285.75,478.8 1286.14,478.8 1286.54,478.8 1286.94,478.8 1287.34,478.8 1287.74,478.8 1288.14,478.8 1288.53,478.8 1288.93,478.8 1289.33,478.8 1289.73,478.8 1290.13,478.8 1290.52,478.8 1290.92,478.8 1291.32,478.8 1291.72,478.8 1292.12,478.8 1292.52,478.8 1292.91,478.8 1293.31,478.8 1293.71,478.8 1294.11,478.8 1294.51,478.8 1294.9,478.8 1295.3,478.8 1295.7,478.8 1296.1,478.8 1296.5,478.8 1296.9,478.8 1297.29,478.8 1297.69,478.8 1298.09,478.8 1298.49,478.8 1298.89,478.8 1299.28,478.8 1299.68,478.8 1300.08,478.8 1300.48,478.8 1300.88,478.8 1301.28,478.8 1301.67,478.8 1302.07,478.8 1302.47,478.8 1302.87,478.8 1303.27,478.8 1303.66,478.8 1304.06,478.8 1304.46,478.8 1304.86,478.8 1305.26,478.8 1305.66,478.8 1306.05,478.8 1306.45,478.8 1306.85,478.8 1307.25,478.8 1307.65,478.8 1308.04,478.8 1308.44,478.8 1308.84,478.8 1309.24,478.8 1309.64,478.8 1310.03,478.8 1310.43,478.8 1310.83,478.8 1311.23,478.8 1311.63,478.8 1312.03,478.8 1312.42,478.8 1312.82,478.8 1313.22,478.8 1313.62,478.8 1314.02,478.8 1314.41,478.8 1314.81,478.8 1315.21,478.8 1315.61,478.8 1316.01,478.8 1316.41,478.8 1316.8,478.8 1317.2,478.8 1317.6,478.8 1318,478.8 1318.4,478.8 1318.79,478.8 1319.19,478.8 1319.59,478.8 1319.99,478.8 1320.39,478.8 1320.79,478.8 1321.18,478.8 1321.58,478.8 1321.98,478.8 1322.38,478.8 1322.78,478.8 1323.17,478.8 1323.57,478.8 1323.97,478.8 1324.37,478.8 1324.77,478.8 1325.17,478.8 1325.56,478.8 1325.96,478.8 1326.36,478.8 1326.76,478.8 1327.16,478.8 1327.55,478.8 1327.95,478.8 1328.35,478.8 1328.75,478.8 1329.15,478.8 1329.55,478.8 1329.94,478.8 1330.34,478.8 1330.74,478.8 1331.14,478.8 1331.54,478.8 1331.93,478.8 1332.33,478.8 1332.73,478.8 1333.13,478.8 1333.53,478.8 1333.92,478.8 1334.32,478.8 1334.72,478.8 1335.12,478.8 1335.52,478.8 1335.92,478.8 1336.31,478.8 1336.71,478.8 1337.11,478.8 1337.51,478.8 1337.91,478.8 1338.3,478.8 1338.7,478.8 1339.1,478.8 1339.5,478.8 1339.9,478.8 1340.3,478.8 1340.69,478.8 1341.09,475.3 1341.49,470.47 1341.89,465.64 1342.29,460.8 1342.3,460.68 1342.68,465.27 1343.08,468.2 1343.48,444.65 1343.88,421.1 1343.9,419.92 1344.28,442.29 1344.68,465.85 1345.07,468.29 1345.47,463.46 1345.7,460.68 1345.87,462.74 1346.27,467.57 1346.67,472.4 1347.06,477.11 1347.46,477.82 1347.86,476.31 1348.26,474.8 1348.66,475.25 1349.06,476.76 1349.45,478.23 1349.85,478.8 1350.25,478.8 1350.65,478.8 1351.05,478.8 1351.44,478.8 1351.84,478.8 1352.24,478.8 1352.64,478.8 1353.04,478.8 1353.44,478.8 1353.83,478.8 1354.23,478.8 1354.63,478.8 1355.03,478.8 1355.43,478.8 1355.82,478.8 1356.22,478.8 1356.62,478.8 1357.02,478.8 1357.42,478.8 1357.82,478.8 1358.21,478.8 1358.3,478.8" stroke="#0000ff" stroke-width="3" stroke-dasharray="11.1 4.8"/>
<polyline points="796.4,478.8 796.8,478.8 797.2,478.8 797.59,478.8 797.99,478.8 798.39,478.8 798.79,478.8 799.19,478.8 799.59,478.8 799.98,478.8 800.38,478.8 800.78,478.8 801.18,476.1 801.58,473.38 801.97,463.83 802.37,459.45 802.77,469.13 803.17,437.4 803.57,402.16 803.97,366.92 804.36,332.57 804.7,302.61 804.76,307.9 805.16,343.14 805.56,378.37 805.96,413.61 806.35,447.73 806.75,453.34 807.15,447.68 807.55,427.47 807.95,429.43 808.34,435.62 808.5,428.98 808.74,438.94 809.14,455.55 809.54,467.35 809.94,454.93 810.34,455.55 810.73,458.83 811.13,461.24 811.53,453.52 811.93,449.2 812.33,415.77 812.72,382.1 813.12,347.57 813.2,340.66 813.52,368.29 813.92,402.82 814.32,437.36 814.72,438.65 815.11,451.35 815.51,451.55 815.91,435.62 816.3,410.86 816.31,411.54 816.71,438.72 817.1,425.76 817.5,423.77 817.9,393.99 818.3,345.53 818.7,297.07 819.1,248.6 819.2,236.49 819.49,271.62 819.89,320.09 820.29,368.55 820.69,417.01 821.09,452.47 821.48,420.02 821.88,453.78 822.28,433.22 822.6,428.98 822.68,431.3 823.08,442.11 823.48,436.17 823.87,460.28 824.27,445.96 824.6,433.51 824.67,436.15 825.07,451.25 825.47,456.55 825.86,435.77 826.26,435.77 826.66,413.13 826.7,410.86 827.06,431.24 827.46,426.42 827.86,448.46 828.25,415.93 828.65,411.87 829.05,383.69 829.45,355.51 829.5,351.98 829.85,376.64 830.24,404.12 830.64,429.23 831.04,442.01 831.44,453.38 831.84,448.1 832.24,433.62 832.3,431.24 832.63,444.32 833.03,453.86 833.43,455.59 833.83,463.11 834.23,471.15 834.62,476.98 835.02,478.8 835.42,478.8 835.82,478.8 836.22,478.8 836.61,478.8 837.01,478.8 837.41,478.8 837.81,478.8 838.21,478.8 838.61,478.8 839,478.8 839.4,478.8 839.8,478.8 840.2,478.8 840.6,478.8 840.99,478.8 841.39,478.8 841.79,478.8 842.19,469.83 842.59,450.93 842.7,445.74 842.99,459.43 843.38,477.86 843.78,478.8 844.18,478.8 844.58,478.8 844.98,478.8 845.37,478.8 845.77,478.8 846.17,478.8 846.57,478.8 846.97,478.8 847.37,478.8 847.76,478.8 848.16,478.8 848.56,478.8 848.96,478.8 849.36,478.8 849.75,478.8 850.15,478.8 850.55,478.8 850.95,478.8 851.35,478.8 851.75,478.8 852.14,478.8 852.54,478.8 852.94,478.8 853.34,478.8 853.74,478.8 854.13,478.8 854.53,478.8 854.93,478.8 855.33,477.5 855.73,475.23 856.12,475.52 856.52,477.78 856.92,478.8 857.32,478.8 857.72,478.8 858.12,478.8 858.51,478.8 858.91,478.8 859.31,478.8 859.71,478.8 860.11,478.8 860.5,478.8 860.9,478.8 861.3,478.8 861.7,478.8 862.1,478.8 862.5,478.8 862.89,478.8 863.29,478.8 863.69,471.39 864.09,455.79 864.4,443.7 864.49,447.21 864.88,462.42 865.28,478.02 865.68,478.8 866.08,468.5 866.48,453.78 866.6,449.36 866.88,459.66 867.27,474.02 867.67,466.95 868.07,449.4 868.2,443.7 868.47,455.55 868.87,473.1 869.26,476.42 869.66,460.57 870,447.1 870.06,449.47 870.46,465.33 870.86,478.8 871.26,478.8 871.65,478.8 872.05,478.8 872.45,478.8 872.85,478.8 873.25,478.8 873.64,478.8 874.04,474.04 874.44,460.46 874.7,451.62 874.84,456.38 875.24,469.97 875.64,478.8 876.03,478.59 876.43,474.64 876.83,475.5 877.23,473.48 877.63,463.4 878.02,467.01 878.42,454.54 878.6,449.36 878.82,456.56 879.22,453.82 879.62,461.08 880.02,461.44 880.4,445.74 880.41,446.15 880.81,455.57 881.21,467.05 881.61,464.6 882.01,447.72 882.2,438.04 882.4,448.23 882.8,446.03 883.2,462.98 883.6,462.27 884,445.74 884.39,454.95 884.79,453.61 885.19,468.58 885.59,454.49 885.8,447.1 885.99,453.79 886.39,447.34 886.78,422.61 887.18,383.86 887.58,345.11 887.98,306.36 888,304.43 888.38,341.24 888.77,379.02 889.17,417.77 889.57,436.58 889.97,466.36 890.37,462.86 890.77,474.74 891.16,464.77 891.56,466.09 891.96,416.24 892.36,319.99 892.76,223.75 893.15,129.91 893.3,93.82 893.55,153.97 893.95,250.22 894.35,346.46 894.75,442.71 895.15,444.01 895.54,407.46 895.94,418.04 896.34,394.67 896.4,391.16 896.74,411.03 897.14,426.3 897.53,443.12 897.93,446.45 898.33,453.6 898.6,445.74 898.73,443.84 899.13,453.95 899.53,450.97 899.92,448.32 900.32,448.68 900.4,445.74 900.72,449.14 901.12,457.98 901.52,456.45 901.91,456.39 902.2,445.74 902.31,449.78 902.71,457.3 903.11,467.4 903.51,468.8 903.9,462.62 904.3,478.8 904.7,478.8 905.1,478.8 905.5,478.8 905.9,478.8 906.29,478.8 906.69,478.8 907.09,478.8 907.49,478.8 907.89,478.8 908.28,478.8 908.68,478.8 909.08,478.8 909.48,478.8 909.88,478.8 910.28,478.8 910.67,478.8 911.07,478.8 911.47,478.8 911.87,478.8 912.27,478.8 912.66,478.8 913.06,478.8 913.46,478.8 913.86,478.8 914.26,478.8 914.66,478.8 915.05,478.8 915.45,478.8 915.85,478.8 916.25,478.8 916.65,478.8 917.04,478.8 917.44,478.8 917.84,478.8 918.24,478.8 918.64,478.8 919.04,478.8 919.43,478.8 919.83,478.8 920.23,478.8 920.63,478.8 921.03,478.8 921.42,478.8 921.82,478.8 922.22,478.8 922.62,478.8 923.02,478.8 923.42,478.8 923.81,478.8 924.21,478.8 924.61,478.8 925.01,478.8 925.41,478.8 925.8,478.8 926.2,478.8 926.6,478.8 927,478.8 927.4,478.8 927.8,478.8 928.19,478.8 928.59,478.8 928.99,478.8 929.39,478.8 929.79,478.8 930.18,478.8 930.58,478.8 930.98,478.8 931.38,478.8 931.78,478.8 932.17,478.8 932.57,478.8 932.97,478.8 933.37,478.8 933.77,478.8 934.17,478.8 934.56,478.8 934.96,478.8 935.36,478.8 935.76,478.8 936.16,478.8 936.55,478.8 936.95,478.8 937.35,478.8 937.75,478.8 938.15,478.8 938.55,478.8 938.94,478.8 939.34,478.8 939.74,478.8 940.14,478.8 940.54,478.8 940.93,478.8 941.33,477.27 941.73,456.85 942.13,436.44 942.53,416.02 942.6,412.45 942.93,429.29 943.32,449.2 943.72,469.61 944.12,478.8 944.52,476.08 944.92,467.02 945.31,463.17 945.71,472.23 946.11,478.8 946.51,478.8 946.91,478.8 947.31,478.8 947.7,478.8 948.1,478.8 948.5,478.8 948.9,478.8 949.3,478.8 949.69,478.8 950.09,478.8 950.49,478.8 950.89,478.8 951.29,478.8 951.68,478.8 952.08,478.8 952.48,478.8 952.88,478.8 953.28,478.8 953.68,478.8 954.07,478.8 954.47,478.8 954.87,478.8 955.27,478.8 955.67,464.92 956.06,444.88 956.46,424.33 956.7,411.99 956.86,420.22 957.26,440.77 957.66,461.33 958.06,478.8 958.45,476.99 958.85,462.49 959.25,448 959.3,446.19 959.65,458.87 960.05,473.36 960.44,478.8 960.84,478.8 961.24,478.8 961.64,478.8 962.04,478.8 962.44,478.8 962.83,478.8 963.23,478.8 963.63,478.8 964.03,478.8 964.43,478.8 964.82,478.8 965.22,478.8 965.62,478.8 966.02,478.8 966.42,478.8 966.82,478.8 967.21,478.8 967.61,478.8 968.01,478.8 968.41,478.8 968.81,478.8 969.2,478.8 969.6,478.8 970,478.8 970.4,478.8 970.8,478.8 971.2,478.8 971.59,478.8 971.99,478.8 972.39,478.8 972.79,478.8 973.19,478.8 973.58,478.8 973.98,478.8 974.38,478.8 974.78,478.8 975.18,478.8 975.58,478.8 975.97,478.8 976.37,478.8 976.77,478.8 977.17,478.8 977.57,478.8 977.96,478.8 978.36,478.8 978.76,478.8 979.16,478.8 979.56,478.8 979.95,478.8 980.35,478.8 980.75,464.92 981.15,427.9 981.55,390.88 981.95,353.86 982.1,339.98 982.34,362.19 982.74,399.21 983.14,436.23 983.54,473.25 983.94,461.36 984.33,448.28 984.73,464.14 985.13,468.58 985.53,450.8 985.7,443.25 985.93,453.47 986.33,471.24 986.72,478.8 987.12,478.8 987.52,478.8 987.92,478.8 988.32,478.8 988.71,478.8 989.11,478.8 989.51,478.8 989.91,478.8 990.31,478.8 990.71,478.8 991.1,478.8 991.5,478.8 991.9,478.8 992.3,478.8 992.7,478.8 993.09,478.8 993.49,478.8 993.89,478.8 994.29,478.8 994.69,478.8 995.09,478.8 995.48,478.8 995.88,478.8 996.28,478.8 996.68,478.8 997.08,478.8 997.47,478.8 997.87,478.8 998.27,478.8 998.67,478.8 999.07,478.8 999.46,478.8 999.86,478.8 1000.26,478.8 1000.66,478.8 1001.06,478.8 1001.46,478.8 1001.85,478.8 1002.25,478.8 1002.65,478.8 1003.05,478.8 1003.45,478.8 1003.84,478.8 1004.24,478.8 1004.64,478.8 1005.04,478.8 1005.44,478.8 1005.84,458.52 1006.23,435.27 1006.63,411.41 1007,389.35 1007.03,391.14 1007.43,414.99 1007.83,438.84 1008.22,462.1 1008.62,478.35 1009.02,469.29 1009.42,460.23 1009.82,461.14 1010.22,470.19 1010.61,478.8 1011.01,478.8 1011.41,478.8 1011.81,478.8 1012.21,478.8 1012.6,475.69 1013,469.46 1013.4,469.46 1013.8,475.69 1014.2,478.8 1014.6,478.8 1014.99,478.8 1015.39,478.8 1015.79,478.8 1016.19,478.8 1016.59,478.8 1016.98,478.8 1017.38,478.8 1017.78,478.8 1018.18,478.8 1018.58,478.8 1018.98,478.8 1019.37,478.8 1019.77,478.8 1020.17,478.8 1020.57,478.8 1020.97,478.8 1021.36,478.8 1021.76,478.8 1022.16,478.8 1022.56,478.8 1022.96,478.8 1023.36,478.8 1023.75,478.8 1024.15,478.8 1024.55,478.8 1024.95,478.8 1025.35,478.8 1025.74,478.8 1026.14,478.8 1026.54,478.8 1026.94,478.8 1027.34,478.8 1027.73,478.8 1028.13,478.8 1028.53,478.8 1028.93,478.8 1029.33,478.8 1029.73,478.8 1030.12,478.8 1030.52,478.8 1030.92,478.8 1031.32,478.8 1031.72,478.8 1032.11,478.8 1032.51,478.8 1032.91,478.8 1033.31,478.8 1033.71,478.8 1034.11,478.8 1034.5,478.8 1034.9,478.8 1035.3,478.8 1035.7,478.8 1036.1,478.8 1036.49,478.8 1036.89,478.8 1037.29,478.8 1037.69,478.8 1038.09,478.8 1038.49,478.8 1038.88,478.8 1039.28,478.8 1039.68,478.8 1040.08,478.8 1040.48,478.8 1040.87,478.8 1041.27,478.8 1041.67,478.8 1042.07,478.8 1042.47,478.8 1042.87,478.8 1043.26,478.8 1043.66,478.8 1044.06,478.8 1044.46,478.8 1044.86,478.8 1045.25,478.8 1045.65,478.8 1046.05,478.8 1046.45,478.8 1046.85,478.8 1047.24,478.8 1047.64,478.8 1048.04,478.8 1048.44,478.8 1048.84,478.8 1049.24,478.8 1049.63,478.8 1050.03,478.8 1050.43,478.8 1050.83,478.8 1051.23,478.8 1051.62,478.8 1052.02,478.8 1052.42,478.8 1052.82,478.8 1053.22,478.8 1053.62,478.8 1054.01,478.8 1054.41,478.8 1054.81,478.8 1055.21,478.8 1055.61,478.8 1056,478.8 1056.4,478.8 1056.8,478.8 1057.2,478.8 1057.6,478.8 1058,478.8 1058.39,478.8 1058.79,478.8 1059.19,478.8 1059.59,478.8 1059.99,478.8 1060.38,478.8 1060.78,478.8 1061.18,478.8 1061.58,478.8 1061.98,478.8 1062.38,478.8 1062.77,478.8 1063.17,478.8 1063.57,478.8 1063.97,478.8 1064.37,478.8 1064.76,478.8 1065.16,478.8 1065.56,478.8 1065.96,478.8 1066.36,478.8 1066.76,478.8 1067.15,478.8 1067.55,478.8 1067.95,478.8 1068.35,478.8 1068.75,478.8 1069.14,478.8 1069.54,478.8 1069.94,478.8 1070.34,478.8 1070.74,478.8 1071.14,478.8 1071.53,478.8 1071.93,478.8 1072.33,478.8 1072.73,478.8 1073.13,478.8 1073.52,478.8 1073.92,478.8 1074.32,478.8 1074.72,478.8 1075.12,478.8 1075.51,478.8 1075.91,478.8 1076.31,478.8 1076.71,478.8 1077.11,478.8 1077.51,478.8 1077.9,478.8 1078.3,478.8 1078.7,478.8 1079.1,478.8 1079.5,478.8 1079.89,478.8 1080.29,478.8 1080.69,478.8 1081.09,478.8 1081.49,478.8 1081.89,478.8 1082.28,478.8 1082.68,478.8 1083.08,478.8 1083.48,478.8 1083.88,478.8 1084.27,478.8 1084.67,478.8 1085.07,478.8 1085.47,478.8 1085.87,478.8 1086.27,478.8 1086.66,478.8 1087.06,478.8 1087.46,478.8 1087.86,478.8 1088.26,478.8 1088.65,478.8 1089.05,478.8 1089.45,478.8 1089.85,478.8 1090.25,478.8 1090.65,478.8 1091.04,478.8 1091.44,478.8 1091.84,478.8 1092.24,478.8 1092.64,478.8 1093.03,478.8 1093.43,478.8 1093.83,478.8 1094.23,478.8 1094.63,478.8 1095.03,478.8 1095.42,478.8 1095.82,478.8 1096.22,478.8 1096.62,478.8 1097.02,478.8 1097.41,478.8 1097.81,478.8 1098.21,478.8 1098.61,478.8 1099.01,478.8 1099.4,478.8 1099.8,478.8 1100.2,478.8 1100.6,478.8 1101,478.8 1101.4,478.8 1101.79,478.8 1102.19,478.8 1102.59,478.8 1102.99,478.8 1103.39,478.8 1103.78,478.8 1104.18,478.8 1104.58,478.8 1104.98,478.8 1105.38,478.8 1105.78,478.8 1106.17,478.8 1106.57,478.8 1106.97,478.8 1107.37,478.8 1107.77,478.8 1108.16,478.8 1108.56,478.8 1108.96,478.8 1109.36,478.8 1109.76,478.8 1110.16,478.8 1110.55,478.8 1110.95,478.8 1111.35,478.8 1111.75,478.8 1112.15,478.8 1112.54,478.8 1112.94,478.8 1113.34,478.8 1113.74,478.8 1114.14,478.8 1114.54,478.8 1114.93,478.8 1115.33,478.8 1115.73,478.8 1116.13,478.8 1116.53,478.8 1116.92,478.8 1117.32,478.8 1117.72,478.8 1118.12,478.8 1118.52,478.8 1118.92,478.8 1119.31,478.8 1119.71,478.8 1120.11,478.8 1120.51,478.8 1120.91,478.8 1121.3,478.8 1121.7,478.8 1122.1,478.8 1122.5,478.8 1122.9,478.8 1123.29,478.8 1123.69,478.8 1124.09,478.8 1124.49,478.8 1124.89,478.8 1125.29,478.8 1125.68,478.8 1126.08,478.8 1126.48,478.8 1126.88,478.8 1127.28,478.8 1127.67,478.8 1128.07,478.8 1128.47,478.8 1128.87,478.8 1129.27,478.8 1129.67,478.8 1130.06,478.8 1130.46,478.8 1130.86,478.8 1131.26,478.8 1131.66,478.8 1132.05,478.8 1132.45,478.8 1132.85,478.8 1133.25,478.8 1133.65,478.8 1134.05,478.8 1134.44,478.8 1134.84,478.8 1135.24,478.8 1135.64,478.8 1136.04,478.8 1136.43,478.8 1136.83,478.8 1137.23,478.8 1137.63,478.8 1138.03,478.8 1138.43,478.8 1138.82,478.8 1139.22,478.8 1139.62,478.8 1140.02,478.8 1140.42,478.8 1140.81,478.8 1141.21,478.8 1141.61,478.8 1142.01,478.8 1142.41,478.8 1142.8,478.8 1143.2,478.8 1143.6,478.8 1144,478.8 1144.4,478.8 1144.8,478.8 1145.19,478.8 1145.59,478.8 1145.99,478.8 1146.39,478.8 1146.79,478.8 1147.18,478.8 1147.58,478.8 1147.98,478.8 1148.38,478.8 1148.78,478.8 1149.18,478.8 1149.57,478.8 1149.97,478.8 1150.37,478.8 1150.77,478.8 1151.17,478.8 1151.56,478.8 1151.96,478.8 1152.36,478.8 1152.76,478.8 1153.16,478.8 1153.56,478.8 1153.95,478.8 1154.35,478.8 1154.75,478.8 1155.15,478.8 1155.55,478.8 1155.94,478.8 1156.34,478.8 1156.74,478.8 1157.14,478.8 1157.54,478.8 1157.94,478.8 1158.33,478.8 1158.73,478.8 1159.13,478.8 1159.53,478.8 1159.93,478.8 1160.32,478.8 1160.72,478.8 1161.12,478.8 1161.52,478.8 1161.92,478.8 1162.32,478.8 1162.71,478.8 1163.11,478.8 1163.51,478.8 1163.91,478.8 1164.31,478.8 1164.7,478.8 1165.1,478.8 1165.5,478.8 1165.9,478.8 1166.3,478.8 1166.7,478.8 1167.09,478.8 1167.49,478.8 1167.89,478.8 1168.29,478.8 1168.69,478.8 1169.08,478.8 1169.48,478.8 1169.88,478.8 1170.28,478.8 1170.68,478.8 1171.07,478.8 1171.47,478.8 1171.87,478.8 1172.27,478.8 1172.67,478.8 1173.07,478.8 1173.46,478.8 1173.86,478.8 1174.26,478.8 1174.66,478.8 1175.06,478.8 1175.45,478.8 1175.85,478.8 1176.25,478.8 1176.65,478.8 1177.05,478.8 1177.45,478.8 1177.84,478.8 1178.24,478.8 1178.64,478.8 1179.04,478.8 1179.44,478.8 1179.83,478.8 1180.23,478.8 1180.63,478.8 1181.03,478.8 1181.43,478.8 1181.83,478.8 1182.22,478.8 1182.62,478.8 1183.02,478.8 1183.42,478.8 1183.82,478.8 1184.21,478.8 1184.61,478.8 1185.01,478.8 1185.41,478.8 1185.81,478.8 1186.21,478.8 1186.6,478.8 1187,478.8 1187.4,478.8 1187.8,478.8 1188.2,478.8 1188.59,478.8 1188.99,478.8 1189.39,478.8 1189.79,478.8 1190.19,478.8 1190.58,478.8 1190.98,478.8 1191.38,478.8 1191.78,478.8 1192.18,478.8 1192.58,478.8 1192.97,478.8 1193.37,478.8 1193.77,478.8 1194.17,478.8 1194.57,478.8 1194.96,478.8 1195.36,478.8 1195.76,478.8 1196.16,478.8 1196.56,478.8 1196.96,478.8 1197.35,478.8 1197.75,478.8 1198.15,478.8 1198.55,478.8 1198.95,478.8 1199.34,478.8 1199.74,478.8 1200.14,478.8 1200.54,478.8 1200.94,478.8 1201.34,478.8 1201.73,478.8 1202.13,478.8 1202.53,478.8 1202.93,478.8 1203.33,478.8 1203.72,478.8 1204.12,478.8 1204.52,478.8 1204.92,478.8 1205.32,478.8 1205.72,478.8 1206.11,478.8 1206.51,478.8 1206.91,478.8 1207.31,478.8 1207.71,478.8 1208.1,478.8 1208.5,478.8 1208.9,478.8 1209.3,478.8 1209.7,478.8 1210.1,478.8 1210.49,478.8 1210.89,478.8 1211.29,478.8 1211.69,478.8 1212.09,478.8 1212.48,478.8 1212.88,478.8 1213.28,478.8 1213.68,478.8 1214.08,478.8 1214.47,478.8 1214.87,478.8 1215.27,478.8 1215.67,478.8 1216.07,478.8 1216.47,478.8 1216.86,478.8 1217.26,478.8 1217.66,478.8 1218.06,478.8 1218.46,478.8 1218.85,478.8 1219.25,478.8 1219.65,478.8 1220.05,478.8 1220.45,478.8 1220.85,478.8 1221.24,478.8 1221.64,478.8 1222.04,478.8 1222.44,478.8 1222.84,478.8 1223.23,478.8 1223.63,478.8 1224.03,478.8 1224.43,478.8 1224.83,478.8 1225.23,478.8 1225.62,478.8 1226.02,478.8 1226.42,478.8 1226.82,478.8 1227.22,478.8 1227.61,478.8 1228.01,478.8 1228.41,478.8 1228.81,478.8 1229.21,478.8 1229.61,478.8 1230,478.8 1230.4,478.8 1230.8,478.8 1231.2,478.8 1231.6,478.8 1231.99,478.8 1232.39,478.8 1232.79,478.8 1233.19,478.8 1233.59,478.8 1233.99,478.8 1234.38,478.8 1234.78,478.8 1235.18,478.8 1235.58,478.8 1235.98,478.8 1236.37,478.8 1236.77,478.8 1237.17,478.8 1237.57,478.8 1237.97,478.8 1238.36,478.8 1238.76,478.8 1239.16,478.8 1239.56,478.8 1239.96,478.8 1240.36,478.8 1240.75,478.8 1241.15,478.8 1241.55,478.8 1241.95,478.8 1242.35,478.8 1242.74,478.8 1243.14,478.8 1243.54,478.8 1243.94,478.8 1244.34,478.8 1244.74,478.8 1245.13,478.8 1245.53,478.8 1245.93,478.8 1246.33,478.8 1246.73,478.8 1247.12,478.8 1247.52,478.8 1247.92,478.8 1248.32,478.8 1248.72,478.8 1249.12,478.8 1249.51,478.8 1249.91,478.8 1250.31,478.8 1250.71,478.8 1251.11,478.8 1251.5,478.8 1251.9,478.8 1252.3,478.8 1252.7,478.8 1253.1,478.8 1253.5,478.8 1253.89,478.8 1254.29,478.8 1254.69,478.8 1255.09,478.8 1255.49,478.8 1255.88,478.8 1256.28,478.8 1256.68,478.8 1257.08,478.8 1257.48,478.8 1257.88,478.8 1258.27,478.8 1258.67,478.8 1259.07,478.8 1259.47,478.8 1259.87,478.8 1260.26,478.8 1260.66,478.8 1261.06,478.8 1261.46,478.8 1261.86,478.8 1262.26,478.8 1262.65,478.8 1263.05,478.8 1263.45,478.8 1263.85,478.8 1264.25,478.8 1264.64,478.8 1265.04,478.8 1265.44,478.8 1265.84,478.8 1266.24,478.8 1266.63,478.8 1267.03,478.8 1267.43,478.8 1267.83,478.8 1268.23,478.8 1268.63,478.8 1269.02,478.8 1269.42,478.8 1269.82,478.8 1270.22,478.8 1270.62,478.8 1271.01,478.8 1271.41,478.8 1271.81,478.8 1272.21,478.8 1272.61,478.8 1273.01,478.8 1273.4,478.8 1273.8,478.8 1274.2,478.8 1274.6,478.8 1275,478.8 1275.39,478.8 1275.79,478.8 1276.19,478.8 1276.59,478.8 1276.99,478.8 1277.39,478.8 1277.78,478.8 1278.18,478.8 1278.58,478.8 1278.98,478.8 1279.38,478.8 1279.77,478.8 1280.17,478.8 1280.57,478.8 1280.97,478.8 1281.37,478.8 1281.77,478.8 1282.16,478.8 1282.56,478.8 1282.96,478.8 1283.36,478.8 1283.76,478.8 1284.15,478.8 1284.55,478.8 1284.95,478.8 1285.35,478.8 1285.75,478.8 1286.14,478.8 1286.54,478.8 1286.94,478.8 1287.34,478.8 1287.74,478.8 1288.14,478.8 1288.53,478.8 1288.93,478.8 1289.33,478.8 1289.73,478.8 1290.13,478.8 1290.52,478.8 1290.92,478.8 1291.32,478.8 1291.72,478.8 1292.12,478.8 1292.52,478.8 1292.91,478.8 1293.31,478.8 1293.71,478.8 1294.11,478.8 1294.51,478.8 1294.9,478.8 1295.3,478.8 1295.7,478.8 1296.1,478.8 1296.5,478.8 1296.9,478.8 1297.29,478.8 1297.69,478.8 1298.09,478.8 1298.49,478.8 1298.89,478.8 1299.28,478.8 1299.68,478.8 1300.08,478.8 1300.48,478.8 1300.88,478.8 1301.28,478.8 1301.67,478.8 1302.07,478.8 1302.47,478.8 1302.87,478.8 1303.27,478.8 1303.66,478.8 1304.06,478.8 1304.46,478.8 1304.86,478.8 1305.26,478.8 1305.66,478.8 1306.05,478.8 1306.45,478.8 1306.85,478.8 1307.25,478.8 1307.65,478.8 1308.04,478.8 1308.44,478.8 1308.84,478.8 1309.24,478.8 1309.64,478.8 1310.03,478.8 1310.43,478.8 1310.83,478.8 1311.23,478.8 1311.63,478.8 1312.03,478.8 1312.42,478.8 1312.82,478.8 1313.22,478.8 1313.62,478.8 1314.02,478.8 1314.41,478.8 1314.81,478.8 1315.21,478.8 1315.61,478.8 1316.01,478.8 1316.41,478.8 1316.8,478.8 1317.2,478.8 1317.6,478.8 1318,478.8 1318.4,478.8 1318.79,478.8 1319.19,478.8 1319.59,478.8 1319.99,478.8 1320.39,478.8 1320.79,478.8 1321.18,478.8 1321.58,478.8 1321.98,478.8 1322.38,478.8 1322.78,478.8 1323.17,478.8 1323.57,478.8 1323.97,478.8 1324.37,478.8 1324.77,478.8 1325.17,478.8 1325.56,478.8 1325.96,478.8 1326.36,478.8 1326.76,478.8 1327.16,478.8 1327.55,478.8 1327.95,478.8 1328.35,478.8 1328.75,478.8 1329.15,478.8 1329.55,478.8 1329.94,478.8 1330.34,478.8 1330.74,478.8 1331.14,478.8 1331.54,478.8 1331.93,478.8 1332.33,478.8 1332.73,478.8 1333.13,478.8 1333.53,478.8 1333.92,478.8 1334.32,478.8 1334.72,478.8 1335.12,478.8 1335.52,478.8 1335.92,478.8 1336.31,478.8 1336.71,478.8 1337.11,478.8 1337.51,478.8 1337.91,478.8 1338.3,478.8 1338.7,470.87 1339.1,460.31 1339.5,449.74 1339.9,455.02 1340.3,465.59 1340.69,475.89 1341.09,445.09 1341.49,398.59 1341.89,352.09 1342.29,305.59 1342.3,304.43 1342.68,348.6 1343.08,395.1 1343.48,406.56 1343.88,356.74 1343.9,354.25 1344.28,401.58 1344.68,423.72 1345.07,378.98 1345.47,333.08 1345.7,306.69 1345.87,326.2 1346.27,372.09 1346.67,417.99 1347.06,462.74 1347.46,469.97 1347.86,456.38 1348.26,442.79 1348.66,446.87 1349.06,460.46 1349.45,473.7 1349.85,478.8 1350.25,478.8 1350.65,478.8 1351.05,478.8 1351.44,478.8 1351.84,478.8 1352.24,478.8 1352.64,478.8 1353.04,478.8 1353.44,478.8 1353.83,478.8 1354.23,478.8 1354.63,478.8 1355.03,478.8 1355.43,478.8 1355.82,478.8 1356.22,478.8 1356.62,478.8 1357.02,478.8 1357.42,478.8 1357.82,478.8 1358.21,478.8 1358.3,478.8" stroke="#1e90ff" stroke-width="3" stroke-dasharray="3 4.95"/>
</g>
<path d="M820 517.1v7M891.67 517.1v7M963.34 517.1v7M1035.01 517.1v7M1106.68 517.1v7M1178.35 517.1v7M1250.02 517.1v7M1321.69 517.1v7M796.4 478.8h-7M796.4 422.19h-7M796.4 365.58h-7M796.4 308.97h-7M796.4 252.36h-7M796.4 195.75h-7M796.4 139.14h-7M796.4 82.53h-7" stroke="#000" stroke-width="1.6" fill="none"/>
<rect x="796.4" y="70.5" width="561.9" height="446.6" fill="none" stroke="#000" stroke-width="1.6"/>
<text x="820" y="545.7" text-anchor="middle">18:00</text>
<text x="891.67" y="545.7" text-anchor="middle">21:00</text>
<text x="963.34" y="545.7" text-anchor="middle">Jan-09</text>
<text x="1035.01" y="545.7" text-anchor="middle">03:00</text>
<text x="1106.68" y="545.7" text-anchor="middle">06:00</text>
<text x="1178.35" y="545.7" text-anchor="middle">09:00</text>
<text x="1250.02" y="545.7" text-anchor="middle">12:00</text>
<text x="1321.69" y="545.7" text-anchor="middle">15:00</text>
<text x="781.8" y="486.1" text-anchor="end">0</text>
<text x="781.8" y="429.49" text-anchor="end">25</text>
<text x="781.8" y="372.88" text-anchor="end">50</text>
<text x="781.8" y="316.27" text-anchor="end">75</text>
<text x="781.8" y="259.66" text-anchor="end">100</text>
<text x="781.8" y="203.05" text-anchor="end">125</text>
<text x="781.8" y="146.44" text-anchor="end">150</text>
<text x="781.8" y="89.83" text-anchor="end">175</text>
<text x="1077.35" y="573.2" text-anchor="middle">UTC time</text>
<text x="1358.3" y="571.5" text-anchor="end">2022-Jan-09</text>
<text transform="translate(728.8 293) rotate(-90)" text-anchor="middle" letter-spacing="0.085">Precipitation rate [mm hr<tspan font-size="14" dy="-7.6">−1</tspan><tspan dy="7.6">]</tspan></text>
<rect x="1167.5" y="80.7" width="179.8" height="123.6" rx="4" ry="4" fill="#fff" fill-opacity="0.8" stroke="#ccc" stroke-opacity="0.8" stroke-width="2"/>
<rect x="1176" y="89.3" width="40" height="14" fill="#800080" fill-opacity="0.5"/>
<line x1="1176" x2="1216" y1="125.7" y2="125.7" stroke="#ee82ee" stroke-width="3" stroke-linecap="square"/>
<line x1="1176" x2="1216" y1="155.1" y2="155.1" stroke="#0000ff" stroke-width="3" stroke-dasharray="11.1 4.8"/>
<line x1="1176" x2="1216" y1="184.5" y2="184.5" stroke="#1e90ff" stroke-width="3" stroke-dasharray="3 4.95"/>
<text x="1231.5" y="103.45">mean ±1<tspan font-style="italic">σ</tspan></text>
<text x="1231.5" y="132.58">mean</text>
<text x="1231.5" y="161.71">min</text>
<text x="1231.5" y="190.84">max</text>
<clipPath id="c3"><rect x="91.1" y="657.8" width="561.3" height="446.7"/></clipPath>
<g clip-path="url(#c3)" fill="none" stroke-linejoin="round">
<polygon points="151.3,1083.6 152.3,1079.8 155.1,1060.9 158.8,1047.7 163.6,1040.2 179.6,1019.5 186.2,1008.2 191.8,987.4 196.5,981.8 204.1,962.9 208.8,944.1 212.6,936.5 221,932.8 241.8,930.9 249.3,925.2 271.9,920.5 287,913.9 300,912.4 310.7,910.3 318.2,902.4 327.7,898.6 354,896.8 369.1,892.6 373.8,885.5 387.9,877.9 403,871.3 429.3,864.7 436.9,855.3 445.4,847.8 450.1,836.5 455.7,817.7 465.1,798.8 471,788.8 476.4,784.7 501.1,771 517.5,760 542.2,736.7 569.6,714.8 586,706 597,703.8 622.8,703.8 624.3,1083.6 622.8,874.2 594.2,874.2 586,875.9 569.6,881.9 542.2,895.6 509.3,913.4 481.9,923.6 473.6,928.8 465.1,935.4 455.7,941.9 448.2,949.5 429.3,954.7 403,957 380.4,961.1 365.3,965.5 329.5,967.4 320.1,969.2 312.6,973.6 300,975.7 287,977.1 271.9,979.9 249.3,983.3 241.8,987.4 222.9,988.9 214.4,993.1 209.7,1002.5 203.1,1023.2 196.5,1032.7 189,1042.1 177.7,1053.4 164.5,1066.6 158.8,1072.2 153.2,1082.6 151.3,1083.6" fill="#800080" fill-opacity="0.5" stroke="none"/>
<polyline points="91.1,1083.6 151.3,1083.6 155.1,1068.5 160.7,1057.2 173.9,1042.1 185.2,1027 190.9,1013.8 196.5,1007.2 204.1,989.3 209.7,972.3 214.4,963.9 222.9,960.7 241.8,959.2 249.3,954.4 271.9,949.7 287,945.6 300,943.5 310.7,942.3 318.2,936.3 327.7,932.9 350.3,931.6 369.1,928.8 374.7,923.1 387.9,918.4 406.7,912.8 429.3,909.9 436.9,904.3 445.4,898.6 450.1,891.1 454.8,879.8 463.2,868.5 472.7,857.2 476.4,854 492.9,847.7 514.8,835.3 542.2,816.2 569.6,798.4 586,791 597,789.3 622.8,789.3 624.3,1083.6 652.4,1083.6" stroke="#ee82ee" stroke-width="3" stroke-linecap="square"/>
<polyline points="91.1,1083.6 151.3,1083.6 155.1,1083.2 158.8,1076 163.6,1068.5 175.8,1059 190.9,1047.7 200.3,1040.2 205,1028.9 209.7,1015.7 214.4,1003.4 221,1000.2 241.8,999.1 249.3,995 271.9,991.2 287,987.4 300,986.1 310.7,985.3 320.1,978.7 329.5,976.2 367.2,973 374.7,970.2 465.1,970.2 470.8,963.6 480,959.8 487.4,955.9 509.3,946.3 528.5,934 550.4,917.5 569.6,906.6 586,899.7 591.5,898.9 622.8,898.9 624.3,1083.6 652.4,1083.6" stroke="#0000ff" stroke-width="3" stroke-dasharray="11.1 4.8"/>
<polyline points="91.1,1083.6 151.3,1083.6 153.2,1070.4 155.1,1055.3 157.9,1040.2 160.7,1030.8 168.3,1020.4 178.6,1007.2 185.2,993.1 189.4,976.1 190.5,968.6 194.7,962 200.3,949.7 206,933.7 208.8,925.2 211.6,917.7 217.3,913.9 240.8,913 247.4,907.9 271.9,903.6 287,898.8 296.4,898.3 310.7,896.8 316.4,890.2 322,887.3 354,885.5 368.1,881.7 372.9,872.3 378.5,867.6 401.1,860 425.6,854.4 433.1,847.8 442.5,837.4 447.2,830.8 451.9,813.9 457.6,798.8 465.1,780.9 468.2,772.3 476.4,765.5 501.1,750.4 514.8,739.5 542.2,713.4 569.6,690.1 586,679.7 594.2,678.1 622.8,678.1 624.3,1083.6 652.4,1083.6" stroke="#1e90ff" stroke-width="3" stroke-dasharray="3 4.95"/>
</g>
<path d="M91.1 1104.5v7M184.65 1104.5v7M278.2 1104.5v7M371.75 1104.5v7M465.3 1104.5v7M558.85 1104.5v7M652.4 1104.5v7M91.1 1083.6h-7M91.1 1013.67h-7M91.1 943.74h-7M91.1 873.81h-7M91.1 803.88h-7M91.1 733.95h-7M91.1 664.02h-7" stroke="#000" stroke-width="1.6" fill="none"/>
<rect x="91.1" y="657.8" width="561.3" height="446.7" fill="none" stroke="#000" stroke-width="1.6"/>
<text x="91.1" y="1133.1" text-anchor="middle">20:00</text>
<text x="184.65" y="1133.1" text-anchor="middle">21:00</text>
<text x="278.2" y="1133.1" text-anchor="middle">22:00</text>
<text x="371.75" y="1133.1" text-anchor="middle">23:00</text>
<text x="465.3" y="1133.1" text-anchor="middle">Apr-26</text>
<text x="558.85" y="1133.1" text-anchor="middle">01:00</text>
<text x="652.4" y="1133.1" text-anchor="middle">02:00</text>
<text x="76.5" y="1090.9" text-anchor="end">0</text>
<text x="76.5" y="1020.97" text-anchor="end">10</text>
<text x="76.5" y="951.04" text-anchor="end">20</text>
<text x="76.5" y="881.11" text-anchor="end">30</text>
<text x="76.5" y="811.18" text-anchor="end">40</text>
<text x="76.5" y="741.25" text-anchor="end">50</text>
<text x="76.5" y="671.32" text-anchor="end">60</text>
<text x="371.75" y="1160.6" text-anchor="middle">UTC time</text>
<text x="652.4" y="1158.9" text-anchor="end">2022-Apr-26</text>
<text transform="translate(38.2 880.55) rotate(-90)" text-anchor="middle" letter-spacing="0.035">Cumulative precipitation [mm]</text>
<rect x="100.5" y="668" width="179.8" height="123.6" rx="4" ry="4" fill="#fff" fill-opacity="0.8" stroke="#ccc" stroke-opacity="0.8" stroke-width="2"/>
<rect x="109" y="676.6" width="40" height="14" fill="#800080" fill-opacity="0.5"/>
<line x1="109" x2="149" y1="713" y2="713" stroke="#ee82ee" stroke-width="3" stroke-linecap="square"/>
<line x1="109" x2="149" y1="742.4" y2="742.4" stroke="#0000ff" stroke-width="3" stroke-dasharray="11.1 4.8"/>
<line x1="109" x2="149" y1="771.8" y2="771.8" stroke="#1e90ff" stroke-width="3" stroke-dasharray="3 4.95"/>
<text x="164.5" y="690.75">mean ±1<tspan font-style="italic">σ</tspan></text>
<text x="164.5" y="719.88">mean</text>
<text x="164.5" y="749.01">min</text>
<text x="164.5" y="778.14">max</text>
<clipPath id="c4"><rect x="796.4" y="657.8" width="561.9" height="446.7"/></clipPath>
<g clip-path="url(#c4)" fill="none" stroke-linejoin="round">
<polygon points="802.5,1083.3 804.4,1049.6 812,1047.5 813.8,1032 817.6,1012.5 819.5,968.5 827,951.6 830.8,930.9 859.1,929.4 870.4,923.7 883.5,919.6 889.2,910.1 892,889.4 893,880 893.9,783.2 895.9,717.5 898,708.5 901.1,705.2 902.7,705.2 903.3,1083.3 941,1083.3 943.5,1075.7 956.1,1075.7 958.2,1066.5 980.4,1066.5 982.5,1060.5 985.5,1051.3 986.7,1083.3 1005.6,1083.3 1007.5,1072.9 1014.2,1072.9 1014.8,1083.3 1337.8,1083.3 1340.6,1076.9 1341.7,1057 1344.5,1025.5 1345.6,1009 1348.4,995 1352.1,997 1352.3,1083.3 1352.3,1083.3 1352.1,1005 1351.7,1003.4 1347.9,1016.8 1345.6,1016 1344.5,1029 1341.7,1059 1340.6,1077.2 1337.8,1083.3 1014.8,1083.3 1014.2,1074.6 1007.5,1074.6 1005.6,1083.3 986.7,1083.3 985.5,1057.3 982.5,1066.6 980.8,1077.4 958.6,1077.4 956.9,1079.9 944.3,1079.9 941,1083.3 903.3,1083.3 902.7,868.4 897,870.4 893.9,877.6 892,900 890.1,936.5 888.3,959.1 883.5,962.9 870.4,967.6 859.1,970.4 832.7,972.3 829.9,976.1 825.1,987.4 819.5,996.8 817.6,1019 813.8,1040 812,1052 804.4,1060 802.5,1083.3" fill="#800080" fill-opacity="0.5" stroke="none"/>
<polyline points="796.4,1083.3 802.5,1083.3 804.4,1057.1 806.3,1053.3 812,1049.6 813.8,1036.4 817.6,1015.6 819.5,985.5 823.3,974.2 828.9,964.8 831.7,951.6 834.6,950.1 859.1,949.3 870.4,945.9 883.5,942.2 889.2,934.6 891.1,917.7 892.5,880 893.3,824.2 894.9,793.4 900,786.3 902.7,786.3 903.3,1083.3 941,1083.3 943.1,1078 956.1,1077.6 958.2,1072 980.8,1071.6 982.5,1063.6 985.5,1054.3 986.7,1083.3 1005.6,1083.3 1007.3,1073.6 1014.4,1073.2 1014.8,1083.3 1337.8,1083.3 1340.6,1077 1341.7,1058 1344.5,1027 1345.6,1012 1348.9,998.1 1352.1,1003 1352.3,1083.3 1358.3,1083.3" stroke="#ee82ee" stroke-width="3" stroke-linecap="square"/>
<polyline points="796.4,1083.3 802.5,1083.3 804.4,1068.4 806.3,1058 813.8,1056.2 814.5,1049.6 817.6,1040.1 820.4,1011.9 820.6,1000.6 827,991.2 829.9,987.4 830.8,980.8 851.5,979.8 876,977 885.4,972.3 889.2,964.8 890.1,938.4 892,936.5 902.4,936.5 903.3,1083.3 980.4,1083.3 982.5,1070.3 986.3,1069.5 987.1,1083.3 1008.1,1083.3 1008.9,1075.7 1013.6,1075.7 1014.4,1083.3 1342.3,1083.3 1343.4,1059 1346.7,1029 1347.9,1023.4 1352.1,1023.4 1352.3,1083.3 1358.3,1083.3" stroke="#0000ff" stroke-width="3" stroke-dasharray="11.1 4.8"/>
<polyline points="796.4,1083.3 802.5,1083.3 804.4,1057.1 805.4,1048.6 812,1045.8 813.8,1030.7 817.6,1011.9 819.5,970.4 821.4,959.1 827,944.1 829.9,925.2 832.7,921.1 859.1,921.1 870.4,916.7 879.8,914.9 885.4,910.1 888.3,898.8 890.8,824.2 892.8,742 893.9,684.6 899,677.5 902.7,682.6 903.3,1083.3 941,1083.3 943.1,1074.5 956.1,1074.1 957.8,1064.8 980.4,1064.4 982.1,1054.3 985.9,1048.9 986.3,1056 986.7,1083.3 1005.6,1083.3 1007.7,1072.8 1014,1072.8 1014.8,1083.3 1337.8,1083.3 1340.6,1076.9 1341.7,1056.8 1344.5,1024.5 1345.6,1007.8 1348.4,992.8 1352.1,996.7 1352.3,1083.3 1358.3,1083.3" stroke="#1e90ff" stroke-width="3" stroke-dasharray="3 4.95"/>
</g>
<path d="M820 1104.5v7M891.67 1104.5v7M963.34 1104.5v7M1035.01 1104.5v7M1106.68 1104.5v7M1178.35 1104.5v7M1250.02 1104.5v7M1321.69 1104.5v7M796.4 1083.3h-7M796.4 990.7h-7M796.4 898.1h-7M796.4 805.5h-7M796.4 712.9h-7" stroke="#000" stroke-width="1.6" fill="none"/>
<rect x="796.4" y="657.8" width="561.9" height="446.7" fill="none" stroke="#000" stroke-width="1.6"/>
<text x="820" y="1133.1" text-anchor="middle">18:00</text>
<text x="891.67" y="1133.1" text-anchor="middle">21:00</text>
<text x="963.34" y="1133.1" text-anchor="middle">Jan-09</text>
<text x="1035.01" y="1133.1" text-anchor="middle">03:00</text>
<text x="1106.68" y="1133.1" text-anchor="middle">06:00</text>
<text x="1178.35" y="1133.1" text-anchor="middle">09:00</text>
<text x="1250.02" y="1133.1" text-anchor="middle">12:00</text>
<text x="1321.69" y="1133.1" text-anchor="middle">15:00</text>
<text x="781.8" y="1090.6" text-anchor="end">0</text>
<text x="781.8" y="998" text-anchor="end">10</text>
<text x="781.8" y="905.4" text-anchor="end">20</text>
<text x="781.8" y="812.8" text-anchor="end">30</text>
<text x="781.8" y="720.2" text-anchor="end">40</text>
<text x="1077.35" y="1160.6" text-anchor="middle">UTC time</text>
<text x="1358.3" y="1158.9" text-anchor="end">2022-Jan-09</text>
<text transform="translate(744 880.55) rotate(-90)" text-anchor="middle" letter-spacing="0.035">Cumulative precipitation [mm]</text>
<rect x="1167.5" y="668.1" width="179.8" height="123.6" rx="4" ry="4" fill="#fff" fill-opacity="0.8" stroke="#ccc" stroke-opacity="0.8" stroke-width="2"/>
<rect x="1176" y="676.7" width="40" height="14" fill="#800080" fill-opacity="0.5"/>
<line x1="1176" x2="1216" y1="713.1" y2="713.1" stroke="#ee82ee" stroke-width="3" stroke-linecap="square"/>
<line x1="1176" x2="1216" y1="742.5" y2="742.5" stroke="#0000ff" stroke-width="3" stroke-dasharray="11.1 4.8"/>
<line x1="1176" x2="1216" y1="771.9" y2="771.9" stroke="#1e90ff" stroke-width="3" stroke-dasharray="3 4.95"/>
<text x="1231.5" y="690.85">mean ±1<tspan font-style="italic">σ</tspan></text>
<text x="1231.5" y="719.98">mean</text>
<text x="1231.5" y="749.11">min</text>
<text x="1231.5" y="778.24">max</text>
</svg>
</body></html>
